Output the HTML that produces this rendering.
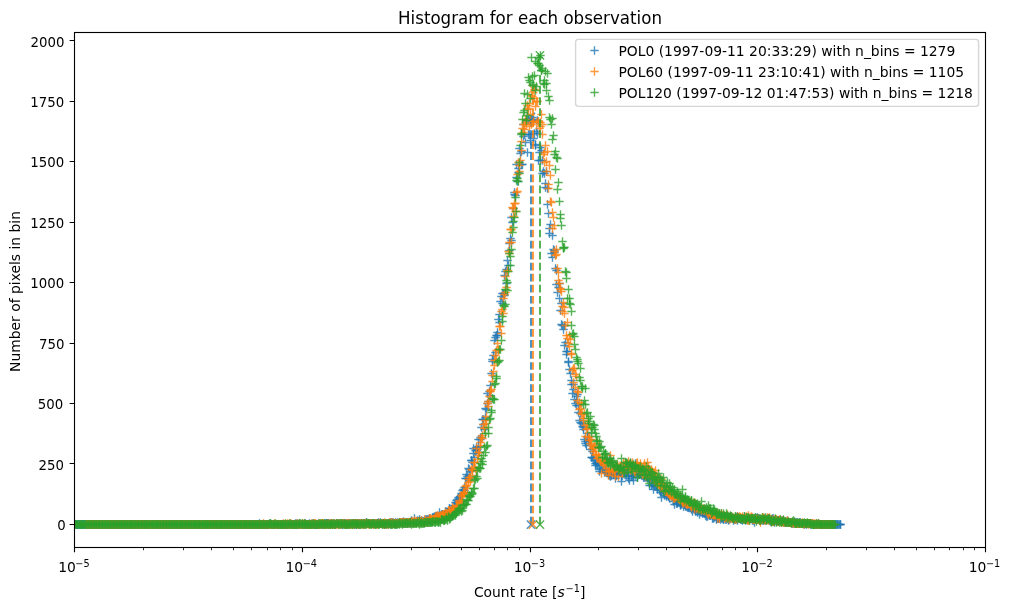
<!DOCTYPE html>
<html lang="en"><head><meta charset="utf-8"><title>Histogram for each observation</title>
<style>html,body{margin:0;padding:0;background:#fff}svg{display:block}</style></head>
<body>
<svg width="1011" height="611" viewBox="0 0 1011 611" font-family="'DejaVu Sans','Liberation Sans',sans-serif" font-size="13.89" fill="#000">
<rect width="1011" height="611" fill="#fff"/>
<clipPath id="c"><rect x="74.5" y="32.5" width="911.0" height="515.0"/></clipPath>
<g clip-path="url(#c)" fill="none">
<g stroke="#1f77b4" stroke-opacity=".8" stroke-width="1.39">
<path d="M64.3 524.5h8.4m-4.2-4.2v8.4"/><path d="M65.3 524.5h8.4m-4.2-4.2v8.4"/><path d="M66.3 524.5h8.4m-4.2-4.2v8.4"/><path d="M67.3 524.5h8.4m-4.2-4.2v8.4"/><path d="M67.3 524.5h8.4m-4.2-4.2v8.4"/><path d="M68.3 524.5h8.4m-4.2-4.2v8.4"/><path d="M69.3 524.5h8.4m-4.2-4.2v8.4"/><path d="M69.3 524.5h8.4m-4.2-4.2v8.4"/><path d="M70.3 524.5h8.4m-4.2-4.2v8.4"/><path d="M71.3 524.5h8.4m-4.2-4.2v8.4"/><path d="M72.3 524.5h8.4m-4.2-4.2v8.4"/><path d="M72.3 524.5h8.4m-4.2-4.2v8.4"/><path d="M73.3 524.5h8.4m-4.2-4.2v8.4"/><path d="M74.3 524.5h8.4m-4.2-4.2v8.4"/><path d="M74.3 524.5h8.4m-4.2-4.2v8.4"/><path d="M75.3 524.5h8.4m-4.2-4.2v8.4"/><path d="M76.3 524.5h8.4m-4.2-4.2v8.4"/><path d="M76.3 524.5h8.4m-4.2-4.2v8.4"/><path d="M77.3 524.5h8.4m-4.2-4.2v8.4"/><path d="M78.3 524.5h8.4m-4.2-4.2v8.4"/><path d="M79.3 524.5h8.4m-4.2-4.2v8.4"/><path d="M79.3 524.5h8.4m-4.2-4.2v8.4"/><path d="M80.3 524.5h8.4m-4.2-4.2v8.4"/><path d="M81.3 524.5h8.4m-4.2-4.2v8.4"/><path d="M81.3 524.5h8.4m-4.2-4.2v8.4"/><path d="M82.3 524.5h8.4m-4.2-4.2v8.4"/><path d="M83.3 524.5h8.4m-4.2-4.2v8.4"/><path d="M83.3 524.5h8.4m-4.2-4.2v8.4"/><path d="M84.3 524.5h8.4m-4.2-4.2v8.4"/><path d="M85.3 524.5h8.4m-4.2-4.2v8.4"/><path d="M86.3 524.5h8.4m-4.2-4.2v8.4"/><path d="M86.3 524.5h8.4m-4.2-4.2v8.4"/><path d="M87.3 524.5h8.4m-4.2-4.2v8.4"/><path d="M88.3 524.5h8.4m-4.2-4.2v8.4"/><path d="M88.3 524.5h8.4m-4.2-4.2v8.4"/><path d="M89.3 524.5h8.4m-4.2-4.2v8.4"/><path d="M90.3 524.5h8.4m-4.2-4.2v8.4"/><path d="M91.3 524.5h8.4m-4.2-4.2v8.4"/><path d="M91.3 524.5h8.4m-4.2-4.2v8.4"/><path d="M92.3 524.5h8.4m-4.2-4.2v8.4"/><path d="M93.3 524.5h8.4m-4.2-4.2v8.4"/><path d="M93.3 524.5h8.4m-4.2-4.2v8.4"/><path d="M94.3 524.5h8.4m-4.2-4.2v8.4"/><path d="M95.3 524.5h8.4m-4.2-4.2v8.4"/><path d="M95.3 524.5h8.4m-4.2-4.2v8.4"/><path d="M96.3 524.5h8.4m-4.2-4.2v8.4"/><path d="M97.3 524.5h8.4m-4.2-4.2v8.4"/><path d="M98.3 524.5h8.4m-4.2-4.2v8.4"/><path d="M98.3 524.5h8.4m-4.2-4.2v8.4"/><path d="M99.3 524.5h8.4m-4.2-4.2v8.4"/><path d="M100.3 524.5h8.4m-4.2-4.2v8.4"/><path d="M100.3 524.5h8.4m-4.2-4.2v8.4"/><path d="M101.3 524.5h8.4m-4.2-4.2v8.4"/><path d="M102.3 524.5h8.4m-4.2-4.2v8.4"/><path d="M102.3 524.5h8.4m-4.2-4.2v8.4"/><path d="M103.3 524.5h8.4m-4.2-4.2v8.4"/><path d="M104.3 524.5h8.4m-4.2-4.2v8.4"/><path d="M105.3 524.5h8.4m-4.2-4.2v8.4"/><path d="M105.3 524.5h8.4m-4.2-4.2v8.4"/><path d="M106.3 524.5h8.4m-4.2-4.2v8.4"/><path d="M107.3 524.5h8.4m-4.2-4.2v8.4"/><path d="M107.3 524.5h8.4m-4.2-4.2v8.4"/><path d="M108.3 524.5h8.4m-4.2-4.2v8.4"/><path d="M109.3 524.5h8.4m-4.2-4.2v8.4"/><path d="M110.3 524.5h8.4m-4.2-4.2v8.4"/><path d="M110.3 524.5h8.4m-4.2-4.2v8.4"/><path d="M111.3 524.5h8.4m-4.2-4.2v8.4"/><path d="M112.3 524.5h8.4m-4.2-4.2v8.4"/><path d="M112.3 524.5h8.4m-4.2-4.2v8.4"/><path d="M113.3 524.5h8.4m-4.2-4.2v8.4"/><path d="M114.3 524.5h8.4m-4.2-4.2v8.4"/><path d="M114.3 524.5h8.4m-4.2-4.2v8.4"/><path d="M115.3 524.5h8.4m-4.2-4.2v8.4"/><path d="M116.3 524.5h8.4m-4.2-4.2v8.4"/><path d="M117.3 524.5h8.4m-4.2-4.2v8.4"/><path d="M117.3 524.5h8.4m-4.2-4.2v8.4"/><path d="M118.3 524.5h8.4m-4.2-4.2v8.4"/><path d="M119.3 524.5h8.4m-4.2-4.2v8.4"/><path d="M119.3 524.5h8.4m-4.2-4.2v8.4"/><path d="M120.3 524.5h8.4m-4.2-4.2v8.4"/><path d="M121.3 524.5h8.4m-4.2-4.2v8.4"/><path d="M122.3 524.5h8.4m-4.2-4.2v8.4"/><path d="M122.3 524.5h8.4m-4.2-4.2v8.4"/><path d="M123.3 524.5h8.4m-4.2-4.2v8.4"/><path d="M124.3 524.5h8.4m-4.2-4.2v8.4"/><path d="M124.3 524.5h8.4m-4.2-4.2v8.4"/><path d="M125.3 524.5h8.4m-4.2-4.2v8.4"/><path d="M126.3 524.5h8.4m-4.2-4.2v8.4"/><path d="M126.3 524.5h8.4m-4.2-4.2v8.4"/><path d="M127.3 524.5h8.4m-4.2-4.2v8.4"/><path d="M128.3 524.5h8.4m-4.2-4.2v8.4"/><path d="M129.3 524.5h8.4m-4.2-4.2v8.4"/><path d="M129.3 524.5h8.4m-4.2-4.2v8.4"/><path d="M130.3 524.5h8.4m-4.2-4.2v8.4"/><path d="M131.3 524.5h8.4m-4.2-4.2v8.4"/><path d="M131.3 524.5h8.4m-4.2-4.2v8.4"/><path d="M132.3 524.5h8.4m-4.2-4.2v8.4"/><path d="M133.3 524.5h8.4m-4.2-4.2v8.4"/><path d="M133.3 524.5h8.4m-4.2-4.2v8.4"/><path d="M134.3 524.5h8.4m-4.2-4.2v8.4"/><path d="M135.3 524.5h8.4m-4.2-4.2v8.4"/><path d="M136.3 524.5h8.4m-4.2-4.2v8.4"/><path d="M136.3 524.5h8.4m-4.2-4.2v8.4"/><path d="M137.3 524.5h8.4m-4.2-4.2v8.4"/><path d="M138.3 524.5h8.4m-4.2-4.2v8.4"/><path d="M138.3 524.5h8.4m-4.2-4.2v8.4"/><path d="M139.3 524.5h8.4m-4.2-4.2v8.4"/><path d="M140.3 524.5h8.4m-4.2-4.2v8.4"/><path d="M141.3 524.5h8.4m-4.2-4.2v8.4"/><path d="M141.3 524.5h8.4m-4.2-4.2v8.4"/><path d="M142.3 524.5h8.4m-4.2-4.2v8.4"/><path d="M143.3 524.5h8.4m-4.2-4.2v8.4"/><path d="M143.3 524.5h8.4m-4.2-4.2v8.4"/><path d="M144.3 524.5h8.4m-4.2-4.2v8.4"/><path d="M145.3 524.5h8.4m-4.2-4.2v8.4"/><path d="M145.3 524.5h8.4m-4.2-4.2v8.4"/><path d="M146.3 524.5h8.4m-4.2-4.2v8.4"/><path d="M147.3 524.5h8.4m-4.2-4.2v8.4"/><path d="M148.3 524.5h8.4m-4.2-4.2v8.4"/><path d="M148.3 524.5h8.4m-4.2-4.2v8.4"/><path d="M149.3 524.5h8.4m-4.2-4.2v8.4"/><path d="M150.3 524.5h8.4m-4.2-4.2v8.4"/><path d="M150.3 524.5h8.4m-4.2-4.2v8.4"/><path d="M151.3 524.5h8.4m-4.2-4.2v8.4"/><path d="M152.3 524.5h8.4m-4.2-4.2v8.4"/><path d="M152.3 524.5h8.4m-4.2-4.2v8.4"/><path d="M153.3 524.5h8.4m-4.2-4.2v8.4"/><path d="M154.3 524.5h8.4m-4.2-4.2v8.4"/><path d="M155.3 524.5h8.4m-4.2-4.2v8.4"/><path d="M155.3 524.5h8.4m-4.2-4.2v8.4"/><path d="M156.3 524.5h8.4m-4.2-4.2v8.4"/><path d="M157.3 524.5h8.4m-4.2-4.2v8.4"/><path d="M157.3 524.5h8.4m-4.2-4.2v8.4"/><path d="M158.3 524.5h8.4m-4.2-4.2v8.4"/><path d="M159.3 524.5h8.4m-4.2-4.2v8.4"/><path d="M160.3 524.5h8.4m-4.2-4.2v8.4"/><path d="M160.3 524.5h8.4m-4.2-4.2v8.4"/><path d="M161.3 524.5h8.4m-4.2-4.2v8.4"/><path d="M162.3 524.5h8.4m-4.2-4.2v8.4"/><path d="M162.3 524.5h8.4m-4.2-4.2v8.4"/><path d="M163.3 524.5h8.4m-4.2-4.2v8.4"/><path d="M164.3 524.5h8.4m-4.2-4.2v8.4"/><path d="M164.3 524.5h8.4m-4.2-4.2v8.4"/><path d="M165.3 524.5h8.4m-4.2-4.2v8.4"/><path d="M166.3 524.5h8.4m-4.2-4.2v8.4"/><path d="M167.3 524.5h8.4m-4.2-4.2v8.4"/><path d="M167.3 524.5h8.4m-4.2-4.2v8.4"/><path d="M168.3 524.5h8.4m-4.2-4.2v8.4"/><path d="M169.3 524.5h8.4m-4.2-4.2v8.4"/><path d="M169.3 524.5h8.4m-4.2-4.2v8.4"/><path d="M170.3 524.5h8.4m-4.2-4.2v8.4"/><path d="M171.3 524.5h8.4m-4.2-4.2v8.4"/><path d="M172.3 524.5h8.4m-4.2-4.2v8.4"/><path d="M172.3 524.5h8.4m-4.2-4.2v8.4"/><path d="M173.3 524.5h8.4m-4.2-4.2v8.4"/><path d="M174.3 524.5h8.4m-4.2-4.2v8.4"/><path d="M174.3 524.5h8.4m-4.2-4.2v8.4"/><path d="M175.3 524.5h8.4m-4.2-4.2v8.4"/><path d="M176.3 524.5h8.4m-4.2-4.2v8.4"/><path d="M176.3 524.5h8.4m-4.2-4.2v8.4"/><path d="M177.3 524.5h8.4m-4.2-4.2v8.4"/><path d="M178.3 524.5h8.4m-4.2-4.2v8.4"/><path d="M179.3 524.5h8.4m-4.2-4.2v8.4"/><path d="M179.3 524.5h8.4m-4.2-4.2v8.4"/><path d="M180.3 524.5h8.4m-4.2-4.2v8.4"/><path d="M181.3 524.5h8.4m-4.2-4.2v8.4"/><path d="M181.3 524.5h8.4m-4.2-4.2v8.4"/><path d="M182.3 524.5h8.4m-4.2-4.2v8.4"/><path d="M183.3 524.5h8.4m-4.2-4.2v8.4"/><path d="M183.3 524.5h8.4m-4.2-4.2v8.4"/><path d="M184.3 524.5h8.4m-4.2-4.2v8.4"/><path d="M185.3 524.5h8.4m-4.2-4.2v8.4"/><path d="M186.3 524.5h8.4m-4.2-4.2v8.4"/><path d="M186.3 524.5h8.4m-4.2-4.2v8.4"/><path d="M187.3 524.5h8.4m-4.2-4.2v8.4"/><path d="M188.3 524.5h8.4m-4.2-4.2v8.4"/><path d="M188.3 524.5h8.4m-4.2-4.2v8.4"/><path d="M189.3 524.5h8.4m-4.2-4.2v8.4"/><path d="M190.3 524.5h8.4m-4.2-4.2v8.4"/><path d="M191.3 524.5h8.4m-4.2-4.2v8.4"/><path d="M191.3 524.5h8.4m-4.2-4.2v8.4"/><path d="M192.3 524.5h8.4m-4.2-4.2v8.4"/><path d="M193.3 524.5h8.4m-4.2-4.2v8.4"/><path d="M193.3 524.5h8.4m-4.2-4.2v8.4"/><path d="M194.3 524.5h8.4m-4.2-4.2v8.4"/><path d="M195.3 524.5h8.4m-4.2-4.2v8.4"/><path d="M195.3 524.5h8.4m-4.2-4.2v8.4"/><path d="M196.3 524.5h8.4m-4.2-4.2v8.4"/><path d="M197.3 524.5h8.4m-4.2-4.2v8.4"/><path d="M198.3 524.5h8.4m-4.2-4.2v8.4"/><path d="M198.3 524.5h8.4m-4.2-4.2v8.4"/><path d="M199.3 524.5h8.4m-4.2-4.2v8.4"/><path d="M200.3 524.5h8.4m-4.2-4.2v8.4"/><path d="M200.3 524.5h8.4m-4.2-4.2v8.4"/><path d="M201.3 524.5h8.4m-4.2-4.2v8.4"/><path d="M202.3 524.5h8.4m-4.2-4.2v8.4"/><path d="M202.3 524.5h8.4m-4.2-4.2v8.4"/><path d="M203.3 524.5h8.4m-4.2-4.2v8.4"/><path d="M204.3 524.5h8.4m-4.2-4.2v8.4"/><path d="M205.3 524.5h8.4m-4.2-4.2v8.4"/><path d="M205.3 524.5h8.4m-4.2-4.2v8.4"/><path d="M206.3 524.5h8.4m-4.2-4.2v8.4"/><path d="M207.3 524.5h8.4m-4.2-4.2v8.4"/><path d="M207.3 524.5h8.4m-4.2-4.2v8.4"/><path d="M208.3 524.5h8.4m-4.2-4.2v8.4"/><path d="M209.3 524.5h8.4m-4.2-4.2v8.4"/><path d="M210.3 524.5h8.4m-4.2-4.2v8.4"/><path d="M210.3 524.5h8.4m-4.2-4.2v8.4"/><path d="M211.3 524.5h8.4m-4.2-4.2v8.4"/><path d="M212.3 524.5h8.4m-4.2-4.2v8.4"/><path d="M212.3 524.5h8.4m-4.2-4.2v8.4"/><path d="M213.3 524.5h8.4m-4.2-4.2v8.4"/><path d="M214.3 524.5h8.4m-4.2-4.2v8.4"/><path d="M214.3 524.5h8.4m-4.2-4.2v8.4"/><path d="M215.3 524.5h8.4m-4.2-4.2v8.4"/><path d="M216.3 524.5h8.4m-4.2-4.2v8.4"/><path d="M217.3 524.5h8.4m-4.2-4.2v8.4"/><path d="M217.3 524.5h8.4m-4.2-4.2v8.4"/><path d="M218.3 524.5h8.4m-4.2-4.2v8.4"/><path d="M219.3 524.5h8.4m-4.2-4.2v8.4"/><path d="M219.3 524.5h8.4m-4.2-4.2v8.4"/><path d="M220.3 524.5h8.4m-4.2-4.2v8.4"/><path d="M221.3 524.5h8.4m-4.2-4.2v8.4"/><path d="M222.3 524.5h8.4m-4.2-4.2v8.4"/><path d="M222.3 524.5h8.4m-4.2-4.2v8.4"/><path d="M223.3 524.5h8.4m-4.2-4.2v8.4"/><path d="M224.3 524.5h8.4m-4.2-4.2v8.4"/><path d="M224.3 524.5h8.4m-4.2-4.2v8.4"/><path d="M225.3 524.5h8.4m-4.2-4.2v8.4"/><path d="M226.3 524.5h8.4m-4.2-4.2v8.4"/><path d="M226.3 524.5h8.4m-4.2-4.2v8.4"/><path d="M227.3 524.5h8.4m-4.2-4.2v8.4"/><path d="M228.3 524.5h8.4m-4.2-4.2v8.4"/><path d="M229.3 524.5h8.4m-4.2-4.2v8.4"/><path d="M229.3 524.5h8.4m-4.2-4.2v8.4"/><path d="M230.3 524.5h8.4m-4.2-4.2v8.4"/><path d="M231.3 524.5h8.4m-4.2-4.2v8.4"/><path d="M231.3 524.5h8.4m-4.2-4.2v8.4"/><path d="M232.3 524.5h8.4m-4.2-4.2v8.4"/><path d="M233.3 524.5h8.4m-4.2-4.2v8.4"/><path d="M233.3 524.5h8.4m-4.2-4.2v8.4"/><path d="M234.3 524.5h8.4m-4.2-4.2v8.4"/><path d="M235.3 524.5h8.4m-4.2-4.2v8.4"/><path d="M236.3 524.5h8.4m-4.2-4.2v8.4"/><path d="M236.3 524.5h8.4m-4.2-4.2v8.4"/><path d="M237.3 524.5h8.4m-4.2-4.2v8.4"/><path d="M238.3 524.5h8.4m-4.2-4.2v8.4"/><path d="M238.3 524.5h8.4m-4.2-4.2v8.4"/><path d="M239.3 524.5h8.4m-4.2-4.2v8.4"/><path d="M240.3 524.5h8.4m-4.2-4.2v8.4"/><path d="M241.3 524.5h8.4m-4.2-4.2v8.4"/><path d="M241.3 524.5h8.4m-4.2-4.2v8.4"/><path d="M242.3 524.5h8.4m-4.2-4.2v8.4"/><path d="M243.3 524.5h8.4m-4.2-4.2v8.4"/><path d="M243.3 524.5h8.4m-4.2-4.2v8.4"/><path d="M244.3 524.5h8.4m-4.2-4.2v8.4"/><path d="M245.3 524.5h8.4m-4.2-4.2v8.4"/><path d="M245.3 524.5h8.4m-4.2-4.2v8.4"/><path d="M246.3 524.5h8.4m-4.2-4.2v8.4"/><path d="M247.3 524.5h8.4m-4.2-4.2v8.4"/><path d="M248.3 524.5h8.4m-4.2-4.2v8.4"/><path d="M248.3 524.5h8.4m-4.2-4.2v8.4"/><path d="M249.3 524.5h8.4m-4.2-4.2v8.4"/><path d="M250.3 524.5h8.4m-4.2-4.2v8.4"/><path d="M250.3 524.5h8.4m-4.2-4.2v8.4"/><path d="M251.3 524.5h8.4m-4.2-4.2v8.4"/><path d="M252.3 524.5h8.4m-4.2-4.2v8.4"/><path d="M252.3 524.5h8.4m-4.2-4.2v8.4"/><path d="M253.3 524.5h8.4m-4.2-4.2v8.4"/><path d="M254.3 524.5h8.4m-4.2-4.2v8.4"/><path d="M255.3 524.5h8.4m-4.2-4.2v8.4"/><path d="M255.3 523.5h8.4m-4.2-4.2v8.4"/><path d="M256.3 524.5h8.4m-4.2-4.2v8.4"/><path d="M257.3 524.5h8.4m-4.2-4.2v8.4"/><path d="M257.3 524.5h8.4m-4.2-4.2v8.4"/><path d="M258.3 524.5h8.4m-4.2-4.2v8.4"/><path d="M259.3 524.5h8.4m-4.2-4.2v8.4"/><path d="M260.3 524.5h8.4m-4.2-4.2v8.4"/><path d="M260.3 524.5h8.4m-4.2-4.2v8.4"/><path d="M261.3 524.5h8.4m-4.2-4.2v8.4"/><path d="M262.3 524.5h8.4m-4.2-4.2v8.4"/><path d="M262.3 524.5h8.4m-4.2-4.2v8.4"/><path d="M263.3 524.5h8.4m-4.2-4.2v8.4"/><path d="M264.3 524.5h8.4m-4.2-4.2v8.4"/><path d="M264.3 524.5h8.4m-4.2-4.2v8.4"/><path d="M265.3 524.5h8.4m-4.2-4.2v8.4"/><path d="M266.3 523.5h8.4m-4.2-4.2v8.4"/><path d="M267.3 524.5h8.4m-4.2-4.2v8.4"/><path d="M267.3 524.5h8.4m-4.2-4.2v8.4"/><path d="M268.3 524.5h8.4m-4.2-4.2v8.4"/><path d="M269.3 524.5h8.4m-4.2-4.2v8.4"/><path d="M269.3 524.5h8.4m-4.2-4.2v8.4"/><path d="M270.3 524.5h8.4m-4.2-4.2v8.4"/><path d="M271.3 524.5h8.4m-4.2-4.2v8.4"/><path d="M272.3 524.5h8.4m-4.2-4.2v8.4"/><path d="M272.3 524.5h8.4m-4.2-4.2v8.4"/><path d="M273.3 524.5h8.4m-4.2-4.2v8.4"/><path d="M274.3 524.5h8.4m-4.2-4.2v8.4"/><path d="M274.3 524.5h8.4m-4.2-4.2v8.4"/><path d="M275.3 524.5h8.4m-4.2-4.2v8.4"/><path d="M276.3 524.5h8.4m-4.2-4.2v8.4"/><path d="M276.3 524.5h8.4m-4.2-4.2v8.4"/><path d="M277.3 524.5h8.4m-4.2-4.2v8.4"/><path d="M278.3 524.5h8.4m-4.2-4.2v8.4"/><path d="M279.3 524.5h8.4m-4.2-4.2v8.4"/><path d="M279.3 524.5h8.4m-4.2-4.2v8.4"/><path d="M280.3 524.5h8.4m-4.2-4.2v8.4"/><path d="M281.3 524.5h8.4m-4.2-4.2v8.4"/><path d="M281.3 524.5h8.4m-4.2-4.2v8.4"/><path d="M282.3 524.5h8.4m-4.2-4.2v8.4"/><path d="M283.3 524.5h8.4m-4.2-4.2v8.4"/><path d="M283.3 524.5h8.4m-4.2-4.2v8.4"/><path d="M284.3 524.5h8.4m-4.2-4.2v8.4"/><path d="M285.3 524.5h8.4m-4.2-4.2v8.4"/><path d="M286.3 523.5h8.4m-4.2-4.2v8.4"/><path d="M286.3 524.5h8.4m-4.2-4.2v8.4"/><path d="M287.3 524.5h8.4m-4.2-4.2v8.4"/><path d="M288.3 524.5h8.4m-4.2-4.2v8.4"/><path d="M288.3 524.5h8.4m-4.2-4.2v8.4"/><path d="M289.3 524.5h8.4m-4.2-4.2v8.4"/><path d="M290.3 524.5h8.4m-4.2-4.2v8.4"/><path d="M291.3 524.5h8.4m-4.2-4.2v8.4"/><path d="M291.3 523.5h8.4m-4.2-4.2v8.4"/><path d="M292.3 524.5h8.4m-4.2-4.2v8.4"/><path d="M293.3 524.5h8.4m-4.2-4.2v8.4"/><path d="M293.3 523.5h8.4m-4.2-4.2v8.4"/><path d="M294.3 524.5h8.4m-4.2-4.2v8.4"/><path d="M295.3 524.5h8.4m-4.2-4.2v8.4"/><path d="M295.3 523.5h8.4m-4.2-4.2v8.4"/><path d="M296.3 524.5h8.4m-4.2-4.2v8.4"/><path d="M297.3 524.5h8.4m-4.2-4.2v8.4"/><path d="M298.3 524.5h8.4m-4.2-4.2v8.4"/><path d="M298.3 524.5h8.4m-4.2-4.2v8.4"/><path d="M299.3 524.5h8.4m-4.2-4.2v8.4"/><path d="M300.3 524.5h8.4m-4.2-4.2v8.4"/><path d="M300.3 524.5h8.4m-4.2-4.2v8.4"/><path d="M301.3 523.5h8.4m-4.2-4.2v8.4"/><path d="M302.3 524.5h8.4m-4.2-4.2v8.4"/><path d="M302.3 524.5h8.4m-4.2-4.2v8.4"/><path d="M303.3 524.5h8.4m-4.2-4.2v8.4"/><path d="M304.3 524.5h8.4m-4.2-4.2v8.4"/><path d="M305.3 523.5h8.4m-4.2-4.2v8.4"/><path d="M305.3 524.5h8.4m-4.2-4.2v8.4"/><path d="M306.3 524.5h8.4m-4.2-4.2v8.4"/><path d="M307.3 524.5h8.4m-4.2-4.2v8.4"/><path d="M307.3 524.5h8.4m-4.2-4.2v8.4"/><path d="M308.3 523.5h8.4m-4.2-4.2v8.4"/><path d="M309.3 524.5h8.4m-4.2-4.2v8.4"/><path d="M310.3 524.5h8.4m-4.2-4.2v8.4"/><path d="M310.3 524.5h8.4m-4.2-4.2v8.4"/><path d="M311.3 524.5h8.4m-4.2-4.2v8.4"/><path d="M312.3 524.5h8.4m-4.2-4.2v8.4"/><path d="M312.3 524.5h8.4m-4.2-4.2v8.4"/><path d="M313.3 524.5h8.4m-4.2-4.2v8.4"/><path d="M314.3 524.5h8.4m-4.2-4.2v8.4"/><path d="M314.3 523.5h8.4m-4.2-4.2v8.4"/><path d="M315.3 524.5h8.4m-4.2-4.2v8.4"/><path d="M316.3 524.5h8.4m-4.2-4.2v8.4"/><path d="M317.3 523.5h8.4m-4.2-4.2v8.4"/><path d="M317.3 524.5h8.4m-4.2-4.2v8.4"/><path d="M318.3 524.5h8.4m-4.2-4.2v8.4"/><path d="M319.3 524.5h8.4m-4.2-4.2v8.4"/><path d="M319.3 524.5h8.4m-4.2-4.2v8.4"/><path d="M320.3 523.5h8.4m-4.2-4.2v8.4"/><path d="M321.3 523.5h8.4m-4.2-4.2v8.4"/><path d="M322.3 523.5h8.4m-4.2-4.2v8.4"/><path d="M322.3 523.5h8.4m-4.2-4.2v8.4"/><path d="M323.3 523.5h8.4m-4.2-4.2v8.4"/><path d="M324.3 523.5h8.4m-4.2-4.2v8.4"/><path d="M324.3 523.5h8.4m-4.2-4.2v8.4"/><path d="M325.3 524.5h8.4m-4.2-4.2v8.4"/><path d="M326.3 524.5h8.4m-4.2-4.2v8.4"/><path d="M326.3 523.5h8.4m-4.2-4.2v8.4"/><path d="M327.3 523.5h8.4m-4.2-4.2v8.4"/><path d="M328.3 524.5h8.4m-4.2-4.2v8.4"/><path d="M329.3 523.5h8.4m-4.2-4.2v8.4"/><path d="M329.3 524.5h8.4m-4.2-4.2v8.4"/><path d="M330.3 523.5h8.4m-4.2-4.2v8.4"/><path d="M331.3 524.5h8.4m-4.2-4.2v8.4"/><path d="M331.3 524.5h8.4m-4.2-4.2v8.4"/><path d="M332.3 523.5h8.4m-4.2-4.2v8.4"/><path d="M333.3 523.5h8.4m-4.2-4.2v8.4"/><path d="M333.3 523.5h8.4m-4.2-4.2v8.4"/><path d="M334.3 524.5h8.4m-4.2-4.2v8.4"/><path d="M335.3 523.5h8.4m-4.2-4.2v8.4"/><path d="M336.3 524.5h8.4m-4.2-4.2v8.4"/><path d="M336.3 523.5h8.4m-4.2-4.2v8.4"/><path d="M337.3 523.5h8.4m-4.2-4.2v8.4"/><path d="M338.3 524.5h8.4m-4.2-4.2v8.4"/><path d="M338.3 524.5h8.4m-4.2-4.2v8.4"/><path d="M339.3 523.5h8.4m-4.2-4.2v8.4"/><path d="M340.3 523.5h8.4m-4.2-4.2v8.4"/><path d="M341.3 524.5h8.4m-4.2-4.2v8.4"/><path d="M341.3 523.5h8.4m-4.2-4.2v8.4"/><path d="M342.3 523.5h8.4m-4.2-4.2v8.4"/><path d="M343.3 524.5h8.4m-4.2-4.2v8.4"/><path d="M343.3 523.5h8.4m-4.2-4.2v8.4"/><path d="M344.3 523.5h8.4m-4.2-4.2v8.4"/><path d="M345.3 523.5h8.4m-4.2-4.2v8.4"/><path d="M345.3 523.5h8.4m-4.2-4.2v8.4"/><path d="M346.3 524.5h8.4m-4.2-4.2v8.4"/><path d="M347.3 523.5h8.4m-4.2-4.2v8.4"/><path d="M348.3 523.5h8.4m-4.2-4.2v8.4"/><path d="M348.3 523.5h8.4m-4.2-4.2v8.4"/><path d="M349.3 523.5h8.4m-4.2-4.2v8.4"/><path d="M350.3 524.5h8.4m-4.2-4.2v8.4"/><path d="M350.3 524.5h8.4m-4.2-4.2v8.4"/><path d="M351.3 523.5h8.4m-4.2-4.2v8.4"/><path d="M352.3 523.5h8.4m-4.2-4.2v8.4"/><path d="M352.3 524.5h8.4m-4.2-4.2v8.4"/><path d="M353.3 523.5h8.4m-4.2-4.2v8.4"/><path d="M354.3 524.5h8.4m-4.2-4.2v8.4"/><path d="M355.3 523.5h8.4m-4.2-4.2v8.4"/><path d="M355.3 523.5h8.4m-4.2-4.2v8.4"/><path d="M356.3 523.5h8.4m-4.2-4.2v8.4"/><path d="M357.3 523.5h8.4m-4.2-4.2v8.4"/><path d="M357.3 523.5h8.4m-4.2-4.2v8.4"/><path d="M358.3 523.5h8.4m-4.2-4.2v8.4"/><path d="M359.3 524.5h8.4m-4.2-4.2v8.4"/><path d="M360.3 523.5h8.4m-4.2-4.2v8.4"/><path d="M360.3 523.5h8.4m-4.2-4.2v8.4"/><path d="M361.3 523.5h8.4m-4.2-4.2v8.4"/><path d="M362.3 522.5h8.4m-4.2-4.2v8.4"/><path d="M362.3 523.5h8.4m-4.2-4.2v8.4"/><path d="M363.3 523.5h8.4m-4.2-4.2v8.4"/><path d="M364.3 523.5h8.4m-4.2-4.2v8.4"/><path d="M364.3 523.5h8.4m-4.2-4.2v8.4"/><path d="M365.3 523.5h8.4m-4.2-4.2v8.4"/><path d="M366.3 523.5h8.4m-4.2-4.2v8.4"/><path d="M367.3 523.5h8.4m-4.2-4.2v8.4"/><path d="M367.3 523.5h8.4m-4.2-4.2v8.4"/><path d="M368.3 523.5h8.4m-4.2-4.2v8.4"/><path d="M369.3 523.5h8.4m-4.2-4.2v8.4"/><path d="M369.3 524.5h8.4m-4.2-4.2v8.4"/><path d="M370.3 523.5h8.4m-4.2-4.2v8.4"/><path d="M371.3 523.5h8.4m-4.2-4.2v8.4"/><path d="M372.3 523.5h8.4m-4.2-4.2v8.4"/><path d="M372.3 523.5h8.4m-4.2-4.2v8.4"/><path d="M373.3 523.5h8.4m-4.2-4.2v8.4"/><path d="M374.3 523.5h8.4m-4.2-4.2v8.4"/><path d="M374.3 522.5h8.4m-4.2-4.2v8.4"/><path d="M375.3 523.5h8.4m-4.2-4.2v8.4"/><path d="M376.3 523.5h8.4m-4.2-4.2v8.4"/><path d="M376.3 522.5h8.4m-4.2-4.2v8.4"/><path d="M377.3 523.5h8.4m-4.2-4.2v8.4"/><path d="M378.3 524.5h8.4m-4.2-4.2v8.4"/><path d="M379.3 523.5h8.4m-4.2-4.2v8.4"/><path d="M379.3 523.5h8.4m-4.2-4.2v8.4"/><path d="M380.3 524.5h8.4m-4.2-4.2v8.4"/><path d="M381.3 524.5h8.4m-4.2-4.2v8.4"/><path d="M381.3 523.5h8.4m-4.2-4.2v8.4"/><path d="M382.3 523.5h8.4m-4.2-4.2v8.4"/><path d="M383.3 523.5h8.4m-4.2-4.2v8.4"/><path d="M383.3 523.5h8.4m-4.2-4.2v8.4"/><path d="M384.3 523.5h8.4m-4.2-4.2v8.4"/><path d="M385.3 523.5h8.4m-4.2-4.2v8.4"/><path d="M386.3 524.5h8.4m-4.2-4.2v8.4"/><path d="M386.3 522.5h8.4m-4.2-4.2v8.4"/><path d="M387.3 522.5h8.4m-4.2-4.2v8.4"/><path d="M388.3 523.5h8.4m-4.2-4.2v8.4"/><path d="M388.3 522.5h8.4m-4.2-4.2v8.4"/><path d="M389.3 523.5h8.4m-4.2-4.2v8.4"/><path d="M390.3 523.5h8.4m-4.2-4.2v8.4"/><path d="M391.3 522.5h8.4m-4.2-4.2v8.4"/><path d="M391.3 524.5h8.4m-4.2-4.2v8.4"/><path d="M392.3 523.5h8.4m-4.2-4.2v8.4"/><path d="M393.3 522.5h8.4m-4.2-4.2v8.4"/><path d="M393.3 523.5h8.4m-4.2-4.2v8.4"/><path d="M394.3 523.5h8.4m-4.2-4.2v8.4"/><path d="M395.3 523.5h8.4m-4.2-4.2v8.4"/><path d="M395.3 522.5h8.4m-4.2-4.2v8.4"/><path d="M396.3 522.5h8.4m-4.2-4.2v8.4"/><path d="M397.3 522.5h8.4m-4.2-4.2v8.4"/><path d="M398.3 523.5h8.4m-4.2-4.2v8.4"/><path d="M398.3 522.5h8.4m-4.2-4.2v8.4"/><path d="M399.3 521.5h8.4m-4.2-4.2v8.4"/><path d="M400.3 522.5h8.4m-4.2-4.2v8.4"/><path d="M400.3 523.5h8.4m-4.2-4.2v8.4"/><path d="M401.3 522.5h8.4m-4.2-4.2v8.4"/><path d="M402.3 522.5h8.4m-4.2-4.2v8.4"/><path d="M402.3 523.5h8.4m-4.2-4.2v8.4"/><path d="M403.3 522.5h8.4m-4.2-4.2v8.4"/><path d="M404.3 522.5h8.4m-4.2-4.2v8.4"/><path d="M405.3 523.5h8.4m-4.2-4.2v8.4"/><path d="M405.3 522.5h8.4m-4.2-4.2v8.4"/><path d="M406.3 522.5h8.4m-4.2-4.2v8.4"/><path d="M407.3 520.5h8.4m-4.2-4.2v8.4"/><path d="M407.3 521.5h8.4m-4.2-4.2v8.4"/><path d="M408.3 522.5h8.4m-4.2-4.2v8.4"/><path d="M409.3 522.5h8.4m-4.2-4.2v8.4"/><path d="M410.3 518.5h8.4m-4.2-4.2v8.4"/><path d="M410.3 522.5h8.4m-4.2-4.2v8.4"/><path d="M411.3 522.5h8.4m-4.2-4.2v8.4"/><path d="M412.3 522.5h8.4m-4.2-4.2v8.4"/><path d="M412.3 522.5h8.4m-4.2-4.2v8.4"/><path d="M413.3 520.5h8.4m-4.2-4.2v8.4"/><path d="M414.3 521.5h8.4m-4.2-4.2v8.4"/><path d="M414.3 521.5h8.4m-4.2-4.2v8.4"/><path d="M415.3 519.5h8.4m-4.2-4.2v8.4"/><path d="M416.3 521.5h8.4m-4.2-4.2v8.4"/><path d="M417.3 520.5h8.4m-4.2-4.2v8.4"/><path d="M417.3 521.5h8.4m-4.2-4.2v8.4"/><path d="M418.3 521.5h8.4m-4.2-4.2v8.4"/><path d="M419.3 521.5h8.4m-4.2-4.2v8.4"/><path d="M419.3 521.5h8.4m-4.2-4.2v8.4"/><path d="M420.3 522.5h8.4m-4.2-4.2v8.4"/><path d="M421.3 519.5h8.4m-4.2-4.2v8.4"/><path d="M422.3 519.5h8.4m-4.2-4.2v8.4"/><path d="M422.3 520.5h8.4m-4.2-4.2v8.4"/><path d="M423.3 519.5h8.4m-4.2-4.2v8.4"/><path d="M424.3 519.5h8.4m-4.2-4.2v8.4"/><path d="M424.3 520.5h8.4m-4.2-4.2v8.4"/><path d="M425.3 518.5h8.4m-4.2-4.2v8.4"/><path d="M426.3 520.5h8.4m-4.2-4.2v8.4"/><path d="M426.3 518.5h8.4m-4.2-4.2v8.4"/><path d="M427.3 521.5h8.4m-4.2-4.2v8.4"/><path d="M428.3 517.5h8.4m-4.2-4.2v8.4"/><path d="M429.3 517.5h8.4m-4.2-4.2v8.4"/><path d="M429.3 517.5h8.4m-4.2-4.2v8.4"/><path d="M430.3 516.5h8.4m-4.2-4.2v8.4"/><path d="M431.3 517.5h8.4m-4.2-4.2v8.4"/><path d="M431.3 517.5h8.4m-4.2-4.2v8.4"/><path d="M432.3 516.5h8.4m-4.2-4.2v8.4"/><path d="M433.3 517.5h8.4m-4.2-4.2v8.4"/><path d="M433.3 518.5h8.4m-4.2-4.2v8.4"/><path d="M434.3 517.5h8.4m-4.2-4.2v8.4"/><path d="M435.3 512.5h8.4m-4.2-4.2v8.4"/><path d="M436.3 516.5h8.4m-4.2-4.2v8.4"/><path d="M436.3 516.5h8.4m-4.2-4.2v8.4"/><path d="M437.3 514.5h8.4m-4.2-4.2v8.4"/><path d="M438.3 514.5h8.4m-4.2-4.2v8.4"/><path d="M438.3 514.5h8.4m-4.2-4.2v8.4"/><path d="M439.3 516.5h8.4m-4.2-4.2v8.4"/><path d="M440.3 514.5h8.4m-4.2-4.2v8.4"/><path d="M441.3 514.5h8.4m-4.2-4.2v8.4"/><path d="M441.3 511.5h8.4m-4.2-4.2v8.4"/><path d="M442.3 514.5h8.4m-4.2-4.2v8.4"/><path d="M443.3 512.5h8.4m-4.2-4.2v8.4"/><path d="M443.3 513.5h8.4m-4.2-4.2v8.4"/><path d="M444.3 512.5h8.4m-4.2-4.2v8.4"/><path d="M445.3 508.5h8.4m-4.2-4.2v8.4"/><path d="M445.3 508.5h8.4m-4.2-4.2v8.4"/><path d="M446.3 511.5h8.4m-4.2-4.2v8.4"/><path d="M447.3 509.5h8.4m-4.2-4.2v8.4"/><path d="M448.3 511.5h8.4m-4.2-4.2v8.4"/><path d="M448.3 510.5h8.4m-4.2-4.2v8.4"/><path d="M449.3 510.5h8.4m-4.2-4.2v8.4"/><path d="M450.3 506.5h8.4m-4.2-4.2v8.4"/><path d="M450.3 505.5h8.4m-4.2-4.2v8.4"/><path d="M451.3 502.5h8.4m-4.2-4.2v8.4"/><path d="M452.3 500.5h8.4m-4.2-4.2v8.4"/><path d="M452.3 503.5h8.4m-4.2-4.2v8.4"/><path d="M453.3 499.5h8.4m-4.2-4.2v8.4"/><path d="M454.3 497.5h8.4m-4.2-4.2v8.4"/><path d="M455.3 501.5h8.4m-4.2-4.2v8.4"/><path d="M455.3 499.5h8.4m-4.2-4.2v8.4"/><path d="M456.3 496.5h8.4m-4.2-4.2v8.4"/><path d="M457.3 495.5h8.4m-4.2-4.2v8.4"/><path d="M457.3 493.5h8.4m-4.2-4.2v8.4"/><path d="M458.3 490.5h8.4m-4.2-4.2v8.4"/><path d="M459.3 489.5h8.4m-4.2-4.2v8.4"/><path d="M460.3 490.5h8.4m-4.2-4.2v8.4"/><path d="M460.3 487.5h8.4m-4.2-4.2v8.4"/><path d="M461.3 478.5h8.4m-4.2-4.2v8.4"/><path d="M462.3 474.5h8.4m-4.2-4.2v8.4"/><path d="M462.3 478.5h8.4m-4.2-4.2v8.4"/><path d="M463.3 476.5h8.4m-4.2-4.2v8.4"/><path d="M464.3 478.5h8.4m-4.2-4.2v8.4"/><path d="M464.3 468.5h8.4m-4.2-4.2v8.4"/><path d="M465.3 469.5h8.4m-4.2-4.2v8.4"/><path d="M466.3 471.5h8.4m-4.2-4.2v8.4"/><path d="M467.3 460.5h8.4m-4.2-4.2v8.4"/><path d="M467.3 460.5h8.4m-4.2-4.2v8.4"/><path d="M468.3 462.5h8.4m-4.2-4.2v8.4"/><path d="M469.3 453.5h8.4m-4.2-4.2v8.4"/><path d="M469.3 448.5h8.4m-4.2-4.2v8.4"/><path d="M470.3 457.5h8.4m-4.2-4.2v8.4"/><path d="M471.3 450.5h8.4m-4.2-4.2v8.4"/><path d="M472.3 450.5h8.4m-4.2-4.2v8.4"/><path d="M472.3 447.5h8.4m-4.2-4.2v8.4"/><path d="M473.3 449.5h8.4m-4.2-4.2v8.4"/><path d="M474.3 446.5h8.4m-4.2-4.2v8.4"/><path d="M474.3 439.5h8.4m-4.2-4.2v8.4"/><path d="M475.3 452.5h8.4m-4.2-4.2v8.4"/><path d="M476.3 437.5h8.4m-4.2-4.2v8.4"/><path d="M476.3 439.5h8.4m-4.2-4.2v8.4"/><path d="M477.3 427.5h8.4m-4.2-4.2v8.4"/><path d="M478.3 419.5h8.4m-4.2-4.2v8.4"/><path d="M479.3 419.5h8.4m-4.2-4.2v8.4"/><path d="M479.3 424.5h8.4m-4.2-4.2v8.4"/><path d="M480.3 429.5h8.4m-4.2-4.2v8.4"/><path d="M481.3 417.5h8.4m-4.2-4.2v8.4"/><path d="M481.3 408.5h8.4m-4.2-4.2v8.4"/><path d="M482.3 409.5h8.4m-4.2-4.2v8.4"/><path d="M483.3 403.5h8.4m-4.2-4.2v8.4"/><path d="M483.3 393.5h8.4m-4.2-4.2v8.4"/><path d="M484.3 401.5h8.4m-4.2-4.2v8.4"/><path d="M485.3 391.5h8.4m-4.2-4.2v8.4"/><path d="M486.3 395.5h8.4m-4.2-4.2v8.4"/><path d="M486.3 385.5h8.4m-4.2-4.2v8.4"/><path d="M487.3 373.5h8.4m-4.2-4.2v8.4"/><path d="M488.3 359.5h8.4m-4.2-4.2v8.4"/><path d="M488.3 361.5h8.4m-4.2-4.2v8.4"/><path d="M489.3 355.5h8.4m-4.2-4.2v8.4"/><path d="M490.3 340.5h8.4m-4.2-4.2v8.4"/><path d="M491.3 337.5h8.4m-4.2-4.2v8.4"/><path d="M491.3 352.5h8.4m-4.2-4.2v8.4"/><path d="M492.3 335.5h8.4m-4.2-4.2v8.4"/><path d="M493.3 335.5h8.4m-4.2-4.2v8.4"/><path d="M493.3 332.5h8.4m-4.2-4.2v8.4"/><path d="M494.3 319.5h8.4m-4.2-4.2v8.4"/><path d="M495.3 314.5h8.4m-4.2-4.2v8.4"/><path d="M495.3 322.5h8.4m-4.2-4.2v8.4"/><path d="M496.3 301.5h8.4m-4.2-4.2v8.4"/><path d="M497.3 296.5h8.4m-4.2-4.2v8.4"/><path d="M498.3 303.5h8.4m-4.2-4.2v8.4"/><path d="M498.3 293.5h8.4m-4.2-4.2v8.4"/><path d="M499.3 293.5h8.4m-4.2-4.2v8.4"/><path d="M500.3 295.5h8.4m-4.2-4.2v8.4"/><path d="M500.3 275.5h8.4m-4.2-4.2v8.4"/><path d="M501.3 271.5h8.4m-4.2-4.2v8.4"/><path d="M502.3 283.5h8.4m-4.2-4.2v8.4"/><path d="M502.3 269.5h8.4m-4.2-4.2v8.4"/><path d="M503.3 260.5h8.4m-4.2-4.2v8.4"/><path d="M504.3 265.5h8.4m-4.2-4.2v8.4"/><path d="M505.3 243.5h8.4m-4.2-4.2v8.4"/><path d="M505.3 250.5h8.4m-4.2-4.2v8.4"/><path d="M506.3 238.5h8.4m-4.2-4.2v8.4"/><path d="M507.3 217.5h8.4m-4.2-4.2v8.4"/><path d="M507.3 240.5h8.4m-4.2-4.2v8.4"/><path d="M508.3 222.5h8.4m-4.2-4.2v8.4"/><path d="M509.3 208.5h8.4m-4.2-4.2v8.4"/><path d="M510.3 194.5h8.4m-4.2-4.2v8.4"/><path d="M510.3 192.5h8.4m-4.2-4.2v8.4"/><path d="M511.3 195.5h8.4m-4.2-4.2v8.4"/><path d="M512.3 177.5h8.4m-4.2-4.2v8.4"/><path d="M512.3 164.5h8.4m-4.2-4.2v8.4"/><path d="M513.3 181.5h8.4m-4.2-4.2v8.4"/><path d="M514.3 172.5h8.4m-4.2-4.2v8.4"/><path d="M514.3 168.5h8.4m-4.2-4.2v8.4"/><path d="M515.3 148.5h8.4m-4.2-4.2v8.4"/><path d="M516.3 153.5h8.4m-4.2-4.2v8.4"/><path d="M517.3 164.5h8.4m-4.2-4.2v8.4"/><path d="M517.3 151.5h8.4m-4.2-4.2v8.4"/><path d="M518.3 164.5h8.4m-4.2-4.2v8.4"/><path d="M519.3 136.5h8.4m-4.2-4.2v8.4"/><path d="M519.3 124.5h8.4m-4.2-4.2v8.4"/><path d="M520.3 134.5h8.4m-4.2-4.2v8.4"/><path d="M521.3 142.5h8.4m-4.2-4.2v8.4"/><path d="M522.3 119.5h8.4m-4.2-4.2v8.4"/><path d="M522.3 120.5h8.4m-4.2-4.2v8.4"/><path d="M523.3 152.5h8.4m-4.2-4.2v8.4"/><path d="M524.3 119.5h8.4m-4.2-4.2v8.4"/><path d="M524.3 134.5h8.4m-4.2-4.2v8.4"/><path d="M525.3 134.5h8.4m-4.2-4.2v8.4"/><path d="M526.3 140.5h8.4m-4.2-4.2v8.4"/><path d="M526.3 119.5h8.4m-4.2-4.2v8.4"/><path d="M527.3 122.5h8.4m-4.2-4.2v8.4"/><path d="M528.3 117.5h8.4m-4.2-4.2v8.4"/><path d="M529.3 138.5h8.4m-4.2-4.2v8.4"/><path d="M529.3 119.5h8.4m-4.2-4.2v8.4"/><path d="M530.3 133.5h8.4m-4.2-4.2v8.4"/><path d="M531.3 144.5h8.4m-4.2-4.2v8.4"/><path d="M531.3 145.5h8.4m-4.2-4.2v8.4"/><path d="M532.3 131.5h8.4m-4.2-4.2v8.4"/><path d="M533.3 120.5h8.4m-4.2-4.2v8.4"/><path d="M533.3 133.5h8.4m-4.2-4.2v8.4"/><path d="M534.3 160.5h8.4m-4.2-4.2v8.4"/><path d="M535.3 152.5h8.4m-4.2-4.2v8.4"/><path d="M536.3 147.5h8.4m-4.2-4.2v8.4"/><path d="M536.3 160.5h8.4m-4.2-4.2v8.4"/><path d="M537.3 150.5h8.4m-4.2-4.2v8.4"/><path d="M538.3 160.5h8.4m-4.2-4.2v8.4"/><path d="M538.3 173.5h8.4m-4.2-4.2v8.4"/><path d="M539.3 171.5h8.4m-4.2-4.2v8.4"/><path d="M540.3 173.5h8.4m-4.2-4.2v8.4"/><path d="M541.3 187.5h8.4m-4.2-4.2v8.4"/><path d="M541.3 183.5h8.4m-4.2-4.2v8.4"/><path d="M542.3 171.5h8.4m-4.2-4.2v8.4"/><path d="M543.3 188.5h8.4m-4.2-4.2v8.4"/><path d="M543.3 204.5h8.4m-4.2-4.2v8.4"/><path d="M544.3 213.5h8.4m-4.2-4.2v8.4"/><path d="M545.3 233.5h8.4m-4.2-4.2v8.4"/><path d="M545.3 228.5h8.4m-4.2-4.2v8.4"/><path d="M546.3 224.5h8.4m-4.2-4.2v8.4"/><path d="M547.3 253.5h8.4m-4.2-4.2v8.4"/><path d="M548.3 235.5h8.4m-4.2-4.2v8.4"/><path d="M548.3 257.5h8.4m-4.2-4.2v8.4"/><path d="M549.3 249.5h8.4m-4.2-4.2v8.4"/><path d="M550.3 252.5h8.4m-4.2-4.2v8.4"/><path d="M550.3 250.5h8.4m-4.2-4.2v8.4"/><path d="M551.3 268.5h8.4m-4.2-4.2v8.4"/><path d="M552.3 270.5h8.4m-4.2-4.2v8.4"/><path d="M552.3 284.5h8.4m-4.2-4.2v8.4"/><path d="M553.3 292.5h8.4m-4.2-4.2v8.4"/><path d="M554.3 287.5h8.4m-4.2-4.2v8.4"/><path d="M555.3 283.5h8.4m-4.2-4.2v8.4"/><path d="M555.3 298.5h8.4m-4.2-4.2v8.4"/><path d="M556.3 310.5h8.4m-4.2-4.2v8.4"/><path d="M557.3 303.5h8.4m-4.2-4.2v8.4"/><path d="M557.3 324.5h8.4m-4.2-4.2v8.4"/><path d="M558.3 325.5h8.4m-4.2-4.2v8.4"/><path d="M559.3 329.5h8.4m-4.2-4.2v8.4"/><path d="M560.3 325.5h8.4m-4.2-4.2v8.4"/><path d="M560.3 345.5h8.4m-4.2-4.2v8.4"/><path d="M561.3 342.5h8.4m-4.2-4.2v8.4"/><path d="M562.3 351.5h8.4m-4.2-4.2v8.4"/><path d="M562.3 354.5h8.4m-4.2-4.2v8.4"/><path d="M563.3 351.5h8.4m-4.2-4.2v8.4"/><path d="M564.3 362.5h8.4m-4.2-4.2v8.4"/><path d="M564.3 361.5h8.4m-4.2-4.2v8.4"/><path d="M565.3 369.5h8.4m-4.2-4.2v8.4"/><path d="M566.3 373.5h8.4m-4.2-4.2v8.4"/><path d="M567.3 380.5h8.4m-4.2-4.2v8.4"/><path d="M567.3 384.5h8.4m-4.2-4.2v8.4"/><path d="M568.3 393.5h8.4m-4.2-4.2v8.4"/><path d="M569.3 384.5h8.4m-4.2-4.2v8.4"/><path d="M569.3 389.5h8.4m-4.2-4.2v8.4"/><path d="M570.3 399.5h8.4m-4.2-4.2v8.4"/><path d="M571.3 403.5h8.4m-4.2-4.2v8.4"/><path d="M572.3 396.5h8.4m-4.2-4.2v8.4"/><path d="M572.3 405.5h8.4m-4.2-4.2v8.4"/><path d="M573.3 394.5h8.4m-4.2-4.2v8.4"/><path d="M574.3 412.5h8.4m-4.2-4.2v8.4"/><path d="M574.3 405.5h8.4m-4.2-4.2v8.4"/><path d="M575.3 420.5h8.4m-4.2-4.2v8.4"/><path d="M576.3 413.5h8.4m-4.2-4.2v8.4"/><path d="M576.3 422.5h8.4m-4.2-4.2v8.4"/><path d="M577.3 423.5h8.4m-4.2-4.2v8.4"/><path d="M578.3 426.5h8.4m-4.2-4.2v8.4"/><path d="M579.3 429.5h8.4m-4.2-4.2v8.4"/><path d="M579.3 427.5h8.4m-4.2-4.2v8.4"/><path d="M580.3 439.5h8.4m-4.2-4.2v8.4"/><path d="M581.3 443.5h8.4m-4.2-4.2v8.4"/><path d="M581.3 441.5h8.4m-4.2-4.2v8.4"/><path d="M582.3 445.5h8.4m-4.2-4.2v8.4"/><path d="M583.3 437.5h8.4m-4.2-4.2v8.4"/><path d="M583.3 433.5h8.4m-4.2-4.2v8.4"/><path d="M584.3 440.5h8.4m-4.2-4.2v8.4"/><path d="M585.3 439.5h8.4m-4.2-4.2v8.4"/><path d="M586.3 449.5h8.4m-4.2-4.2v8.4"/><path d="M586.3 445.5h8.4m-4.2-4.2v8.4"/><path d="M587.3 457.5h8.4m-4.2-4.2v8.4"/><path d="M588.3 451.5h8.4m-4.2-4.2v8.4"/><path d="M588.3 457.5h8.4m-4.2-4.2v8.4"/><path d="M589.3 458.5h8.4m-4.2-4.2v8.4"/><path d="M590.3 460.5h8.4m-4.2-4.2v8.4"/><path d="M591.3 463.5h8.4m-4.2-4.2v8.4"/><path d="M591.3 465.5h8.4m-4.2-4.2v8.4"/><path d="M592.3 463.5h8.4m-4.2-4.2v8.4"/><path d="M593.3 462.5h8.4m-4.2-4.2v8.4"/><path d="M593.3 464.5h8.4m-4.2-4.2v8.4"/><path d="M594.3 462.5h8.4m-4.2-4.2v8.4"/><path d="M595.3 471.5h8.4m-4.2-4.2v8.4"/><path d="M595.3 469.5h8.4m-4.2-4.2v8.4"/><path d="M596.3 468.5h8.4m-4.2-4.2v8.4"/><path d="M597.3 465.5h8.4m-4.2-4.2v8.4"/><path d="M598.3 460.5h8.4m-4.2-4.2v8.4"/><path d="M598.3 468.5h8.4m-4.2-4.2v8.4"/><path d="M599.3 465.5h8.4m-4.2-4.2v8.4"/><path d="M600.3 472.5h8.4m-4.2-4.2v8.4"/><path d="M600.3 470.5h8.4m-4.2-4.2v8.4"/><path d="M601.3 469.5h8.4m-4.2-4.2v8.4"/><path d="M602.3 472.5h8.4m-4.2-4.2v8.4"/><path d="M602.3 472.5h8.4m-4.2-4.2v8.4"/><path d="M603.3 471.5h8.4m-4.2-4.2v8.4"/><path d="M604.3 474.5h8.4m-4.2-4.2v8.4"/><path d="M605.3 475.5h8.4m-4.2-4.2v8.4"/><path d="M605.3 458.5h8.4m-4.2-4.2v8.4"/><path d="M606.3 476.5h8.4m-4.2-4.2v8.4"/><path d="M607.3 475.5h8.4m-4.2-4.2v8.4"/><path d="M607.3 473.5h8.4m-4.2-4.2v8.4"/><path d="M608.3 470.5h8.4m-4.2-4.2v8.4"/><path d="M609.3 474.5h8.4m-4.2-4.2v8.4"/><path d="M610.3 472.5h8.4m-4.2-4.2v8.4"/><path d="M610.3 474.5h8.4m-4.2-4.2v8.4"/><path d="M611.3 478.5h8.4m-4.2-4.2v8.4"/><path d="M612.3 475.5h8.4m-4.2-4.2v8.4"/><path d="M612.3 473.5h8.4m-4.2-4.2v8.4"/><path d="M613.3 471.5h8.4m-4.2-4.2v8.4"/><path d="M614.3 474.5h8.4m-4.2-4.2v8.4"/><path d="M614.3 472.5h8.4m-4.2-4.2v8.4"/><path d="M615.3 471.5h8.4m-4.2-4.2v8.4"/><path d="M616.3 472.5h8.4m-4.2-4.2v8.4"/><path d="M617.3 476.5h8.4m-4.2-4.2v8.4"/><path d="M617.3 481.5h8.4m-4.2-4.2v8.4"/><path d="M618.3 475.5h8.4m-4.2-4.2v8.4"/><path d="M619.3 467.5h8.4m-4.2-4.2v8.4"/><path d="M619.3 473.5h8.4m-4.2-4.2v8.4"/><path d="M620.3 470.5h8.4m-4.2-4.2v8.4"/><path d="M621.3 473.5h8.4m-4.2-4.2v8.4"/><path d="M622.3 475.5h8.4m-4.2-4.2v8.4"/><path d="M622.3 472.5h8.4m-4.2-4.2v8.4"/><path d="M623.3 470.5h8.4m-4.2-4.2v8.4"/><path d="M624.3 476.5h8.4m-4.2-4.2v8.4"/><path d="M624.3 478.5h8.4m-4.2-4.2v8.4"/><path d="M625.3 480.5h8.4m-4.2-4.2v8.4"/><path d="M626.3 469.5h8.4m-4.2-4.2v8.4"/><path d="M626.3 470.5h8.4m-4.2-4.2v8.4"/><path d="M627.3 476.5h8.4m-4.2-4.2v8.4"/><path d="M628.3 475.5h8.4m-4.2-4.2v8.4"/><path d="M629.3 480.5h8.4m-4.2-4.2v8.4"/><path d="M629.3 475.5h8.4m-4.2-4.2v8.4"/><path d="M630.3 468.5h8.4m-4.2-4.2v8.4"/><path d="M631.3 475.5h8.4m-4.2-4.2v8.4"/><path d="M631.3 463.5h8.4m-4.2-4.2v8.4"/><path d="M632.3 469.5h8.4m-4.2-4.2v8.4"/><path d="M633.3 475.5h8.4m-4.2-4.2v8.4"/><path d="M633.3 477.5h8.4m-4.2-4.2v8.4"/><path d="M634.3 474.5h8.4m-4.2-4.2v8.4"/><path d="M635.3 474.5h8.4m-4.2-4.2v8.4"/><path d="M636.3 473.5h8.4m-4.2-4.2v8.4"/><path d="M636.3 470.5h8.4m-4.2-4.2v8.4"/><path d="M637.3 475.5h8.4m-4.2-4.2v8.4"/><path d="M638.3 473.5h8.4m-4.2-4.2v8.4"/><path d="M638.3 475.5h8.4m-4.2-4.2v8.4"/><path d="M639.3 477.5h8.4m-4.2-4.2v8.4"/><path d="M640.3 477.5h8.4m-4.2-4.2v8.4"/><path d="M641.3 475.5h8.4m-4.2-4.2v8.4"/><path d="M641.3 477.5h8.4m-4.2-4.2v8.4"/><path d="M642.3 476.5h8.4m-4.2-4.2v8.4"/><path d="M643.3 474.5h8.4m-4.2-4.2v8.4"/><path d="M643.3 477.5h8.4m-4.2-4.2v8.4"/><path d="M644.3 478.5h8.4m-4.2-4.2v8.4"/><path d="M645.3 485.5h8.4m-4.2-4.2v8.4"/><path d="M645.3 480.5h8.4m-4.2-4.2v8.4"/><path d="M646.3 480.5h8.4m-4.2-4.2v8.4"/><path d="M647.3 485.5h8.4m-4.2-4.2v8.4"/><path d="M648.3 479.5h8.4m-4.2-4.2v8.4"/><path d="M648.3 484.5h8.4m-4.2-4.2v8.4"/><path d="M649.3 489.5h8.4m-4.2-4.2v8.4"/><path d="M650.3 483.5h8.4m-4.2-4.2v8.4"/><path d="M650.3 486.5h8.4m-4.2-4.2v8.4"/><path d="M651.3 485.5h8.4m-4.2-4.2v8.4"/><path d="M652.3 486.5h8.4m-4.2-4.2v8.4"/><path d="M652.3 485.5h8.4m-4.2-4.2v8.4"/><path d="M653.3 489.5h8.4m-4.2-4.2v8.4"/><path d="M654.3 480.5h8.4m-4.2-4.2v8.4"/><path d="M655.3 490.5h8.4m-4.2-4.2v8.4"/><path d="M655.3 484.5h8.4m-4.2-4.2v8.4"/><path d="M656.3 492.5h8.4m-4.2-4.2v8.4"/><path d="M657.3 490.5h8.4m-4.2-4.2v8.4"/><path d="M657.3 497.5h8.4m-4.2-4.2v8.4"/><path d="M658.3 484.5h8.4m-4.2-4.2v8.4"/><path d="M659.3 492.5h8.4m-4.2-4.2v8.4"/><path d="M660.3 493.5h8.4m-4.2-4.2v8.4"/><path d="M660.3 495.5h8.4m-4.2-4.2v8.4"/><path d="M661.3 490.5h8.4m-4.2-4.2v8.4"/><path d="M662.3 496.5h8.4m-4.2-4.2v8.4"/><path d="M662.3 487.5h8.4m-4.2-4.2v8.4"/><path d="M663.3 494.5h8.4m-4.2-4.2v8.4"/><path d="M664.3 496.5h8.4m-4.2-4.2v8.4"/><path d="M664.3 496.5h8.4m-4.2-4.2v8.4"/><path d="M665.3 498.5h8.4m-4.2-4.2v8.4"/><path d="M666.3 489.5h8.4m-4.2-4.2v8.4"/><path d="M667.3 496.5h8.4m-4.2-4.2v8.4"/><path d="M667.3 494.5h8.4m-4.2-4.2v8.4"/><path d="M668.3 495.5h8.4m-4.2-4.2v8.4"/><path d="M669.3 501.5h8.4m-4.2-4.2v8.4"/><path d="M669.3 495.5h8.4m-4.2-4.2v8.4"/><path d="M670.3 504.5h8.4m-4.2-4.2v8.4"/><path d="M671.3 497.5h8.4m-4.2-4.2v8.4"/><path d="M672.3 500.5h8.4m-4.2-4.2v8.4"/><path d="M672.3 503.5h8.4m-4.2-4.2v8.4"/><path d="M673.3 503.5h8.4m-4.2-4.2v8.4"/><path d="M674.3 501.5h8.4m-4.2-4.2v8.4"/><path d="M674.3 502.5h8.4m-4.2-4.2v8.4"/><path d="M675.3 501.5h8.4m-4.2-4.2v8.4"/><path d="M676.3 505.5h8.4m-4.2-4.2v8.4"/><path d="M676.3 504.5h8.4m-4.2-4.2v8.4"/><path d="M677.3 504.5h8.4m-4.2-4.2v8.4"/><path d="M678.3 501.5h8.4m-4.2-4.2v8.4"/><path d="M679.3 504.5h8.4m-4.2-4.2v8.4"/><path d="M679.3 506.5h8.4m-4.2-4.2v8.4"/><path d="M680.3 504.5h8.4m-4.2-4.2v8.4"/><path d="M681.3 505.5h8.4m-4.2-4.2v8.4"/><path d="M681.3 506.5h8.4m-4.2-4.2v8.4"/><path d="M682.3 506.5h8.4m-4.2-4.2v8.4"/><path d="M683.3 507.5h8.4m-4.2-4.2v8.4"/><path d="M683.3 504.5h8.4m-4.2-4.2v8.4"/><path d="M684.3 507.5h8.4m-4.2-4.2v8.4"/><path d="M685.3 506.5h8.4m-4.2-4.2v8.4"/><path d="M686.3 505.5h8.4m-4.2-4.2v8.4"/><path d="M686.3 507.5h8.4m-4.2-4.2v8.4"/><path d="M687.3 509.5h8.4m-4.2-4.2v8.4"/><path d="M688.3 506.5h8.4m-4.2-4.2v8.4"/><path d="M688.3 511.5h8.4m-4.2-4.2v8.4"/><path d="M689.3 506.5h8.4m-4.2-4.2v8.4"/><path d="M690.3 509.5h8.4m-4.2-4.2v8.4"/><path d="M691.3 510.5h8.4m-4.2-4.2v8.4"/><path d="M691.3 511.5h8.4m-4.2-4.2v8.4"/><path d="M692.3 508.5h8.4m-4.2-4.2v8.4"/><path d="M693.3 511.5h8.4m-4.2-4.2v8.4"/><path d="M693.3 512.5h8.4m-4.2-4.2v8.4"/><path d="M694.3 510.5h8.4m-4.2-4.2v8.4"/><path d="M695.3 514.5h8.4m-4.2-4.2v8.4"/><path d="M695.3 510.5h8.4m-4.2-4.2v8.4"/><path d="M696.3 512.5h8.4m-4.2-4.2v8.4"/><path d="M697.3 511.5h8.4m-4.2-4.2v8.4"/><path d="M698.3 512.5h8.4m-4.2-4.2v8.4"/><path d="M698.3 513.5h8.4m-4.2-4.2v8.4"/><path d="M699.3 512.5h8.4m-4.2-4.2v8.4"/><path d="M700.3 513.5h8.4m-4.2-4.2v8.4"/><path d="M700.3 512.5h8.4m-4.2-4.2v8.4"/><path d="M701.3 515.5h8.4m-4.2-4.2v8.4"/><path d="M702.3 512.5h8.4m-4.2-4.2v8.4"/><path d="M702.3 516.5h8.4m-4.2-4.2v8.4"/><path d="M703.3 516.5h8.4m-4.2-4.2v8.4"/><path d="M704.3 514.5h8.4m-4.2-4.2v8.4"/><path d="M705.3 514.5h8.4m-4.2-4.2v8.4"/><path d="M705.3 515.5h8.4m-4.2-4.2v8.4"/><path d="M706.3 515.5h8.4m-4.2-4.2v8.4"/><path d="M707.3 514.5h8.4m-4.2-4.2v8.4"/><path d="M707.3 514.5h8.4m-4.2-4.2v8.4"/><path d="M708.3 518.5h8.4m-4.2-4.2v8.4"/><path d="M709.3 518.5h8.4m-4.2-4.2v8.4"/><path d="M710.3 517.5h8.4m-4.2-4.2v8.4"/><path d="M710.3 515.5h8.4m-4.2-4.2v8.4"/><path d="M711.3 516.5h8.4m-4.2-4.2v8.4"/><path d="M712.3 519.5h8.4m-4.2-4.2v8.4"/><path d="M712.3 518.5h8.4m-4.2-4.2v8.4"/><path d="M713.3 518.5h8.4m-4.2-4.2v8.4"/><path d="M714.3 518.5h8.4m-4.2-4.2v8.4"/><path d="M714.3 518.5h8.4m-4.2-4.2v8.4"/><path d="M715.3 516.5h8.4m-4.2-4.2v8.4"/><path d="M716.3 519.5h8.4m-4.2-4.2v8.4"/><path d="M717.3 517.5h8.4m-4.2-4.2v8.4"/><path d="M717.3 518.5h8.4m-4.2-4.2v8.4"/><path d="M718.3 518.5h8.4m-4.2-4.2v8.4"/><path d="M719.3 519.5h8.4m-4.2-4.2v8.4"/><path d="M719.3 519.5h8.4m-4.2-4.2v8.4"/><path d="M720.3 517.5h8.4m-4.2-4.2v8.4"/><path d="M721.3 519.5h8.4m-4.2-4.2v8.4"/><path d="M722.3 519.5h8.4m-4.2-4.2v8.4"/><path d="M722.3 516.5h8.4m-4.2-4.2v8.4"/><path d="M723.3 517.5h8.4m-4.2-4.2v8.4"/><path d="M724.3 520.5h8.4m-4.2-4.2v8.4"/><path d="M724.3 517.5h8.4m-4.2-4.2v8.4"/><path d="M725.3 519.5h8.4m-4.2-4.2v8.4"/><path d="M726.3 518.5h8.4m-4.2-4.2v8.4"/><path d="M726.3 517.5h8.4m-4.2-4.2v8.4"/><path d="M727.3 516.5h8.4m-4.2-4.2v8.4"/><path d="M728.3 518.5h8.4m-4.2-4.2v8.4"/><path d="M729.3 520.5h8.4m-4.2-4.2v8.4"/><path d="M729.3 518.5h8.4m-4.2-4.2v8.4"/><path d="M730.3 519.5h8.4m-4.2-4.2v8.4"/><path d="M731.3 518.5h8.4m-4.2-4.2v8.4"/><path d="M731.3 519.5h8.4m-4.2-4.2v8.4"/><path d="M732.3 517.5h8.4m-4.2-4.2v8.4"/><path d="M733.3 516.5h8.4m-4.2-4.2v8.4"/><path d="M733.3 520.5h8.4m-4.2-4.2v8.4"/><path d="M734.3 518.5h8.4m-4.2-4.2v8.4"/><path d="M735.3 518.5h8.4m-4.2-4.2v8.4"/><path d="M736.3 518.5h8.4m-4.2-4.2v8.4"/><path d="M736.3 519.5h8.4m-4.2-4.2v8.4"/><path d="M737.3 519.5h8.4m-4.2-4.2v8.4"/><path d="M738.3 518.5h8.4m-4.2-4.2v8.4"/><path d="M738.3 520.5h8.4m-4.2-4.2v8.4"/><path d="M739.3 518.5h8.4m-4.2-4.2v8.4"/><path d="M740.3 516.5h8.4m-4.2-4.2v8.4"/><path d="M741.3 519.5h8.4m-4.2-4.2v8.4"/><path d="M741.3 520.5h8.4m-4.2-4.2v8.4"/><path d="M742.3 518.5h8.4m-4.2-4.2v8.4"/><path d="M743.3 518.5h8.4m-4.2-4.2v8.4"/><path d="M743.3 519.5h8.4m-4.2-4.2v8.4"/><path d="M744.3 518.5h8.4m-4.2-4.2v8.4"/><path d="M745.3 519.5h8.4m-4.2-4.2v8.4"/><path d="M745.3 518.5h8.4m-4.2-4.2v8.4"/><path d="M746.3 518.5h8.4m-4.2-4.2v8.4"/><path d="M747.3 518.5h8.4m-4.2-4.2v8.4"/><path d="M748.3 518.5h8.4m-4.2-4.2v8.4"/><path d="M748.3 520.5h8.4m-4.2-4.2v8.4"/><path d="M749.3 520.5h8.4m-4.2-4.2v8.4"/><path d="M750.3 522.5h8.4m-4.2-4.2v8.4"/><path d="M750.3 518.5h8.4m-4.2-4.2v8.4"/><path d="M751.3 517.5h8.4m-4.2-4.2v8.4"/><path d="M752.3 519.5h8.4m-4.2-4.2v8.4"/><path d="M752.3 518.5h8.4m-4.2-4.2v8.4"/><path d="M753.3 517.5h8.4m-4.2-4.2v8.4"/><path d="M754.3 519.5h8.4m-4.2-4.2v8.4"/><path d="M755.3 518.5h8.4m-4.2-4.2v8.4"/><path d="M755.3 519.5h8.4m-4.2-4.2v8.4"/><path d="M756.3 520.5h8.4m-4.2-4.2v8.4"/><path d="M757.3 519.5h8.4m-4.2-4.2v8.4"/><path d="M757.3 519.5h8.4m-4.2-4.2v8.4"/><path d="M758.3 520.5h8.4m-4.2-4.2v8.4"/><path d="M759.3 520.5h8.4m-4.2-4.2v8.4"/><path d="M760.3 519.5h8.4m-4.2-4.2v8.4"/><path d="M760.3 519.5h8.4m-4.2-4.2v8.4"/><path d="M761.3 520.5h8.4m-4.2-4.2v8.4"/><path d="M762.3 519.5h8.4m-4.2-4.2v8.4"/><path d="M762.3 519.5h8.4m-4.2-4.2v8.4"/><path d="M763.3 518.5h8.4m-4.2-4.2v8.4"/><path d="M764.3 519.5h8.4m-4.2-4.2v8.4"/><path d="M764.3 518.5h8.4m-4.2-4.2v8.4"/><path d="M765.3 520.5h8.4m-4.2-4.2v8.4"/><path d="M766.3 521.5h8.4m-4.2-4.2v8.4"/><path d="M767.3 521.5h8.4m-4.2-4.2v8.4"/><path d="M767.3 519.5h8.4m-4.2-4.2v8.4"/><path d="M768.3 518.5h8.4m-4.2-4.2v8.4"/><path d="M769.3 521.5h8.4m-4.2-4.2v8.4"/><path d="M769.3 518.5h8.4m-4.2-4.2v8.4"/><path d="M770.3 522.5h8.4m-4.2-4.2v8.4"/><path d="M771.3 520.5h8.4m-4.2-4.2v8.4"/><path d="M772.3 520.5h8.4m-4.2-4.2v8.4"/><path d="M772.3 521.5h8.4m-4.2-4.2v8.4"/><path d="M773.3 521.5h8.4m-4.2-4.2v8.4"/><path d="M774.3 520.5h8.4m-4.2-4.2v8.4"/><path d="M774.3 520.5h8.4m-4.2-4.2v8.4"/><path d="M775.3 520.5h8.4m-4.2-4.2v8.4"/><path d="M776.3 520.5h8.4m-4.2-4.2v8.4"/><path d="M776.3 520.5h8.4m-4.2-4.2v8.4"/><path d="M777.3 521.5h8.4m-4.2-4.2v8.4"/><path d="M778.3 520.5h8.4m-4.2-4.2v8.4"/><path d="M779.3 520.5h8.4m-4.2-4.2v8.4"/><path d="M779.3 522.5h8.4m-4.2-4.2v8.4"/><path d="M780.3 522.5h8.4m-4.2-4.2v8.4"/><path d="M781.3 521.5h8.4m-4.2-4.2v8.4"/><path d="M781.3 522.5h8.4m-4.2-4.2v8.4"/><path d="M782.3 522.5h8.4m-4.2-4.2v8.4"/><path d="M783.3 522.5h8.4m-4.2-4.2v8.4"/><path d="M783.3 520.5h8.4m-4.2-4.2v8.4"/><path d="M784.3 522.5h8.4m-4.2-4.2v8.4"/><path d="M785.3 522.5h8.4m-4.2-4.2v8.4"/><path d="M786.3 522.5h8.4m-4.2-4.2v8.4"/><path d="M786.3 522.5h8.4m-4.2-4.2v8.4"/><path d="M787.3 522.5h8.4m-4.2-4.2v8.4"/><path d="M788.3 522.5h8.4m-4.2-4.2v8.4"/><path d="M788.3 523.5h8.4m-4.2-4.2v8.4"/><path d="M789.3 523.5h8.4m-4.2-4.2v8.4"/><path d="M790.3 522.5h8.4m-4.2-4.2v8.4"/><path d="M791.3 522.5h8.4m-4.2-4.2v8.4"/><path d="M791.3 523.5h8.4m-4.2-4.2v8.4"/><path d="M792.3 522.5h8.4m-4.2-4.2v8.4"/><path d="M793.3 522.5h8.4m-4.2-4.2v8.4"/><path d="M793.3 523.5h8.4m-4.2-4.2v8.4"/><path d="M794.3 523.5h8.4m-4.2-4.2v8.4"/><path d="M795.3 522.5h8.4m-4.2-4.2v8.4"/><path d="M795.3 523.5h8.4m-4.2-4.2v8.4"/><path d="M796.3 522.5h8.4m-4.2-4.2v8.4"/><path d="M797.3 523.5h8.4m-4.2-4.2v8.4"/><path d="M798.3 523.5h8.4m-4.2-4.2v8.4"/><path d="M798.3 523.5h8.4m-4.2-4.2v8.4"/><path d="M799.3 523.5h8.4m-4.2-4.2v8.4"/><path d="M800.3 523.5h8.4m-4.2-4.2v8.4"/><path d="M800.3 524.5h8.4m-4.2-4.2v8.4"/><path d="M801.3 523.5h8.4m-4.2-4.2v8.4"/><path d="M802.3 524.5h8.4m-4.2-4.2v8.4"/><path d="M802.3 523.5h8.4m-4.2-4.2v8.4"/><path d="M803.3 523.5h8.4m-4.2-4.2v8.4"/><path d="M804.3 523.5h8.4m-4.2-4.2v8.4"/><path d="M805.3 523.5h8.4m-4.2-4.2v8.4"/><path d="M805.3 523.5h8.4m-4.2-4.2v8.4"/><path d="M806.3 524.5h8.4m-4.2-4.2v8.4"/><path d="M807.3 523.5h8.4m-4.2-4.2v8.4"/><path d="M807.3 524.5h8.4m-4.2-4.2v8.4"/><path d="M808.3 523.5h8.4m-4.2-4.2v8.4"/><path d="M809.3 524.5h8.4m-4.2-4.2v8.4"/><path d="M810.3 524.5h8.4m-4.2-4.2v8.4"/><path d="M810.3 524.5h8.4m-4.2-4.2v8.4"/><path d="M811.3 524.5h8.4m-4.2-4.2v8.4"/><path d="M812.3 524.5h8.4m-4.2-4.2v8.4"/><path d="M812.3 524.5h8.4m-4.2-4.2v8.4"/><path d="M813.3 524.5h8.4m-4.2-4.2v8.4"/><path d="M814.3 524.5h8.4m-4.2-4.2v8.4"/><path d="M814.3 523.5h8.4m-4.2-4.2v8.4"/><path d="M815.3 524.5h8.4m-4.2-4.2v8.4"/><path d="M816.3 524.5h8.4m-4.2-4.2v8.4"/><path d="M817.3 524.5h8.4m-4.2-4.2v8.4"/><path d="M817.3 524.5h8.4m-4.2-4.2v8.4"/><path d="M818.3 524.5h8.4m-4.2-4.2v8.4"/><path d="M819.3 524.5h8.4m-4.2-4.2v8.4"/><path d="M819.3 524.5h8.4m-4.2-4.2v8.4"/><path d="M820.3 524.5h8.4m-4.2-4.2v8.4"/><path d="M821.3 524.5h8.4m-4.2-4.2v8.4"/><path d="M822.3 524.5h8.4m-4.2-4.2v8.4"/><path d="M822.3 524.5h8.4m-4.2-4.2v8.4"/><path d="M823.3 524.5h8.4m-4.2-4.2v8.4"/><path d="M824.3 524.5h8.4m-4.2-4.2v8.4"/><path d="M824.3 524.5h8.4m-4.2-4.2v8.4"/><path d="M825.3 524.5h8.4m-4.2-4.2v8.4"/><path d="M826.3 524.5h8.4m-4.2-4.2v8.4"/><path d="M826.3 524.5h8.4m-4.2-4.2v8.4"/><path d="M827.3 524.5h8.4m-4.2-4.2v8.4"/><path d="M828.3 524.5h8.4m-4.2-4.2v8.4"/><path d="M829.3 524.5h8.4m-4.2-4.2v8.4"/><path d="M829.3 524.5h8.4m-4.2-4.2v8.4"/><path d="M830.3 524.5h8.4m-4.2-4.2v8.4"/><path d="M831.3 524.5h8.4m-4.2-4.2v8.4"/><path d="M831.3 524.5h8.4m-4.2-4.2v8.4"/><path d="M832.3 524.5h8.4m-4.2-4.2v8.4"/><path d="M833.3 524.5h8.4m-4.2-4.2v8.4"/><path d="M833.3 524.5h8.4m-4.2-4.2v8.4"/><path d="M834.3 524.5h8.4m-4.2-4.2v8.4"/><path d="M835.3 524.5h8.4m-4.2-4.2v8.4"/><path d="M836.3 524.5h8.4m-4.2-4.2v8.4"/><path d="M836.3 524.5h8.4m-4.2-4.2v8.4"/>
<path d="M531 524.4V117" stroke-width="2.08" stroke-dasharray="7.71 3.33"/>
<path d="M526.8 520.5l8.34 8.34m0-8.34l-8.34 8.34"/>
<path d="M526.8 112.8l8.34 8.34m0-8.34l-8.34 8.34"/>
</g>
<g stroke="#ff7f0e" stroke-opacity=".8" stroke-width="1.39">
<path d="M81.3 524.5h8.4m-4.2-4.2v8.4"/><path d="M82.3 524.5h8.4m-4.2-4.2v8.4"/><path d="M82.3 524.5h8.4m-4.2-4.2v8.4"/><path d="M83.3 524.5h8.4m-4.2-4.2v8.4"/><path d="M84.3 524.5h8.4m-4.2-4.2v8.4"/><path d="M84.3 524.5h8.4m-4.2-4.2v8.4"/><path d="M85.3 524.5h8.4m-4.2-4.2v8.4"/><path d="M86.3 524.5h8.4m-4.2-4.2v8.4"/><path d="M86.3 524.5h8.4m-4.2-4.2v8.4"/><path d="M87.3 524.5h8.4m-4.2-4.2v8.4"/><path d="M88.3 524.5h8.4m-4.2-4.2v8.4"/><path d="M88.3 524.5h8.4m-4.2-4.2v8.4"/><path d="M89.3 524.5h8.4m-4.2-4.2v8.4"/><path d="M90.3 524.5h8.4m-4.2-4.2v8.4"/><path d="M90.3 524.5h8.4m-4.2-4.2v8.4"/><path d="M91.3 524.5h8.4m-4.2-4.2v8.4"/><path d="M92.3 524.5h8.4m-4.2-4.2v8.4"/><path d="M92.3 524.5h8.4m-4.2-4.2v8.4"/><path d="M93.3 524.5h8.4m-4.2-4.2v8.4"/><path d="M94.3 524.5h8.4m-4.2-4.2v8.4"/><path d="M94.3 524.5h8.4m-4.2-4.2v8.4"/><path d="M95.3 524.5h8.4m-4.2-4.2v8.4"/><path d="M96.3 524.5h8.4m-4.2-4.2v8.4"/><path d="M97.3 524.5h8.4m-4.2-4.2v8.4"/><path d="M97.3 524.5h8.4m-4.2-4.2v8.4"/><path d="M98.3 524.5h8.4m-4.2-4.2v8.4"/><path d="M99.3 524.5h8.4m-4.2-4.2v8.4"/><path d="M99.3 524.5h8.4m-4.2-4.2v8.4"/><path d="M100.3 524.5h8.4m-4.2-4.2v8.4"/><path d="M101.3 524.5h8.4m-4.2-4.2v8.4"/><path d="M101.3 524.5h8.4m-4.2-4.2v8.4"/><path d="M102.3 524.5h8.4m-4.2-4.2v8.4"/><path d="M103.3 524.5h8.4m-4.2-4.2v8.4"/><path d="M103.3 524.5h8.4m-4.2-4.2v8.4"/><path d="M104.3 524.5h8.4m-4.2-4.2v8.4"/><path d="M105.3 524.5h8.4m-4.2-4.2v8.4"/><path d="M105.3 524.5h8.4m-4.2-4.2v8.4"/><path d="M106.3 524.5h8.4m-4.2-4.2v8.4"/><path d="M107.3 524.5h8.4m-4.2-4.2v8.4"/><path d="M107.3 524.5h8.4m-4.2-4.2v8.4"/><path d="M108.3 524.5h8.4m-4.2-4.2v8.4"/><path d="M109.3 524.5h8.4m-4.2-4.2v8.4"/><path d="M109.3 524.5h8.4m-4.2-4.2v8.4"/><path d="M110.3 524.5h8.4m-4.2-4.2v8.4"/><path d="M111.3 524.5h8.4m-4.2-4.2v8.4"/><path d="M111.3 524.5h8.4m-4.2-4.2v8.4"/><path d="M112.3 524.5h8.4m-4.2-4.2v8.4"/><path d="M113.3 524.5h8.4m-4.2-4.2v8.4"/><path d="M113.3 524.5h8.4m-4.2-4.2v8.4"/><path d="M114.3 524.5h8.4m-4.2-4.2v8.4"/><path d="M115.3 524.5h8.4m-4.2-4.2v8.4"/><path d="M115.3 524.5h8.4m-4.2-4.2v8.4"/><path d="M116.3 524.5h8.4m-4.2-4.2v8.4"/><path d="M117.3 524.5h8.4m-4.2-4.2v8.4"/><path d="M117.3 524.5h8.4m-4.2-4.2v8.4"/><path d="M118.3 524.5h8.4m-4.2-4.2v8.4"/><path d="M119.3 524.5h8.4m-4.2-4.2v8.4"/><path d="M119.3 524.5h8.4m-4.2-4.2v8.4"/><path d="M120.3 524.5h8.4m-4.2-4.2v8.4"/><path d="M121.3 524.5h8.4m-4.2-4.2v8.4"/><path d="M121.3 524.5h8.4m-4.2-4.2v8.4"/><path d="M122.3 524.5h8.4m-4.2-4.2v8.4"/><path d="M123.3 524.5h8.4m-4.2-4.2v8.4"/><path d="M123.3 524.5h8.4m-4.2-4.2v8.4"/><path d="M124.3 524.5h8.4m-4.2-4.2v8.4"/><path d="M125.3 524.5h8.4m-4.2-4.2v8.4"/><path d="M125.3 524.5h8.4m-4.2-4.2v8.4"/><path d="M126.3 524.5h8.4m-4.2-4.2v8.4"/><path d="M127.3 524.5h8.4m-4.2-4.2v8.4"/><path d="M127.3 524.5h8.4m-4.2-4.2v8.4"/><path d="M128.3 524.5h8.4m-4.2-4.2v8.4"/><path d="M129.3 524.5h8.4m-4.2-4.2v8.4"/><path d="M130.3 524.5h8.4m-4.2-4.2v8.4"/><path d="M130.3 524.5h8.4m-4.2-4.2v8.4"/><path d="M131.3 524.5h8.4m-4.2-4.2v8.4"/><path d="M132.3 524.5h8.4m-4.2-4.2v8.4"/><path d="M132.3 524.5h8.4m-4.2-4.2v8.4"/><path d="M133.3 524.5h8.4m-4.2-4.2v8.4"/><path d="M134.3 524.5h8.4m-4.2-4.2v8.4"/><path d="M134.3 524.5h8.4m-4.2-4.2v8.4"/><path d="M135.3 524.5h8.4m-4.2-4.2v8.4"/><path d="M136.3 524.5h8.4m-4.2-4.2v8.4"/><path d="M136.3 524.5h8.4m-4.2-4.2v8.4"/><path d="M137.3 524.5h8.4m-4.2-4.2v8.4"/><path d="M138.3 524.5h8.4m-4.2-4.2v8.4"/><path d="M138.3 524.5h8.4m-4.2-4.2v8.4"/><path d="M139.3 524.5h8.4m-4.2-4.2v8.4"/><path d="M140.3 524.5h8.4m-4.2-4.2v8.4"/><path d="M140.3 524.5h8.4m-4.2-4.2v8.4"/><path d="M141.3 524.5h8.4m-4.2-4.2v8.4"/><path d="M142.3 524.5h8.4m-4.2-4.2v8.4"/><path d="M142.3 524.5h8.4m-4.2-4.2v8.4"/><path d="M143.3 524.5h8.4m-4.2-4.2v8.4"/><path d="M144.3 524.5h8.4m-4.2-4.2v8.4"/><path d="M144.3 524.5h8.4m-4.2-4.2v8.4"/><path d="M145.3 524.5h8.4m-4.2-4.2v8.4"/><path d="M146.3 524.5h8.4m-4.2-4.2v8.4"/><path d="M146.3 524.5h8.4m-4.2-4.2v8.4"/><path d="M147.3 524.5h8.4m-4.2-4.2v8.4"/><path d="M148.3 524.5h8.4m-4.2-4.2v8.4"/><path d="M148.3 524.5h8.4m-4.2-4.2v8.4"/><path d="M149.3 524.5h8.4m-4.2-4.2v8.4"/><path d="M150.3 524.5h8.4m-4.2-4.2v8.4"/><path d="M150.3 524.5h8.4m-4.2-4.2v8.4"/><path d="M151.3 524.5h8.4m-4.2-4.2v8.4"/><path d="M152.3 524.5h8.4m-4.2-4.2v8.4"/><path d="M152.3 524.5h8.4m-4.2-4.2v8.4"/><path d="M153.3 524.5h8.4m-4.2-4.2v8.4"/><path d="M154.3 524.5h8.4m-4.2-4.2v8.4"/><path d="M154.3 524.5h8.4m-4.2-4.2v8.4"/><path d="M155.3 524.5h8.4m-4.2-4.2v8.4"/><path d="M156.3 524.5h8.4m-4.2-4.2v8.4"/><path d="M156.3 524.5h8.4m-4.2-4.2v8.4"/><path d="M157.3 524.5h8.4m-4.2-4.2v8.4"/><path d="M158.3 524.5h8.4m-4.2-4.2v8.4"/><path d="M158.3 524.5h8.4m-4.2-4.2v8.4"/><path d="M159.3 524.5h8.4m-4.2-4.2v8.4"/><path d="M160.3 524.5h8.4m-4.2-4.2v8.4"/><path d="M160.3 524.5h8.4m-4.2-4.2v8.4"/><path d="M161.3 524.5h8.4m-4.2-4.2v8.4"/><path d="M162.3 524.5h8.4m-4.2-4.2v8.4"/><path d="M163.3 524.5h8.4m-4.2-4.2v8.4"/><path d="M163.3 524.5h8.4m-4.2-4.2v8.4"/><path d="M164.3 524.5h8.4m-4.2-4.2v8.4"/><path d="M165.3 524.5h8.4m-4.2-4.2v8.4"/><path d="M165.3 524.5h8.4m-4.2-4.2v8.4"/><path d="M166.3 524.5h8.4m-4.2-4.2v8.4"/><path d="M167.3 524.5h8.4m-4.2-4.2v8.4"/><path d="M167.3 524.5h8.4m-4.2-4.2v8.4"/><path d="M168.3 524.5h8.4m-4.2-4.2v8.4"/><path d="M169.3 524.5h8.4m-4.2-4.2v8.4"/><path d="M169.3 524.5h8.4m-4.2-4.2v8.4"/><path d="M170.3 524.5h8.4m-4.2-4.2v8.4"/><path d="M171.3 524.5h8.4m-4.2-4.2v8.4"/><path d="M171.3 524.5h8.4m-4.2-4.2v8.4"/><path d="M172.3 524.5h8.4m-4.2-4.2v8.4"/><path d="M173.3 524.5h8.4m-4.2-4.2v8.4"/><path d="M173.3 524.5h8.4m-4.2-4.2v8.4"/><path d="M174.3 524.5h8.4m-4.2-4.2v8.4"/><path d="M175.3 524.5h8.4m-4.2-4.2v8.4"/><path d="M175.3 524.5h8.4m-4.2-4.2v8.4"/><path d="M176.3 524.5h8.4m-4.2-4.2v8.4"/><path d="M177.3 524.5h8.4m-4.2-4.2v8.4"/><path d="M177.3 524.5h8.4m-4.2-4.2v8.4"/><path d="M178.3 524.5h8.4m-4.2-4.2v8.4"/><path d="M179.3 524.5h8.4m-4.2-4.2v8.4"/><path d="M179.3 524.5h8.4m-4.2-4.2v8.4"/><path d="M180.3 524.5h8.4m-4.2-4.2v8.4"/><path d="M181.3 524.5h8.4m-4.2-4.2v8.4"/><path d="M181.3 524.5h8.4m-4.2-4.2v8.4"/><path d="M182.3 524.5h8.4m-4.2-4.2v8.4"/><path d="M183.3 524.5h8.4m-4.2-4.2v8.4"/><path d="M183.3 524.5h8.4m-4.2-4.2v8.4"/><path d="M184.3 524.5h8.4m-4.2-4.2v8.4"/><path d="M185.3 524.5h8.4m-4.2-4.2v8.4"/><path d="M185.3 524.5h8.4m-4.2-4.2v8.4"/><path d="M186.3 524.5h8.4m-4.2-4.2v8.4"/><path d="M187.3 524.5h8.4m-4.2-4.2v8.4"/><path d="M187.3 524.5h8.4m-4.2-4.2v8.4"/><path d="M188.3 524.5h8.4m-4.2-4.2v8.4"/><path d="M189.3 524.5h8.4m-4.2-4.2v8.4"/><path d="M189.3 524.5h8.4m-4.2-4.2v8.4"/><path d="M190.3 524.5h8.4m-4.2-4.2v8.4"/><path d="M191.3 524.5h8.4m-4.2-4.2v8.4"/><path d="M191.3 524.5h8.4m-4.2-4.2v8.4"/><path d="M192.3 524.5h8.4m-4.2-4.2v8.4"/><path d="M193.3 524.5h8.4m-4.2-4.2v8.4"/><path d="M193.3 524.5h8.4m-4.2-4.2v8.4"/><path d="M194.3 524.5h8.4m-4.2-4.2v8.4"/><path d="M195.3 524.5h8.4m-4.2-4.2v8.4"/><path d="M196.3 524.5h8.4m-4.2-4.2v8.4"/><path d="M196.3 524.5h8.4m-4.2-4.2v8.4"/><path d="M197.3 524.5h8.4m-4.2-4.2v8.4"/><path d="M198.3 524.5h8.4m-4.2-4.2v8.4"/><path d="M198.3 524.5h8.4m-4.2-4.2v8.4"/><path d="M199.3 524.5h8.4m-4.2-4.2v8.4"/><path d="M200.3 524.5h8.4m-4.2-4.2v8.4"/><path d="M200.3 524.5h8.4m-4.2-4.2v8.4"/><path d="M201.3 524.5h8.4m-4.2-4.2v8.4"/><path d="M202.3 524.5h8.4m-4.2-4.2v8.4"/><path d="M202.3 524.5h8.4m-4.2-4.2v8.4"/><path d="M203.3 524.5h8.4m-4.2-4.2v8.4"/><path d="M204.3 524.5h8.4m-4.2-4.2v8.4"/><path d="M204.3 524.5h8.4m-4.2-4.2v8.4"/><path d="M205.3 524.5h8.4m-4.2-4.2v8.4"/><path d="M206.3 524.5h8.4m-4.2-4.2v8.4"/><path d="M206.3 524.5h8.4m-4.2-4.2v8.4"/><path d="M207.3 524.5h8.4m-4.2-4.2v8.4"/><path d="M208.3 524.5h8.4m-4.2-4.2v8.4"/><path d="M208.3 524.5h8.4m-4.2-4.2v8.4"/><path d="M209.3 524.5h8.4m-4.2-4.2v8.4"/><path d="M210.3 524.5h8.4m-4.2-4.2v8.4"/><path d="M210.3 524.5h8.4m-4.2-4.2v8.4"/><path d="M211.3 524.5h8.4m-4.2-4.2v8.4"/><path d="M212.3 524.5h8.4m-4.2-4.2v8.4"/><path d="M212.3 524.5h8.4m-4.2-4.2v8.4"/><path d="M213.3 524.5h8.4m-4.2-4.2v8.4"/><path d="M214.3 524.5h8.4m-4.2-4.2v8.4"/><path d="M214.3 524.5h8.4m-4.2-4.2v8.4"/><path d="M215.3 524.5h8.4m-4.2-4.2v8.4"/><path d="M216.3 524.5h8.4m-4.2-4.2v8.4"/><path d="M216.3 524.5h8.4m-4.2-4.2v8.4"/><path d="M217.3 524.5h8.4m-4.2-4.2v8.4"/><path d="M218.3 524.5h8.4m-4.2-4.2v8.4"/><path d="M218.3 524.5h8.4m-4.2-4.2v8.4"/><path d="M219.3 524.5h8.4m-4.2-4.2v8.4"/><path d="M220.3 524.5h8.4m-4.2-4.2v8.4"/><path d="M220.3 524.5h8.4m-4.2-4.2v8.4"/><path d="M221.3 524.5h8.4m-4.2-4.2v8.4"/><path d="M222.3 524.5h8.4m-4.2-4.2v8.4"/><path d="M222.3 524.5h8.4m-4.2-4.2v8.4"/><path d="M223.3 524.5h8.4m-4.2-4.2v8.4"/><path d="M224.3 524.5h8.4m-4.2-4.2v8.4"/><path d="M224.3 524.5h8.4m-4.2-4.2v8.4"/><path d="M225.3 524.5h8.4m-4.2-4.2v8.4"/><path d="M226.3 524.5h8.4m-4.2-4.2v8.4"/><path d="M226.3 524.5h8.4m-4.2-4.2v8.4"/><path d="M227.3 524.5h8.4m-4.2-4.2v8.4"/><path d="M228.3 524.5h8.4m-4.2-4.2v8.4"/><path d="M228.3 524.5h8.4m-4.2-4.2v8.4"/><path d="M229.3 524.5h8.4m-4.2-4.2v8.4"/><path d="M230.3 524.5h8.4m-4.2-4.2v8.4"/><path d="M231.3 524.5h8.4m-4.2-4.2v8.4"/><path d="M231.3 524.5h8.4m-4.2-4.2v8.4"/><path d="M232.3 524.5h8.4m-4.2-4.2v8.4"/><path d="M233.3 524.5h8.4m-4.2-4.2v8.4"/><path d="M233.3 524.5h8.4m-4.2-4.2v8.4"/><path d="M234.3 524.5h8.4m-4.2-4.2v8.4"/><path d="M235.3 524.5h8.4m-4.2-4.2v8.4"/><path d="M235.3 524.5h8.4m-4.2-4.2v8.4"/><path d="M236.3 524.5h8.4m-4.2-4.2v8.4"/><path d="M237.3 524.5h8.4m-4.2-4.2v8.4"/><path d="M237.3 524.5h8.4m-4.2-4.2v8.4"/><path d="M238.3 524.5h8.4m-4.2-4.2v8.4"/><path d="M239.3 524.5h8.4m-4.2-4.2v8.4"/><path d="M239.3 524.5h8.4m-4.2-4.2v8.4"/><path d="M240.3 524.5h8.4m-4.2-4.2v8.4"/><path d="M241.3 524.5h8.4m-4.2-4.2v8.4"/><path d="M241.3 524.5h8.4m-4.2-4.2v8.4"/><path d="M242.3 524.5h8.4m-4.2-4.2v8.4"/><path d="M243.3 524.5h8.4m-4.2-4.2v8.4"/><path d="M243.3 524.5h8.4m-4.2-4.2v8.4"/><path d="M244.3 524.5h8.4m-4.2-4.2v8.4"/><path d="M245.3 524.5h8.4m-4.2-4.2v8.4"/><path d="M245.3 524.5h8.4m-4.2-4.2v8.4"/><path d="M246.3 524.5h8.4m-4.2-4.2v8.4"/><path d="M247.3 524.5h8.4m-4.2-4.2v8.4"/><path d="M247.3 524.5h8.4m-4.2-4.2v8.4"/><path d="M248.3 524.5h8.4m-4.2-4.2v8.4"/><path d="M249.3 524.5h8.4m-4.2-4.2v8.4"/><path d="M249.3 524.5h8.4m-4.2-4.2v8.4"/><path d="M250.3 524.5h8.4m-4.2-4.2v8.4"/><path d="M251.3 524.5h8.4m-4.2-4.2v8.4"/><path d="M251.3 524.5h8.4m-4.2-4.2v8.4"/><path d="M252.3 524.5h8.4m-4.2-4.2v8.4"/><path d="M253.3 524.5h8.4m-4.2-4.2v8.4"/><path d="M253.3 524.5h8.4m-4.2-4.2v8.4"/><path d="M254.3 524.5h8.4m-4.2-4.2v8.4"/><path d="M255.3 524.5h8.4m-4.2-4.2v8.4"/><path d="M255.3 524.5h8.4m-4.2-4.2v8.4"/><path d="M256.3 524.5h8.4m-4.2-4.2v8.4"/><path d="M257.3 524.5h8.4m-4.2-4.2v8.4"/><path d="M257.3 524.5h8.4m-4.2-4.2v8.4"/><path d="M258.3 524.5h8.4m-4.2-4.2v8.4"/><path d="M259.3 523.5h8.4m-4.2-4.2v8.4"/><path d="M259.3 524.5h8.4m-4.2-4.2v8.4"/><path d="M260.3 524.5h8.4m-4.2-4.2v8.4"/><path d="M261.3 524.5h8.4m-4.2-4.2v8.4"/><path d="M261.3 524.5h8.4m-4.2-4.2v8.4"/><path d="M262.3 524.5h8.4m-4.2-4.2v8.4"/><path d="M263.3 524.5h8.4m-4.2-4.2v8.4"/><path d="M264.3 524.5h8.4m-4.2-4.2v8.4"/><path d="M264.3 524.5h8.4m-4.2-4.2v8.4"/><path d="M265.3 524.5h8.4m-4.2-4.2v8.4"/><path d="M266.3 524.5h8.4m-4.2-4.2v8.4"/><path d="M266.3 524.5h8.4m-4.2-4.2v8.4"/><path d="M267.3 524.5h8.4m-4.2-4.2v8.4"/><path d="M268.3 524.5h8.4m-4.2-4.2v8.4"/><path d="M268.3 524.5h8.4m-4.2-4.2v8.4"/><path d="M269.3 524.5h8.4m-4.2-4.2v8.4"/><path d="M270.3 523.5h8.4m-4.2-4.2v8.4"/><path d="M270.3 524.5h8.4m-4.2-4.2v8.4"/><path d="M271.3 524.5h8.4m-4.2-4.2v8.4"/><path d="M272.3 524.5h8.4m-4.2-4.2v8.4"/><path d="M272.3 524.5h8.4m-4.2-4.2v8.4"/><path d="M273.3 524.5h8.4m-4.2-4.2v8.4"/><path d="M274.3 524.5h8.4m-4.2-4.2v8.4"/><path d="M274.3 524.5h8.4m-4.2-4.2v8.4"/><path d="M275.3 524.5h8.4m-4.2-4.2v8.4"/><path d="M276.3 524.5h8.4m-4.2-4.2v8.4"/><path d="M276.3 524.5h8.4m-4.2-4.2v8.4"/><path d="M277.3 524.5h8.4m-4.2-4.2v8.4"/><path d="M278.3 524.5h8.4m-4.2-4.2v8.4"/><path d="M278.3 524.5h8.4m-4.2-4.2v8.4"/><path d="M279.3 523.5h8.4m-4.2-4.2v8.4"/><path d="M280.3 524.5h8.4m-4.2-4.2v8.4"/><path d="M280.3 524.5h8.4m-4.2-4.2v8.4"/><path d="M281.3 524.5h8.4m-4.2-4.2v8.4"/><path d="M282.3 524.5h8.4m-4.2-4.2v8.4"/><path d="M282.3 524.5h8.4m-4.2-4.2v8.4"/><path d="M283.3 523.5h8.4m-4.2-4.2v8.4"/><path d="M284.3 524.5h8.4m-4.2-4.2v8.4"/><path d="M284.3 524.5h8.4m-4.2-4.2v8.4"/><path d="M285.3 524.5h8.4m-4.2-4.2v8.4"/><path d="M286.3 523.5h8.4m-4.2-4.2v8.4"/><path d="M286.3 523.5h8.4m-4.2-4.2v8.4"/><path d="M287.3 524.5h8.4m-4.2-4.2v8.4"/><path d="M288.3 524.5h8.4m-4.2-4.2v8.4"/><path d="M288.3 524.5h8.4m-4.2-4.2v8.4"/><path d="M289.3 524.5h8.4m-4.2-4.2v8.4"/><path d="M290.3 524.5h8.4m-4.2-4.2v8.4"/><path d="M290.3 524.5h8.4m-4.2-4.2v8.4"/><path d="M291.3 524.5h8.4m-4.2-4.2v8.4"/><path d="M292.3 524.5h8.4m-4.2-4.2v8.4"/><path d="M292.3 523.5h8.4m-4.2-4.2v8.4"/><path d="M293.3 524.5h8.4m-4.2-4.2v8.4"/><path d="M294.3 524.5h8.4m-4.2-4.2v8.4"/><path d="M294.3 524.5h8.4m-4.2-4.2v8.4"/><path d="M295.3 523.5h8.4m-4.2-4.2v8.4"/><path d="M296.3 524.5h8.4m-4.2-4.2v8.4"/><path d="M297.3 524.5h8.4m-4.2-4.2v8.4"/><path d="M297.3 524.5h8.4m-4.2-4.2v8.4"/><path d="M298.3 523.5h8.4m-4.2-4.2v8.4"/><path d="M299.3 524.5h8.4m-4.2-4.2v8.4"/><path d="M299.3 524.5h8.4m-4.2-4.2v8.4"/><path d="M300.3 523.5h8.4m-4.2-4.2v8.4"/><path d="M301.3 524.5h8.4m-4.2-4.2v8.4"/><path d="M301.3 524.5h8.4m-4.2-4.2v8.4"/><path d="M302.3 524.5h8.4m-4.2-4.2v8.4"/><path d="M303.3 524.5h8.4m-4.2-4.2v8.4"/><path d="M303.3 524.5h8.4m-4.2-4.2v8.4"/><path d="M304.3 524.5h8.4m-4.2-4.2v8.4"/><path d="M305.3 524.5h8.4m-4.2-4.2v8.4"/><path d="M305.3 524.5h8.4m-4.2-4.2v8.4"/><path d="M306.3 524.5h8.4m-4.2-4.2v8.4"/><path d="M307.3 523.5h8.4m-4.2-4.2v8.4"/><path d="M307.3 524.5h8.4m-4.2-4.2v8.4"/><path d="M308.3 524.5h8.4m-4.2-4.2v8.4"/><path d="M309.3 524.5h8.4m-4.2-4.2v8.4"/><path d="M309.3 523.5h8.4m-4.2-4.2v8.4"/><path d="M310.3 523.5h8.4m-4.2-4.2v8.4"/><path d="M311.3 523.5h8.4m-4.2-4.2v8.4"/><path d="M311.3 523.5h8.4m-4.2-4.2v8.4"/><path d="M312.3 524.5h8.4m-4.2-4.2v8.4"/><path d="M313.3 524.5h8.4m-4.2-4.2v8.4"/><path d="M313.3 524.5h8.4m-4.2-4.2v8.4"/><path d="M314.3 524.5h8.4m-4.2-4.2v8.4"/><path d="M315.3 523.5h8.4m-4.2-4.2v8.4"/><path d="M315.3 524.5h8.4m-4.2-4.2v8.4"/><path d="M316.3 524.5h8.4m-4.2-4.2v8.4"/><path d="M317.3 523.5h8.4m-4.2-4.2v8.4"/><path d="M317.3 523.5h8.4m-4.2-4.2v8.4"/><path d="M318.3 523.5h8.4m-4.2-4.2v8.4"/><path d="M319.3 524.5h8.4m-4.2-4.2v8.4"/><path d="M319.3 523.5h8.4m-4.2-4.2v8.4"/><path d="M320.3 524.5h8.4m-4.2-4.2v8.4"/><path d="M321.3 524.5h8.4m-4.2-4.2v8.4"/><path d="M321.3 524.5h8.4m-4.2-4.2v8.4"/><path d="M322.3 524.5h8.4m-4.2-4.2v8.4"/><path d="M323.3 523.5h8.4m-4.2-4.2v8.4"/><path d="M323.3 524.5h8.4m-4.2-4.2v8.4"/><path d="M324.3 524.5h8.4m-4.2-4.2v8.4"/><path d="M325.3 523.5h8.4m-4.2-4.2v8.4"/><path d="M325.3 524.5h8.4m-4.2-4.2v8.4"/><path d="M326.3 523.5h8.4m-4.2-4.2v8.4"/><path d="M327.3 524.5h8.4m-4.2-4.2v8.4"/><path d="M327.3 523.5h8.4m-4.2-4.2v8.4"/><path d="M328.3 523.5h8.4m-4.2-4.2v8.4"/><path d="M329.3 524.5h8.4m-4.2-4.2v8.4"/><path d="M330.3 524.5h8.4m-4.2-4.2v8.4"/><path d="M330.3 523.5h8.4m-4.2-4.2v8.4"/><path d="M331.3 524.5h8.4m-4.2-4.2v8.4"/><path d="M332.3 523.5h8.4m-4.2-4.2v8.4"/><path d="M332.3 524.5h8.4m-4.2-4.2v8.4"/><path d="M333.3 523.5h8.4m-4.2-4.2v8.4"/><path d="M334.3 524.5h8.4m-4.2-4.2v8.4"/><path d="M334.3 524.5h8.4m-4.2-4.2v8.4"/><path d="M335.3 523.5h8.4m-4.2-4.2v8.4"/><path d="M336.3 524.5h8.4m-4.2-4.2v8.4"/><path d="M336.3 524.5h8.4m-4.2-4.2v8.4"/><path d="M337.3 523.5h8.4m-4.2-4.2v8.4"/><path d="M338.3 523.5h8.4m-4.2-4.2v8.4"/><path d="M338.3 523.5h8.4m-4.2-4.2v8.4"/><path d="M339.3 523.5h8.4m-4.2-4.2v8.4"/><path d="M340.3 524.5h8.4m-4.2-4.2v8.4"/><path d="M340.3 523.5h8.4m-4.2-4.2v8.4"/><path d="M341.3 524.5h8.4m-4.2-4.2v8.4"/><path d="M342.3 524.5h8.4m-4.2-4.2v8.4"/><path d="M342.3 523.5h8.4m-4.2-4.2v8.4"/><path d="M343.3 523.5h8.4m-4.2-4.2v8.4"/><path d="M344.3 524.5h8.4m-4.2-4.2v8.4"/><path d="M344.3 523.5h8.4m-4.2-4.2v8.4"/><path d="M345.3 523.5h8.4m-4.2-4.2v8.4"/><path d="M346.3 523.5h8.4m-4.2-4.2v8.4"/><path d="M346.3 524.5h8.4m-4.2-4.2v8.4"/><path d="M347.3 524.5h8.4m-4.2-4.2v8.4"/><path d="M348.3 524.5h8.4m-4.2-4.2v8.4"/><path d="M348.3 523.5h8.4m-4.2-4.2v8.4"/><path d="M349.3 524.5h8.4m-4.2-4.2v8.4"/><path d="M350.3 523.5h8.4m-4.2-4.2v8.4"/><path d="M350.3 523.5h8.4m-4.2-4.2v8.4"/><path d="M351.3 523.5h8.4m-4.2-4.2v8.4"/><path d="M352.3 523.5h8.4m-4.2-4.2v8.4"/><path d="M352.3 523.5h8.4m-4.2-4.2v8.4"/><path d="M353.3 524.5h8.4m-4.2-4.2v8.4"/><path d="M354.3 523.5h8.4m-4.2-4.2v8.4"/><path d="M354.3 523.5h8.4m-4.2-4.2v8.4"/><path d="M355.3 524.5h8.4m-4.2-4.2v8.4"/><path d="M356.3 523.5h8.4m-4.2-4.2v8.4"/><path d="M356.3 523.5h8.4m-4.2-4.2v8.4"/><path d="M357.3 524.5h8.4m-4.2-4.2v8.4"/><path d="M358.3 523.5h8.4m-4.2-4.2v8.4"/><path d="M358.3 523.5h8.4m-4.2-4.2v8.4"/><path d="M359.3 524.5h8.4m-4.2-4.2v8.4"/><path d="M360.3 524.5h8.4m-4.2-4.2v8.4"/><path d="M360.3 523.5h8.4m-4.2-4.2v8.4"/><path d="M361.3 523.5h8.4m-4.2-4.2v8.4"/><path d="M362.3 523.5h8.4m-4.2-4.2v8.4"/><path d="M363.3 523.5h8.4m-4.2-4.2v8.4"/><path d="M363.3 523.5h8.4m-4.2-4.2v8.4"/><path d="M364.3 524.5h8.4m-4.2-4.2v8.4"/><path d="M365.3 523.5h8.4m-4.2-4.2v8.4"/><path d="M365.3 523.5h8.4m-4.2-4.2v8.4"/><path d="M366.3 523.5h8.4m-4.2-4.2v8.4"/><path d="M367.3 523.5h8.4m-4.2-4.2v8.4"/><path d="M367.3 524.5h8.4m-4.2-4.2v8.4"/><path d="M368.3 523.5h8.4m-4.2-4.2v8.4"/><path d="M369.3 524.5h8.4m-4.2-4.2v8.4"/><path d="M369.3 523.5h8.4m-4.2-4.2v8.4"/><path d="M370.3 523.5h8.4m-4.2-4.2v8.4"/><path d="M371.3 523.5h8.4m-4.2-4.2v8.4"/><path d="M371.3 524.5h8.4m-4.2-4.2v8.4"/><path d="M372.3 523.5h8.4m-4.2-4.2v8.4"/><path d="M373.3 524.5h8.4m-4.2-4.2v8.4"/><path d="M373.3 523.5h8.4m-4.2-4.2v8.4"/><path d="M374.3 524.5h8.4m-4.2-4.2v8.4"/><path d="M375.3 523.5h8.4m-4.2-4.2v8.4"/><path d="M375.3 523.5h8.4m-4.2-4.2v8.4"/><path d="M376.3 523.5h8.4m-4.2-4.2v8.4"/><path d="M377.3 523.5h8.4m-4.2-4.2v8.4"/><path d="M377.3 523.5h8.4m-4.2-4.2v8.4"/><path d="M378.3 523.5h8.4m-4.2-4.2v8.4"/><path d="M379.3 524.5h8.4m-4.2-4.2v8.4"/><path d="M379.3 523.5h8.4m-4.2-4.2v8.4"/><path d="M380.3 522.5h8.4m-4.2-4.2v8.4"/><path d="M381.3 524.5h8.4m-4.2-4.2v8.4"/><path d="M381.3 523.5h8.4m-4.2-4.2v8.4"/><path d="M382.3 523.5h8.4m-4.2-4.2v8.4"/><path d="M383.3 523.5h8.4m-4.2-4.2v8.4"/><path d="M383.3 524.5h8.4m-4.2-4.2v8.4"/><path d="M384.3 524.5h8.4m-4.2-4.2v8.4"/><path d="M385.3 523.5h8.4m-4.2-4.2v8.4"/><path d="M385.3 522.5h8.4m-4.2-4.2v8.4"/><path d="M386.3 523.5h8.4m-4.2-4.2v8.4"/><path d="M387.3 523.5h8.4m-4.2-4.2v8.4"/><path d="M387.3 522.5h8.4m-4.2-4.2v8.4"/><path d="M388.3 524.5h8.4m-4.2-4.2v8.4"/><path d="M389.3 522.5h8.4m-4.2-4.2v8.4"/><path d="M389.3 523.5h8.4m-4.2-4.2v8.4"/><path d="M390.3 523.5h8.4m-4.2-4.2v8.4"/><path d="M391.3 523.5h8.4m-4.2-4.2v8.4"/><path d="M391.3 523.5h8.4m-4.2-4.2v8.4"/><path d="M392.3 523.5h8.4m-4.2-4.2v8.4"/><path d="M393.3 523.5h8.4m-4.2-4.2v8.4"/><path d="M393.3 523.5h8.4m-4.2-4.2v8.4"/><path d="M394.3 523.5h8.4m-4.2-4.2v8.4"/><path d="M395.3 522.5h8.4m-4.2-4.2v8.4"/><path d="M396.3 522.5h8.4m-4.2-4.2v8.4"/><path d="M396.3 522.5h8.4m-4.2-4.2v8.4"/><path d="M397.3 522.5h8.4m-4.2-4.2v8.4"/><path d="M398.3 522.5h8.4m-4.2-4.2v8.4"/><path d="M398.3 523.5h8.4m-4.2-4.2v8.4"/><path d="M399.3 522.5h8.4m-4.2-4.2v8.4"/><path d="M400.3 523.5h8.4m-4.2-4.2v8.4"/><path d="M400.3 522.5h8.4m-4.2-4.2v8.4"/><path d="M401.3 522.5h8.4m-4.2-4.2v8.4"/><path d="M402.3 522.5h8.4m-4.2-4.2v8.4"/><path d="M402.3 522.5h8.4m-4.2-4.2v8.4"/><path d="M403.3 523.5h8.4m-4.2-4.2v8.4"/><path d="M404.3 522.5h8.4m-4.2-4.2v8.4"/><path d="M404.3 522.5h8.4m-4.2-4.2v8.4"/><path d="M405.3 522.5h8.4m-4.2-4.2v8.4"/><path d="M406.3 523.5h8.4m-4.2-4.2v8.4"/><path d="M406.3 522.5h8.4m-4.2-4.2v8.4"/><path d="M407.3 521.5h8.4m-4.2-4.2v8.4"/><path d="M408.3 522.5h8.4m-4.2-4.2v8.4"/><path d="M408.3 521.5h8.4m-4.2-4.2v8.4"/><path d="M409.3 522.5h8.4m-4.2-4.2v8.4"/><path d="M410.3 520.5h8.4m-4.2-4.2v8.4"/><path d="M410.3 522.5h8.4m-4.2-4.2v8.4"/><path d="M411.3 522.5h8.4m-4.2-4.2v8.4"/><path d="M412.3 521.5h8.4m-4.2-4.2v8.4"/><path d="M412.3 521.5h8.4m-4.2-4.2v8.4"/><path d="M413.3 522.5h8.4m-4.2-4.2v8.4"/><path d="M414.3 521.5h8.4m-4.2-4.2v8.4"/><path d="M414.3 521.5h8.4m-4.2-4.2v8.4"/><path d="M415.3 522.5h8.4m-4.2-4.2v8.4"/><path d="M416.3 521.5h8.4m-4.2-4.2v8.4"/><path d="M416.3 522.5h8.4m-4.2-4.2v8.4"/><path d="M417.3 520.5h8.4m-4.2-4.2v8.4"/><path d="M418.3 522.5h8.4m-4.2-4.2v8.4"/><path d="M418.3 522.5h8.4m-4.2-4.2v8.4"/><path d="M419.3 522.5h8.4m-4.2-4.2v8.4"/><path d="M420.3 521.5h8.4m-4.2-4.2v8.4"/><path d="M420.3 519.5h8.4m-4.2-4.2v8.4"/><path d="M421.3 522.5h8.4m-4.2-4.2v8.4"/><path d="M422.3 520.5h8.4m-4.2-4.2v8.4"/><path d="M422.3 521.5h8.4m-4.2-4.2v8.4"/><path d="M423.3 521.5h8.4m-4.2-4.2v8.4"/><path d="M424.3 520.5h8.4m-4.2-4.2v8.4"/><path d="M424.3 522.5h8.4m-4.2-4.2v8.4"/><path d="M425.3 518.5h8.4m-4.2-4.2v8.4"/><path d="M426.3 519.5h8.4m-4.2-4.2v8.4"/><path d="M426.3 518.5h8.4m-4.2-4.2v8.4"/><path d="M427.3 519.5h8.4m-4.2-4.2v8.4"/><path d="M428.3 519.5h8.4m-4.2-4.2v8.4"/><path d="M428.3 520.5h8.4m-4.2-4.2v8.4"/><path d="M429.3 519.5h8.4m-4.2-4.2v8.4"/><path d="M430.3 518.5h8.4m-4.2-4.2v8.4"/><path d="M431.3 519.5h8.4m-4.2-4.2v8.4"/><path d="M431.3 516.5h8.4m-4.2-4.2v8.4"/><path d="M432.3 516.5h8.4m-4.2-4.2v8.4"/><path d="M433.3 515.5h8.4m-4.2-4.2v8.4"/><path d="M433.3 518.5h8.4m-4.2-4.2v8.4"/><path d="M434.3 516.5h8.4m-4.2-4.2v8.4"/><path d="M435.3 516.5h8.4m-4.2-4.2v8.4"/><path d="M435.3 516.5h8.4m-4.2-4.2v8.4"/><path d="M436.3 515.5h8.4m-4.2-4.2v8.4"/><path d="M437.3 516.5h8.4m-4.2-4.2v8.4"/><path d="M437.3 515.5h8.4m-4.2-4.2v8.4"/><path d="M438.3 514.5h8.4m-4.2-4.2v8.4"/><path d="M439.3 515.5h8.4m-4.2-4.2v8.4"/><path d="M439.3 514.5h8.4m-4.2-4.2v8.4"/><path d="M440.3 516.5h8.4m-4.2-4.2v8.4"/><path d="M441.3 512.5h8.4m-4.2-4.2v8.4"/><path d="M441.3 514.5h8.4m-4.2-4.2v8.4"/><path d="M442.3 514.5h8.4m-4.2-4.2v8.4"/><path d="M443.3 516.5h8.4m-4.2-4.2v8.4"/><path d="M443.3 513.5h8.4m-4.2-4.2v8.4"/><path d="M444.3 510.5h8.4m-4.2-4.2v8.4"/><path d="M445.3 513.5h8.4m-4.2-4.2v8.4"/><path d="M445.3 510.5h8.4m-4.2-4.2v8.4"/><path d="M446.3 513.5h8.4m-4.2-4.2v8.4"/><path d="M447.3 510.5h8.4m-4.2-4.2v8.4"/><path d="M447.3 510.5h8.4m-4.2-4.2v8.4"/><path d="M448.3 507.5h8.4m-4.2-4.2v8.4"/><path d="M449.3 509.5h8.4m-4.2-4.2v8.4"/><path d="M449.3 512.5h8.4m-4.2-4.2v8.4"/><path d="M450.3 509.5h8.4m-4.2-4.2v8.4"/><path d="M451.3 509.5h8.4m-4.2-4.2v8.4"/><path d="M451.3 509.5h8.4m-4.2-4.2v8.4"/><path d="M452.3 505.5h8.4m-4.2-4.2v8.4"/><path d="M453.3 505.5h8.4m-4.2-4.2v8.4"/><path d="M453.3 506.5h8.4m-4.2-4.2v8.4"/><path d="M454.3 507.5h8.4m-4.2-4.2v8.4"/><path d="M455.3 502.5h8.4m-4.2-4.2v8.4"/><path d="M455.3 500.5h8.4m-4.2-4.2v8.4"/><path d="M456.3 503.5h8.4m-4.2-4.2v8.4"/><path d="M457.3 501.5h8.4m-4.2-4.2v8.4"/><path d="M457.3 495.5h8.4m-4.2-4.2v8.4"/><path d="M458.3 496.5h8.4m-4.2-4.2v8.4"/><path d="M459.3 494.5h8.4m-4.2-4.2v8.4"/><path d="M459.3 492.5h8.4m-4.2-4.2v8.4"/><path d="M460.3 493.5h8.4m-4.2-4.2v8.4"/><path d="M461.3 492.5h8.4m-4.2-4.2v8.4"/><path d="M461.3 486.5h8.4m-4.2-4.2v8.4"/><path d="M462.3 485.5h8.4m-4.2-4.2v8.4"/><path d="M463.3 488.5h8.4m-4.2-4.2v8.4"/><path d="M464.3 482.5h8.4m-4.2-4.2v8.4"/><path d="M464.3 479.5h8.4m-4.2-4.2v8.4"/><path d="M465.3 477.5h8.4m-4.2-4.2v8.4"/><path d="M466.3 481.5h8.4m-4.2-4.2v8.4"/><path d="M466.3 477.5h8.4m-4.2-4.2v8.4"/><path d="M467.3 469.5h8.4m-4.2-4.2v8.4"/><path d="M468.3 475.5h8.4m-4.2-4.2v8.4"/><path d="M468.3 470.5h8.4m-4.2-4.2v8.4"/><path d="M469.3 467.5h8.4m-4.2-4.2v8.4"/><path d="M470.3 462.5h8.4m-4.2-4.2v8.4"/><path d="M470.3 462.5h8.4m-4.2-4.2v8.4"/><path d="M471.3 468.5h8.4m-4.2-4.2v8.4"/><path d="M472.3 470.5h8.4m-4.2-4.2v8.4"/><path d="M472.3 448.5h8.4m-4.2-4.2v8.4"/><path d="M473.3 459.5h8.4m-4.2-4.2v8.4"/><path d="M474.3 455.5h8.4m-4.2-4.2v8.4"/><path d="M474.3 452.5h8.4m-4.2-4.2v8.4"/><path d="M475.3 452.5h8.4m-4.2-4.2v8.4"/><path d="M476.3 445.5h8.4m-4.2-4.2v8.4"/><path d="M476.3 442.5h8.4m-4.2-4.2v8.4"/><path d="M477.3 437.5h8.4m-4.2-4.2v8.4"/><path d="M478.3 438.5h8.4m-4.2-4.2v8.4"/><path d="M478.3 435.5h8.4m-4.2-4.2v8.4"/><path d="M479.3 424.5h8.4m-4.2-4.2v8.4"/><path d="M480.3 428.5h8.4m-4.2-4.2v8.4"/><path d="M480.3 427.5h8.4m-4.2-4.2v8.4"/><path d="M481.3 420.5h8.4m-4.2-4.2v8.4"/><path d="M482.3 423.5h8.4m-4.2-4.2v8.4"/><path d="M482.3 416.5h8.4m-4.2-4.2v8.4"/><path d="M483.3 403.5h8.4m-4.2-4.2v8.4"/><path d="M484.3 406.5h8.4m-4.2-4.2v8.4"/><path d="M484.3 401.5h8.4m-4.2-4.2v8.4"/><path d="M485.3 396.5h8.4m-4.2-4.2v8.4"/><path d="M486.3 390.5h8.4m-4.2-4.2v8.4"/><path d="M486.3 391.5h8.4m-4.2-4.2v8.4"/><path d="M487.3 389.5h8.4m-4.2-4.2v8.4"/><path d="M488.3 381.5h8.4m-4.2-4.2v8.4"/><path d="M488.3 375.5h8.4m-4.2-4.2v8.4"/><path d="M489.3 371.5h8.4m-4.2-4.2v8.4"/><path d="M490.3 360.5h8.4m-4.2-4.2v8.4"/><path d="M490.3 365.5h8.4m-4.2-4.2v8.4"/><path d="M491.3 355.5h8.4m-4.2-4.2v8.4"/><path d="M492.3 350.5h8.4m-4.2-4.2v8.4"/><path d="M492.3 360.5h8.4m-4.2-4.2v8.4"/><path d="M493.3 343.5h8.4m-4.2-4.2v8.4"/><path d="M494.3 349.5h8.4m-4.2-4.2v8.4"/><path d="M494.3 350.5h8.4m-4.2-4.2v8.4"/><path d="M495.3 326.5h8.4m-4.2-4.2v8.4"/><path d="M496.3 326.5h8.4m-4.2-4.2v8.4"/><path d="M497.3 333.5h8.4m-4.2-4.2v8.4"/><path d="M497.3 311.5h8.4m-4.2-4.2v8.4"/><path d="M498.3 309.5h8.4m-4.2-4.2v8.4"/><path d="M499.3 313.5h8.4m-4.2-4.2v8.4"/><path d="M499.3 298.5h8.4m-4.2-4.2v8.4"/><path d="M500.3 294.5h8.4m-4.2-4.2v8.4"/><path d="M501.3 292.5h8.4m-4.2-4.2v8.4"/><path d="M501.3 276.5h8.4m-4.2-4.2v8.4"/><path d="M502.3 287.5h8.4m-4.2-4.2v8.4"/><path d="M503.3 270.5h8.4m-4.2-4.2v8.4"/><path d="M503.3 271.5h8.4m-4.2-4.2v8.4"/><path d="M504.3 251.5h8.4m-4.2-4.2v8.4"/><path d="M505.3 253.5h8.4m-4.2-4.2v8.4"/><path d="M505.3 242.5h8.4m-4.2-4.2v8.4"/><path d="M506.3 229.5h8.4m-4.2-4.2v8.4"/><path d="M507.3 242.5h8.4m-4.2-4.2v8.4"/><path d="M507.3 229.5h8.4m-4.2-4.2v8.4"/><path d="M508.3 207.5h8.4m-4.2-4.2v8.4"/><path d="M509.3 216.5h8.4m-4.2-4.2v8.4"/><path d="M509.3 208.5h8.4m-4.2-4.2v8.4"/><path d="M510.3 203.5h8.4m-4.2-4.2v8.4"/><path d="M511.3 211.5h8.4m-4.2-4.2v8.4"/><path d="M511.3 203.5h8.4m-4.2-4.2v8.4"/><path d="M512.3 192.5h8.4m-4.2-4.2v8.4"/><path d="M513.3 191.5h8.4m-4.2-4.2v8.4"/><path d="M513.3 174.5h8.4m-4.2-4.2v8.4"/><path d="M514.3 162.5h8.4m-4.2-4.2v8.4"/><path d="M515.3 165.5h8.4m-4.2-4.2v8.4"/><path d="M515.3 171.5h8.4m-4.2-4.2v8.4"/><path d="M516.3 160.5h8.4m-4.2-4.2v8.4"/><path d="M517.3 150.5h8.4m-4.2-4.2v8.4"/><path d="M517.3 141.5h8.4m-4.2-4.2v8.4"/><path d="M518.3 128.5h8.4m-4.2-4.2v8.4"/><path d="M519.3 124.5h8.4m-4.2-4.2v8.4"/><path d="M519.3 132.5h8.4m-4.2-4.2v8.4"/><path d="M520.3 129.5h8.4m-4.2-4.2v8.4"/><path d="M521.3 122.5h8.4m-4.2-4.2v8.4"/><path d="M521.3 119.5h8.4m-4.2-4.2v8.4"/><path d="M522.3 124.5h8.4m-4.2-4.2v8.4"/><path d="M523.3 105.5h8.4m-4.2-4.2v8.4"/><path d="M523.3 108.5h8.4m-4.2-4.2v8.4"/><path d="M524.3 109.5h8.4m-4.2-4.2v8.4"/><path d="M525.3 103.5h8.4m-4.2-4.2v8.4"/><path d="M525.3 126.5h8.4m-4.2-4.2v8.4"/><path d="M526.3 114.5h8.4m-4.2-4.2v8.4"/><path d="M527.3 124.5h8.4m-4.2-4.2v8.4"/><path d="M527.3 95.5h8.4m-4.2-4.2v8.4"/><path d="M528.3 96.5h8.4m-4.2-4.2v8.4"/><path d="M529.3 121.5h8.4m-4.2-4.2v8.4"/><path d="M530.3 89.5h8.4m-4.2-4.2v8.4"/><path d="M530.3 98.5h8.4m-4.2-4.2v8.4"/><path d="M531.3 106.5h8.4m-4.2-4.2v8.4"/><path d="M532.3 122.5h8.4m-4.2-4.2v8.4"/><path d="M532.3 101.5h8.4m-4.2-4.2v8.4"/><path d="M533.3 101.5h8.4m-4.2-4.2v8.4"/><path d="M534.3 121.5h8.4m-4.2-4.2v8.4"/><path d="M534.3 121.5h8.4m-4.2-4.2v8.4"/><path d="M535.3 128.5h8.4m-4.2-4.2v8.4"/><path d="M536.3 126.5h8.4m-4.2-4.2v8.4"/><path d="M536.3 122.5h8.4m-4.2-4.2v8.4"/><path d="M537.3 114.5h8.4m-4.2-4.2v8.4"/><path d="M538.3 134.5h8.4m-4.2-4.2v8.4"/><path d="M538.3 124.5h8.4m-4.2-4.2v8.4"/><path d="M539.3 154.5h8.4m-4.2-4.2v8.4"/><path d="M540.3 162.5h8.4m-4.2-4.2v8.4"/><path d="M540.3 152.5h8.4m-4.2-4.2v8.4"/><path d="M541.3 145.5h8.4m-4.2-4.2v8.4"/><path d="M542.3 171.5h8.4m-4.2-4.2v8.4"/><path d="M542.3 161.5h8.4m-4.2-4.2v8.4"/><path d="M543.3 151.5h8.4m-4.2-4.2v8.4"/><path d="M544.3 184.5h8.4m-4.2-4.2v8.4"/><path d="M544.3 188.5h8.4m-4.2-4.2v8.4"/><path d="M545.3 165.5h8.4m-4.2-4.2v8.4"/><path d="M546.3 175.5h8.4m-4.2-4.2v8.4"/><path d="M546.3 201.5h8.4m-4.2-4.2v8.4"/><path d="M547.3 202.5h8.4m-4.2-4.2v8.4"/><path d="M548.3 212.5h8.4m-4.2-4.2v8.4"/><path d="M548.3 228.5h8.4m-4.2-4.2v8.4"/><path d="M549.3 217.5h8.4m-4.2-4.2v8.4"/><path d="M550.3 225.5h8.4m-4.2-4.2v8.4"/><path d="M550.3 251.5h8.4m-4.2-4.2v8.4"/><path d="M551.3 255.5h8.4m-4.2-4.2v8.4"/><path d="M552.3 249.5h8.4m-4.2-4.2v8.4"/><path d="M552.3 254.5h8.4m-4.2-4.2v8.4"/><path d="M553.3 268.5h8.4m-4.2-4.2v8.4"/><path d="M554.3 272.5h8.4m-4.2-4.2v8.4"/><path d="M554.3 280.5h8.4m-4.2-4.2v8.4"/><path d="M555.3 283.5h8.4m-4.2-4.2v8.4"/><path d="M556.3 288.5h8.4m-4.2-4.2v8.4"/><path d="M556.3 289.5h8.4m-4.2-4.2v8.4"/><path d="M557.3 291.5h8.4m-4.2-4.2v8.4"/><path d="M558.3 306.5h8.4m-4.2-4.2v8.4"/><path d="M558.3 311.5h8.4m-4.2-4.2v8.4"/><path d="M559.3 302.5h8.4m-4.2-4.2v8.4"/><path d="M560.3 307.5h8.4m-4.2-4.2v8.4"/><path d="M560.3 313.5h8.4m-4.2-4.2v8.4"/><path d="M561.3 325.5h8.4m-4.2-4.2v8.4"/><path d="M562.3 335.5h8.4m-4.2-4.2v8.4"/><path d="M563.3 322.5h8.4m-4.2-4.2v8.4"/><path d="M563.3 338.5h8.4m-4.2-4.2v8.4"/><path d="M564.3 343.5h8.4m-4.2-4.2v8.4"/><path d="M565.3 346.5h8.4m-4.2-4.2v8.4"/><path d="M565.3 335.5h8.4m-4.2-4.2v8.4"/><path d="M566.3 339.5h8.4m-4.2-4.2v8.4"/><path d="M567.3 353.5h8.4m-4.2-4.2v8.4"/><path d="M567.3 354.5h8.4m-4.2-4.2v8.4"/><path d="M568.3 370.5h8.4m-4.2-4.2v8.4"/><path d="M569.3 368.5h8.4m-4.2-4.2v8.4"/><path d="M569.3 382.5h8.4m-4.2-4.2v8.4"/><path d="M570.3 368.5h8.4m-4.2-4.2v8.4"/><path d="M571.3 387.5h8.4m-4.2-4.2v8.4"/><path d="M571.3 374.5h8.4m-4.2-4.2v8.4"/><path d="M572.3 376.5h8.4m-4.2-4.2v8.4"/><path d="M573.3 391.5h8.4m-4.2-4.2v8.4"/><path d="M573.3 400.5h8.4m-4.2-4.2v8.4"/><path d="M574.3 392.5h8.4m-4.2-4.2v8.4"/><path d="M575.3 409.5h8.4m-4.2-4.2v8.4"/><path d="M575.3 402.5h8.4m-4.2-4.2v8.4"/><path d="M576.3 408.5h8.4m-4.2-4.2v8.4"/><path d="M577.3 413.5h8.4m-4.2-4.2v8.4"/><path d="M577.3 403.5h8.4m-4.2-4.2v8.4"/><path d="M578.3 414.5h8.4m-4.2-4.2v8.4"/><path d="M579.3 420.5h8.4m-4.2-4.2v8.4"/><path d="M579.3 418.5h8.4m-4.2-4.2v8.4"/><path d="M580.3 413.5h8.4m-4.2-4.2v8.4"/><path d="M581.3 436.5h8.4m-4.2-4.2v8.4"/><path d="M581.3 425.5h8.4m-4.2-4.2v8.4"/><path d="M582.3 429.5h8.4m-4.2-4.2v8.4"/><path d="M583.3 428.5h8.4m-4.2-4.2v8.4"/><path d="M583.3 424.5h8.4m-4.2-4.2v8.4"/><path d="M584.3 437.5h8.4m-4.2-4.2v8.4"/><path d="M585.3 440.5h8.4m-4.2-4.2v8.4"/><path d="M585.3 436.5h8.4m-4.2-4.2v8.4"/><path d="M586.3 443.5h8.4m-4.2-4.2v8.4"/><path d="M587.3 439.5h8.4m-4.2-4.2v8.4"/><path d="M587.3 445.5h8.4m-4.2-4.2v8.4"/><path d="M588.3 448.5h8.4m-4.2-4.2v8.4"/><path d="M589.3 448.5h8.4m-4.2-4.2v8.4"/><path d="M589.3 451.5h8.4m-4.2-4.2v8.4"/><path d="M590.3 446.5h8.4m-4.2-4.2v8.4"/><path d="M591.3 448.5h8.4m-4.2-4.2v8.4"/><path d="M591.3 454.5h8.4m-4.2-4.2v8.4"/><path d="M592.3 455.5h8.4m-4.2-4.2v8.4"/><path d="M593.3 443.5h8.4m-4.2-4.2v8.4"/><path d="M593.3 458.5h8.4m-4.2-4.2v8.4"/><path d="M594.3 454.5h8.4m-4.2-4.2v8.4"/><path d="M595.3 457.5h8.4m-4.2-4.2v8.4"/><path d="M596.3 460.5h8.4m-4.2-4.2v8.4"/><path d="M596.3 461.5h8.4m-4.2-4.2v8.4"/><path d="M597.3 473.5h8.4m-4.2-4.2v8.4"/><path d="M598.3 460.5h8.4m-4.2-4.2v8.4"/><path d="M598.3 462.5h8.4m-4.2-4.2v8.4"/><path d="M599.3 463.5h8.4m-4.2-4.2v8.4"/><path d="M600.3 465.5h8.4m-4.2-4.2v8.4"/><path d="M600.3 462.5h8.4m-4.2-4.2v8.4"/><path d="M601.3 461.5h8.4m-4.2-4.2v8.4"/><path d="M602.3 468.5h8.4m-4.2-4.2v8.4"/><path d="M602.3 471.5h8.4m-4.2-4.2v8.4"/><path d="M603.3 461.5h8.4m-4.2-4.2v8.4"/><path d="M604.3 475.5h8.4m-4.2-4.2v8.4"/><path d="M604.3 465.5h8.4m-4.2-4.2v8.4"/><path d="M605.3 471.5h8.4m-4.2-4.2v8.4"/><path d="M606.3 470.5h8.4m-4.2-4.2v8.4"/><path d="M606.3 455.5h8.4m-4.2-4.2v8.4"/><path d="M607.3 461.5h8.4m-4.2-4.2v8.4"/><path d="M608.3 471.5h8.4m-4.2-4.2v8.4"/><path d="M608.3 469.5h8.4m-4.2-4.2v8.4"/><path d="M609.3 469.5h8.4m-4.2-4.2v8.4"/><path d="M610.3 471.5h8.4m-4.2-4.2v8.4"/><path d="M610.3 471.5h8.4m-4.2-4.2v8.4"/><path d="M611.3 476.5h8.4m-4.2-4.2v8.4"/><path d="M612.3 467.5h8.4m-4.2-4.2v8.4"/><path d="M612.3 466.5h8.4m-4.2-4.2v8.4"/><path d="M613.3 464.5h8.4m-4.2-4.2v8.4"/><path d="M614.3 476.5h8.4m-4.2-4.2v8.4"/><path d="M614.3 467.5h8.4m-4.2-4.2v8.4"/><path d="M615.3 468.5h8.4m-4.2-4.2v8.4"/><path d="M616.3 466.5h8.4m-4.2-4.2v8.4"/><path d="M616.3 466.5h8.4m-4.2-4.2v8.4"/><path d="M617.3 469.5h8.4m-4.2-4.2v8.4"/><path d="M618.3 472.5h8.4m-4.2-4.2v8.4"/><path d="M618.3 473.5h8.4m-4.2-4.2v8.4"/><path d="M619.3 462.5h8.4m-4.2-4.2v8.4"/><path d="M620.3 466.5h8.4m-4.2-4.2v8.4"/><path d="M620.3 468.5h8.4m-4.2-4.2v8.4"/><path d="M621.3 463.5h8.4m-4.2-4.2v8.4"/><path d="M622.3 463.5h8.4m-4.2-4.2v8.4"/><path d="M622.3 464.5h8.4m-4.2-4.2v8.4"/><path d="M623.3 466.5h8.4m-4.2-4.2v8.4"/><path d="M624.3 465.5h8.4m-4.2-4.2v8.4"/><path d="M624.3 461.5h8.4m-4.2-4.2v8.4"/><path d="M625.3 468.5h8.4m-4.2-4.2v8.4"/><path d="M626.3 463.5h8.4m-4.2-4.2v8.4"/><path d="M626.3 470.5h8.4m-4.2-4.2v8.4"/><path d="M627.3 468.5h8.4m-4.2-4.2v8.4"/><path d="M628.3 468.5h8.4m-4.2-4.2v8.4"/><path d="M628.3 462.5h8.4m-4.2-4.2v8.4"/><path d="M629.3 467.5h8.4m-4.2-4.2v8.4"/><path d="M630.3 471.5h8.4m-4.2-4.2v8.4"/><path d="M631.3 472.5h8.4m-4.2-4.2v8.4"/><path d="M631.3 470.5h8.4m-4.2-4.2v8.4"/><path d="M632.3 463.5h8.4m-4.2-4.2v8.4"/><path d="M633.3 467.5h8.4m-4.2-4.2v8.4"/><path d="M633.3 462.5h8.4m-4.2-4.2v8.4"/><path d="M634.3 466.5h8.4m-4.2-4.2v8.4"/><path d="M635.3 467.5h8.4m-4.2-4.2v8.4"/><path d="M635.3 466.5h8.4m-4.2-4.2v8.4"/><path d="M636.3 463.5h8.4m-4.2-4.2v8.4"/><path d="M637.3 469.5h8.4m-4.2-4.2v8.4"/><path d="M637.3 467.5h8.4m-4.2-4.2v8.4"/><path d="M638.3 474.5h8.4m-4.2-4.2v8.4"/><path d="M639.3 473.5h8.4m-4.2-4.2v8.4"/><path d="M639.3 468.5h8.4m-4.2-4.2v8.4"/><path d="M640.3 463.5h8.4m-4.2-4.2v8.4"/><path d="M641.3 466.5h8.4m-4.2-4.2v8.4"/><path d="M641.3 476.5h8.4m-4.2-4.2v8.4"/><path d="M642.3 471.5h8.4m-4.2-4.2v8.4"/><path d="M643.3 462.5h8.4m-4.2-4.2v8.4"/><path d="M643.3 469.5h8.4m-4.2-4.2v8.4"/><path d="M644.3 467.5h8.4m-4.2-4.2v8.4"/><path d="M645.3 470.5h8.4m-4.2-4.2v8.4"/><path d="M645.3 469.5h8.4m-4.2-4.2v8.4"/><path d="M646.3 477.5h8.4m-4.2-4.2v8.4"/><path d="M647.3 472.5h8.4m-4.2-4.2v8.4"/><path d="M647.3 469.5h8.4m-4.2-4.2v8.4"/><path d="M648.3 472.5h8.4m-4.2-4.2v8.4"/><path d="M649.3 477.5h8.4m-4.2-4.2v8.4"/><path d="M649.3 472.5h8.4m-4.2-4.2v8.4"/><path d="M650.3 474.5h8.4m-4.2-4.2v8.4"/><path d="M651.3 476.5h8.4m-4.2-4.2v8.4"/><path d="M651.3 470.5h8.4m-4.2-4.2v8.4"/><path d="M652.3 477.5h8.4m-4.2-4.2v8.4"/><path d="M653.3 481.5h8.4m-4.2-4.2v8.4"/><path d="M653.3 483.5h8.4m-4.2-4.2v8.4"/><path d="M654.3 483.5h8.4m-4.2-4.2v8.4"/><path d="M655.3 484.5h8.4m-4.2-4.2v8.4"/><path d="M655.3 485.5h8.4m-4.2-4.2v8.4"/><path d="M656.3 486.5h8.4m-4.2-4.2v8.4"/><path d="M657.3 487.5h8.4m-4.2-4.2v8.4"/><path d="M657.3 479.5h8.4m-4.2-4.2v8.4"/><path d="M658.3 487.5h8.4m-4.2-4.2v8.4"/><path d="M659.3 485.5h8.4m-4.2-4.2v8.4"/><path d="M659.3 484.5h8.4m-4.2-4.2v8.4"/><path d="M660.3 486.5h8.4m-4.2-4.2v8.4"/><path d="M661.3 491.5h8.4m-4.2-4.2v8.4"/><path d="M661.3 487.5h8.4m-4.2-4.2v8.4"/><path d="M662.3 491.5h8.4m-4.2-4.2v8.4"/><path d="M663.3 487.5h8.4m-4.2-4.2v8.4"/><path d="M664.3 493.5h8.4m-4.2-4.2v8.4"/><path d="M664.3 493.5h8.4m-4.2-4.2v8.4"/><path d="M665.3 495.5h8.4m-4.2-4.2v8.4"/><path d="M666.3 494.5h8.4m-4.2-4.2v8.4"/><path d="M666.3 493.5h8.4m-4.2-4.2v8.4"/><path d="M667.3 496.5h8.4m-4.2-4.2v8.4"/><path d="M668.3 492.5h8.4m-4.2-4.2v8.4"/><path d="M668.3 495.5h8.4m-4.2-4.2v8.4"/><path d="M669.3 498.5h8.4m-4.2-4.2v8.4"/><path d="M670.3 498.5h8.4m-4.2-4.2v8.4"/><path d="M670.3 495.5h8.4m-4.2-4.2v8.4"/><path d="M671.3 497.5h8.4m-4.2-4.2v8.4"/><path d="M672.3 495.5h8.4m-4.2-4.2v8.4"/><path d="M672.3 496.5h8.4m-4.2-4.2v8.4"/><path d="M673.3 495.5h8.4m-4.2-4.2v8.4"/><path d="M674.3 498.5h8.4m-4.2-4.2v8.4"/><path d="M674.3 498.5h8.4m-4.2-4.2v8.4"/><path d="M675.3 499.5h8.4m-4.2-4.2v8.4"/><path d="M676.3 496.5h8.4m-4.2-4.2v8.4"/><path d="M676.3 497.5h8.4m-4.2-4.2v8.4"/><path d="M677.3 498.5h8.4m-4.2-4.2v8.4"/><path d="M678.3 501.5h8.4m-4.2-4.2v8.4"/><path d="M678.3 502.5h8.4m-4.2-4.2v8.4"/><path d="M679.3 503.5h8.4m-4.2-4.2v8.4"/><path d="M680.3 501.5h8.4m-4.2-4.2v8.4"/><path d="M680.3 501.5h8.4m-4.2-4.2v8.4"/><path d="M681.3 503.5h8.4m-4.2-4.2v8.4"/><path d="M682.3 504.5h8.4m-4.2-4.2v8.4"/><path d="M682.3 502.5h8.4m-4.2-4.2v8.4"/><path d="M683.3 504.5h8.4m-4.2-4.2v8.4"/><path d="M684.3 502.5h8.4m-4.2-4.2v8.4"/><path d="M684.3 503.5h8.4m-4.2-4.2v8.4"/><path d="M685.3 503.5h8.4m-4.2-4.2v8.4"/><path d="M686.3 505.5h8.4m-4.2-4.2v8.4"/><path d="M686.3 501.5h8.4m-4.2-4.2v8.4"/><path d="M687.3 507.5h8.4m-4.2-4.2v8.4"/><path d="M688.3 505.5h8.4m-4.2-4.2v8.4"/><path d="M688.3 504.5h8.4m-4.2-4.2v8.4"/><path d="M689.3 502.5h8.4m-4.2-4.2v8.4"/><path d="M690.3 507.5h8.4m-4.2-4.2v8.4"/><path d="M690.3 509.5h8.4m-4.2-4.2v8.4"/><path d="M691.3 503.5h8.4m-4.2-4.2v8.4"/><path d="M692.3 505.5h8.4m-4.2-4.2v8.4"/><path d="M692.3 508.5h8.4m-4.2-4.2v8.4"/><path d="M693.3 507.5h8.4m-4.2-4.2v8.4"/><path d="M694.3 509.5h8.4m-4.2-4.2v8.4"/><path d="M694.3 508.5h8.4m-4.2-4.2v8.4"/><path d="M695.3 508.5h8.4m-4.2-4.2v8.4"/><path d="M696.3 509.5h8.4m-4.2-4.2v8.4"/><path d="M697.3 510.5h8.4m-4.2-4.2v8.4"/><path d="M697.3 508.5h8.4m-4.2-4.2v8.4"/><path d="M698.3 509.5h8.4m-4.2-4.2v8.4"/><path d="M699.3 508.5h8.4m-4.2-4.2v8.4"/><path d="M699.3 510.5h8.4m-4.2-4.2v8.4"/><path d="M700.3 509.5h8.4m-4.2-4.2v8.4"/><path d="M701.3 510.5h8.4m-4.2-4.2v8.4"/><path d="M701.3 510.5h8.4m-4.2-4.2v8.4"/><path d="M702.3 511.5h8.4m-4.2-4.2v8.4"/><path d="M703.3 513.5h8.4m-4.2-4.2v8.4"/><path d="M703.3 509.5h8.4m-4.2-4.2v8.4"/><path d="M704.3 514.5h8.4m-4.2-4.2v8.4"/><path d="M705.3 512.5h8.4m-4.2-4.2v8.4"/><path d="M705.3 512.5h8.4m-4.2-4.2v8.4"/><path d="M706.3 514.5h8.4m-4.2-4.2v8.4"/><path d="M707.3 514.5h8.4m-4.2-4.2v8.4"/><path d="M707.3 512.5h8.4m-4.2-4.2v8.4"/><path d="M708.3 514.5h8.4m-4.2-4.2v8.4"/><path d="M709.3 514.5h8.4m-4.2-4.2v8.4"/><path d="M709.3 515.5h8.4m-4.2-4.2v8.4"/><path d="M710.3 514.5h8.4m-4.2-4.2v8.4"/><path d="M711.3 513.5h8.4m-4.2-4.2v8.4"/><path d="M711.3 514.5h8.4m-4.2-4.2v8.4"/><path d="M712.3 513.5h8.4m-4.2-4.2v8.4"/><path d="M713.3 518.5h8.4m-4.2-4.2v8.4"/><path d="M713.3 513.5h8.4m-4.2-4.2v8.4"/><path d="M714.3 515.5h8.4m-4.2-4.2v8.4"/><path d="M715.3 518.5h8.4m-4.2-4.2v8.4"/><path d="M715.3 518.5h8.4m-4.2-4.2v8.4"/><path d="M716.3 515.5h8.4m-4.2-4.2v8.4"/><path d="M717.3 513.5h8.4m-4.2-4.2v8.4"/><path d="M717.3 515.5h8.4m-4.2-4.2v8.4"/><path d="M718.3 515.5h8.4m-4.2-4.2v8.4"/><path d="M719.3 515.5h8.4m-4.2-4.2v8.4"/><path d="M719.3 515.5h8.4m-4.2-4.2v8.4"/><path d="M720.3 518.5h8.4m-4.2-4.2v8.4"/><path d="M721.3 517.5h8.4m-4.2-4.2v8.4"/><path d="M721.3 516.5h8.4m-4.2-4.2v8.4"/><path d="M722.3 517.5h8.4m-4.2-4.2v8.4"/><path d="M723.3 518.5h8.4m-4.2-4.2v8.4"/><path d="M723.3 514.5h8.4m-4.2-4.2v8.4"/><path d="M724.3 517.5h8.4m-4.2-4.2v8.4"/><path d="M725.3 517.5h8.4m-4.2-4.2v8.4"/><path d="M725.3 519.5h8.4m-4.2-4.2v8.4"/><path d="M726.3 517.5h8.4m-4.2-4.2v8.4"/><path d="M727.3 518.5h8.4m-4.2-4.2v8.4"/><path d="M727.3 516.5h8.4m-4.2-4.2v8.4"/><path d="M728.3 518.5h8.4m-4.2-4.2v8.4"/><path d="M729.3 517.5h8.4m-4.2-4.2v8.4"/><path d="M730.3 519.5h8.4m-4.2-4.2v8.4"/><path d="M730.3 518.5h8.4m-4.2-4.2v8.4"/><path d="M731.3 518.5h8.4m-4.2-4.2v8.4"/><path d="M732.3 519.5h8.4m-4.2-4.2v8.4"/><path d="M732.3 518.5h8.4m-4.2-4.2v8.4"/><path d="M733.3 516.5h8.4m-4.2-4.2v8.4"/><path d="M734.3 517.5h8.4m-4.2-4.2v8.4"/><path d="M734.3 518.5h8.4m-4.2-4.2v8.4"/><path d="M735.3 516.5h8.4m-4.2-4.2v8.4"/><path d="M736.3 517.5h8.4m-4.2-4.2v8.4"/><path d="M736.3 517.5h8.4m-4.2-4.2v8.4"/><path d="M737.3 518.5h8.4m-4.2-4.2v8.4"/><path d="M738.3 516.5h8.4m-4.2-4.2v8.4"/><path d="M738.3 518.5h8.4m-4.2-4.2v8.4"/><path d="M739.3 518.5h8.4m-4.2-4.2v8.4"/><path d="M740.3 518.5h8.4m-4.2-4.2v8.4"/><path d="M740.3 519.5h8.4m-4.2-4.2v8.4"/><path d="M741.3 517.5h8.4m-4.2-4.2v8.4"/><path d="M742.3 519.5h8.4m-4.2-4.2v8.4"/><path d="M742.3 516.5h8.4m-4.2-4.2v8.4"/><path d="M743.3 520.5h8.4m-4.2-4.2v8.4"/><path d="M744.3 520.5h8.4m-4.2-4.2v8.4"/><path d="M744.3 515.5h8.4m-4.2-4.2v8.4"/><path d="M745.3 520.5h8.4m-4.2-4.2v8.4"/><path d="M746.3 518.5h8.4m-4.2-4.2v8.4"/><path d="M746.3 517.5h8.4m-4.2-4.2v8.4"/><path d="M747.3 516.5h8.4m-4.2-4.2v8.4"/><path d="M748.3 519.5h8.4m-4.2-4.2v8.4"/><path d="M748.3 517.5h8.4m-4.2-4.2v8.4"/><path d="M749.3 519.5h8.4m-4.2-4.2v8.4"/><path d="M750.3 519.5h8.4m-4.2-4.2v8.4"/><path d="M750.3 519.5h8.4m-4.2-4.2v8.4"/><path d="M751.3 518.5h8.4m-4.2-4.2v8.4"/><path d="M752.3 519.5h8.4m-4.2-4.2v8.4"/><path d="M752.3 519.5h8.4m-4.2-4.2v8.4"/><path d="M753.3 518.5h8.4m-4.2-4.2v8.4"/><path d="M754.3 518.5h8.4m-4.2-4.2v8.4"/><path d="M754.3 519.5h8.4m-4.2-4.2v8.4"/><path d="M755.3 520.5h8.4m-4.2-4.2v8.4"/><path d="M756.3 522.5h8.4m-4.2-4.2v8.4"/><path d="M756.3 520.5h8.4m-4.2-4.2v8.4"/><path d="M757.3 519.5h8.4m-4.2-4.2v8.4"/><path d="M758.3 518.5h8.4m-4.2-4.2v8.4"/><path d="M758.3 517.5h8.4m-4.2-4.2v8.4"/><path d="M759.3 517.5h8.4m-4.2-4.2v8.4"/><path d="M760.3 518.5h8.4m-4.2-4.2v8.4"/><path d="M760.3 520.5h8.4m-4.2-4.2v8.4"/><path d="M761.3 519.5h8.4m-4.2-4.2v8.4"/><path d="M762.3 520.5h8.4m-4.2-4.2v8.4"/><path d="M763.3 519.5h8.4m-4.2-4.2v8.4"/><path d="M763.3 517.5h8.4m-4.2-4.2v8.4"/><path d="M764.3 520.5h8.4m-4.2-4.2v8.4"/><path d="M765.3 518.5h8.4m-4.2-4.2v8.4"/><path d="M765.3 517.5h8.4m-4.2-4.2v8.4"/><path d="M766.3 519.5h8.4m-4.2-4.2v8.4"/><path d="M767.3 519.5h8.4m-4.2-4.2v8.4"/><path d="M767.3 521.5h8.4m-4.2-4.2v8.4"/><path d="M768.3 521.5h8.4m-4.2-4.2v8.4"/><path d="M769.3 521.5h8.4m-4.2-4.2v8.4"/><path d="M769.3 519.5h8.4m-4.2-4.2v8.4"/><path d="M770.3 521.5h8.4m-4.2-4.2v8.4"/><path d="M771.3 519.5h8.4m-4.2-4.2v8.4"/><path d="M771.3 519.5h8.4m-4.2-4.2v8.4"/><path d="M772.3 519.5h8.4m-4.2-4.2v8.4"/><path d="M773.3 521.5h8.4m-4.2-4.2v8.4"/><path d="M773.3 520.5h8.4m-4.2-4.2v8.4"/><path d="M774.3 521.5h8.4m-4.2-4.2v8.4"/><path d="M775.3 520.5h8.4m-4.2-4.2v8.4"/><path d="M775.3 519.5h8.4m-4.2-4.2v8.4"/><path d="M776.3 520.5h8.4m-4.2-4.2v8.4"/><path d="M777.3 522.5h8.4m-4.2-4.2v8.4"/><path d="M777.3 522.5h8.4m-4.2-4.2v8.4"/><path d="M778.3 520.5h8.4m-4.2-4.2v8.4"/><path d="M779.3 521.5h8.4m-4.2-4.2v8.4"/><path d="M779.3 522.5h8.4m-4.2-4.2v8.4"/><path d="M780.3 522.5h8.4m-4.2-4.2v8.4"/><path d="M781.3 521.5h8.4m-4.2-4.2v8.4"/><path d="M781.3 521.5h8.4m-4.2-4.2v8.4"/><path d="M782.3 522.5h8.4m-4.2-4.2v8.4"/><path d="M783.3 521.5h8.4m-4.2-4.2v8.4"/><path d="M783.3 520.5h8.4m-4.2-4.2v8.4"/><path d="M784.3 522.5h8.4m-4.2-4.2v8.4"/><path d="M785.3 522.5h8.4m-4.2-4.2v8.4"/><path d="M785.3 522.5h8.4m-4.2-4.2v8.4"/><path d="M786.3 522.5h8.4m-4.2-4.2v8.4"/><path d="M787.3 523.5h8.4m-4.2-4.2v8.4"/><path d="M787.3 522.5h8.4m-4.2-4.2v8.4"/><path d="M788.3 522.5h8.4m-4.2-4.2v8.4"/><path d="M789.3 523.5h8.4m-4.2-4.2v8.4"/><path d="M789.3 522.5h8.4m-4.2-4.2v8.4"/><path d="M790.3 522.5h8.4m-4.2-4.2v8.4"/><path d="M791.3 523.5h8.4m-4.2-4.2v8.4"/><path d="M791.3 523.5h8.4m-4.2-4.2v8.4"/><path d="M792.3 523.5h8.4m-4.2-4.2v8.4"/><path d="M793.3 523.5h8.4m-4.2-4.2v8.4"/><path d="M793.3 523.5h8.4m-4.2-4.2v8.4"/><path d="M794.3 523.5h8.4m-4.2-4.2v8.4"/><path d="M795.3 523.5h8.4m-4.2-4.2v8.4"/><path d="M796.3 523.5h8.4m-4.2-4.2v8.4"/><path d="M796.3 523.5h8.4m-4.2-4.2v8.4"/><path d="M797.3 523.5h8.4m-4.2-4.2v8.4"/><path d="M798.3 523.5h8.4m-4.2-4.2v8.4"/><path d="M798.3 522.5h8.4m-4.2-4.2v8.4"/><path d="M799.3 524.5h8.4m-4.2-4.2v8.4"/><path d="M800.3 523.5h8.4m-4.2-4.2v8.4"/><path d="M800.3 523.5h8.4m-4.2-4.2v8.4"/><path d="M801.3 523.5h8.4m-4.2-4.2v8.4"/><path d="M802.3 523.5h8.4m-4.2-4.2v8.4"/><path d="M802.3 523.5h8.4m-4.2-4.2v8.4"/><path d="M803.3 523.5h8.4m-4.2-4.2v8.4"/><path d="M804.3 523.5h8.4m-4.2-4.2v8.4"/><path d="M804.3 524.5h8.4m-4.2-4.2v8.4"/><path d="M805.3 523.5h8.4m-4.2-4.2v8.4"/><path d="M806.3 523.5h8.4m-4.2-4.2v8.4"/><path d="M806.3 523.5h8.4m-4.2-4.2v8.4"/><path d="M807.3 523.5h8.4m-4.2-4.2v8.4"/><path d="M808.3 523.5h8.4m-4.2-4.2v8.4"/><path d="M808.3 523.5h8.4m-4.2-4.2v8.4"/><path d="M809.3 524.5h8.4m-4.2-4.2v8.4"/><path d="M810.3 524.5h8.4m-4.2-4.2v8.4"/><path d="M810.3 523.5h8.4m-4.2-4.2v8.4"/><path d="M811.3 524.5h8.4m-4.2-4.2v8.4"/><path d="M812.3 523.5h8.4m-4.2-4.2v8.4"/><path d="M812.3 524.5h8.4m-4.2-4.2v8.4"/><path d="M813.3 524.5h8.4m-4.2-4.2v8.4"/><path d="M814.3 523.5h8.4m-4.2-4.2v8.4"/><path d="M814.3 524.5h8.4m-4.2-4.2v8.4"/><path d="M815.3 524.5h8.4m-4.2-4.2v8.4"/><path d="M816.3 524.5h8.4m-4.2-4.2v8.4"/><path d="M816.3 524.5h8.4m-4.2-4.2v8.4"/><path d="M817.3 524.5h8.4m-4.2-4.2v8.4"/><path d="M818.3 524.5h8.4m-4.2-4.2v8.4"/><path d="M818.3 524.5h8.4m-4.2-4.2v8.4"/><path d="M819.3 524.5h8.4m-4.2-4.2v8.4"/><path d="M820.3 524.5h8.4m-4.2-4.2v8.4"/><path d="M820.3 524.5h8.4m-4.2-4.2v8.4"/><path d="M821.3 524.5h8.4m-4.2-4.2v8.4"/><path d="M822.3 524.5h8.4m-4.2-4.2v8.4"/><path d="M822.3 524.5h8.4m-4.2-4.2v8.4"/><path d="M823.3 524.5h8.4m-4.2-4.2v8.4"/><path d="M824.3 524.5h8.4m-4.2-4.2v8.4"/><path d="M824.3 524.5h8.4m-4.2-4.2v8.4"/><path d="M825.3 524.5h8.4m-4.2-4.2v8.4"/><path d="M826.3 524.5h8.4m-4.2-4.2v8.4"/><path d="M826.3 524.5h8.4m-4.2-4.2v8.4"/><path d="M827.3 524.5h8.4m-4.2-4.2v8.4"/><path d="M828.3 524.5h8.4m-4.2-4.2v8.4"/><path d="M829.3 524.5h8.4m-4.2-4.2v8.4"/>
<path d="M533 524.4V89" stroke-width="2.08" stroke-dasharray="7.71 3.33"/>
<path d="M528.8 520.5l8.34 8.34m0-8.34l-8.34 8.34"/>
<path d="M528.8 84.8l8.34 8.34m0-8.34l-8.34 8.34"/>
</g>
<g stroke="#2ca02c" stroke-opacity=".8" stroke-width="1.39">
<path d="M65.3 524.5h8.4m-4.2-4.2v8.4"/><path d="M65.3 524.5h8.4m-4.2-4.2v8.4"/><path d="M66.3 524.5h8.4m-4.2-4.2v8.4"/><path d="M67.3 524.5h8.4m-4.2-4.2v8.4"/><path d="M67.3 524.5h8.4m-4.2-4.2v8.4"/><path d="M68.3 524.5h8.4m-4.2-4.2v8.4"/><path d="M69.3 524.5h8.4m-4.2-4.2v8.4"/><path d="M70.3 524.5h8.4m-4.2-4.2v8.4"/><path d="M70.3 524.5h8.4m-4.2-4.2v8.4"/><path d="M71.3 524.5h8.4m-4.2-4.2v8.4"/><path d="M72.3 524.5h8.4m-4.2-4.2v8.4"/><path d="M73.3 524.5h8.4m-4.2-4.2v8.4"/><path d="M73.3 524.5h8.4m-4.2-4.2v8.4"/><path d="M74.3 524.5h8.4m-4.2-4.2v8.4"/><path d="M75.3 524.5h8.4m-4.2-4.2v8.4"/><path d="M76.3 524.5h8.4m-4.2-4.2v8.4"/><path d="M76.3 524.5h8.4m-4.2-4.2v8.4"/><path d="M77.3 524.5h8.4m-4.2-4.2v8.4"/><path d="M78.3 524.5h8.4m-4.2-4.2v8.4"/><path d="M78.3 524.5h8.4m-4.2-4.2v8.4"/><path d="M79.3 524.5h8.4m-4.2-4.2v8.4"/><path d="M80.3 524.5h8.4m-4.2-4.2v8.4"/><path d="M81.3 524.5h8.4m-4.2-4.2v8.4"/><path d="M81.3 524.5h8.4m-4.2-4.2v8.4"/><path d="M82.3 524.5h8.4m-4.2-4.2v8.4"/><path d="M83.3 524.5h8.4m-4.2-4.2v8.4"/><path d="M84.3 524.5h8.4m-4.2-4.2v8.4"/><path d="M84.3 524.5h8.4m-4.2-4.2v8.4"/><path d="M85.3 524.5h8.4m-4.2-4.2v8.4"/><path d="M86.3 524.5h8.4m-4.2-4.2v8.4"/><path d="M87.3 524.5h8.4m-4.2-4.2v8.4"/><path d="M87.3 524.5h8.4m-4.2-4.2v8.4"/><path d="M88.3 524.5h8.4m-4.2-4.2v8.4"/><path d="M89.3 524.5h8.4m-4.2-4.2v8.4"/><path d="M90.3 524.5h8.4m-4.2-4.2v8.4"/><path d="M90.3 524.5h8.4m-4.2-4.2v8.4"/><path d="M91.3 524.5h8.4m-4.2-4.2v8.4"/><path d="M92.3 524.5h8.4m-4.2-4.2v8.4"/><path d="M92.3 524.5h8.4m-4.2-4.2v8.4"/><path d="M93.3 524.5h8.4m-4.2-4.2v8.4"/><path d="M94.3 524.5h8.4m-4.2-4.2v8.4"/><path d="M95.3 524.5h8.4m-4.2-4.2v8.4"/><path d="M95.3 524.5h8.4m-4.2-4.2v8.4"/><path d="M96.3 524.5h8.4m-4.2-4.2v8.4"/><path d="M97.3 524.5h8.4m-4.2-4.2v8.4"/><path d="M98.3 524.5h8.4m-4.2-4.2v8.4"/><path d="M98.3 524.5h8.4m-4.2-4.2v8.4"/><path d="M99.3 524.5h8.4m-4.2-4.2v8.4"/><path d="M100.3 524.5h8.4m-4.2-4.2v8.4"/><path d="M101.3 524.5h8.4m-4.2-4.2v8.4"/><path d="M101.3 524.5h8.4m-4.2-4.2v8.4"/><path d="M102.3 524.5h8.4m-4.2-4.2v8.4"/><path d="M103.3 524.5h8.4m-4.2-4.2v8.4"/><path d="M103.3 524.5h8.4m-4.2-4.2v8.4"/><path d="M104.3 524.5h8.4m-4.2-4.2v8.4"/><path d="M105.3 524.5h8.4m-4.2-4.2v8.4"/><path d="M106.3 524.5h8.4m-4.2-4.2v8.4"/><path d="M106.3 524.5h8.4m-4.2-4.2v8.4"/><path d="M107.3 524.5h8.4m-4.2-4.2v8.4"/><path d="M108.3 524.5h8.4m-4.2-4.2v8.4"/><path d="M109.3 524.5h8.4m-4.2-4.2v8.4"/><path d="M109.3 524.5h8.4m-4.2-4.2v8.4"/><path d="M110.3 524.5h8.4m-4.2-4.2v8.4"/><path d="M111.3 524.5h8.4m-4.2-4.2v8.4"/><path d="M112.3 524.5h8.4m-4.2-4.2v8.4"/><path d="M112.3 524.5h8.4m-4.2-4.2v8.4"/><path d="M113.3 524.5h8.4m-4.2-4.2v8.4"/><path d="M114.3 524.5h8.4m-4.2-4.2v8.4"/><path d="M115.3 524.5h8.4m-4.2-4.2v8.4"/><path d="M115.3 524.5h8.4m-4.2-4.2v8.4"/><path d="M116.3 524.5h8.4m-4.2-4.2v8.4"/><path d="M117.3 524.5h8.4m-4.2-4.2v8.4"/><path d="M117.3 524.5h8.4m-4.2-4.2v8.4"/><path d="M118.3 524.5h8.4m-4.2-4.2v8.4"/><path d="M119.3 524.5h8.4m-4.2-4.2v8.4"/><path d="M120.3 524.5h8.4m-4.2-4.2v8.4"/><path d="M120.3 524.5h8.4m-4.2-4.2v8.4"/><path d="M121.3 524.5h8.4m-4.2-4.2v8.4"/><path d="M122.3 524.5h8.4m-4.2-4.2v8.4"/><path d="M123.3 524.5h8.4m-4.2-4.2v8.4"/><path d="M123.3 524.5h8.4m-4.2-4.2v8.4"/><path d="M124.3 524.5h8.4m-4.2-4.2v8.4"/><path d="M125.3 524.5h8.4m-4.2-4.2v8.4"/><path d="M126.3 524.5h8.4m-4.2-4.2v8.4"/><path d="M126.3 524.5h8.4m-4.2-4.2v8.4"/><path d="M127.3 524.5h8.4m-4.2-4.2v8.4"/><path d="M128.3 524.5h8.4m-4.2-4.2v8.4"/><path d="M128.3 524.5h8.4m-4.2-4.2v8.4"/><path d="M129.3 524.5h8.4m-4.2-4.2v8.4"/><path d="M130.3 524.5h8.4m-4.2-4.2v8.4"/><path d="M131.3 524.5h8.4m-4.2-4.2v8.4"/><path d="M131.3 524.5h8.4m-4.2-4.2v8.4"/><path d="M132.3 524.5h8.4m-4.2-4.2v8.4"/><path d="M133.3 524.5h8.4m-4.2-4.2v8.4"/><path d="M134.3 524.5h8.4m-4.2-4.2v8.4"/><path d="M134.3 524.5h8.4m-4.2-4.2v8.4"/><path d="M135.3 524.5h8.4m-4.2-4.2v8.4"/><path d="M136.3 524.5h8.4m-4.2-4.2v8.4"/><path d="M137.3 524.5h8.4m-4.2-4.2v8.4"/><path d="M137.3 524.5h8.4m-4.2-4.2v8.4"/><path d="M138.3 524.5h8.4m-4.2-4.2v8.4"/><path d="M139.3 524.5h8.4m-4.2-4.2v8.4"/><path d="M140.3 524.5h8.4m-4.2-4.2v8.4"/><path d="M140.3 524.5h8.4m-4.2-4.2v8.4"/><path d="M141.3 524.5h8.4m-4.2-4.2v8.4"/><path d="M142.3 524.5h8.4m-4.2-4.2v8.4"/><path d="M142.3 524.5h8.4m-4.2-4.2v8.4"/><path d="M143.3 524.5h8.4m-4.2-4.2v8.4"/><path d="M144.3 524.5h8.4m-4.2-4.2v8.4"/><path d="M145.3 524.5h8.4m-4.2-4.2v8.4"/><path d="M145.3 524.5h8.4m-4.2-4.2v8.4"/><path d="M146.3 524.5h8.4m-4.2-4.2v8.4"/><path d="M147.3 524.5h8.4m-4.2-4.2v8.4"/><path d="M148.3 524.5h8.4m-4.2-4.2v8.4"/><path d="M148.3 524.5h8.4m-4.2-4.2v8.4"/><path d="M149.3 524.5h8.4m-4.2-4.2v8.4"/><path d="M150.3 524.5h8.4m-4.2-4.2v8.4"/><path d="M151.3 524.5h8.4m-4.2-4.2v8.4"/><path d="M151.3 524.5h8.4m-4.2-4.2v8.4"/><path d="M152.3 524.5h8.4m-4.2-4.2v8.4"/><path d="M153.3 524.5h8.4m-4.2-4.2v8.4"/><path d="M153.3 524.5h8.4m-4.2-4.2v8.4"/><path d="M154.3 524.5h8.4m-4.2-4.2v8.4"/><path d="M155.3 524.5h8.4m-4.2-4.2v8.4"/><path d="M156.3 524.5h8.4m-4.2-4.2v8.4"/><path d="M156.3 524.5h8.4m-4.2-4.2v8.4"/><path d="M157.3 524.5h8.4m-4.2-4.2v8.4"/><path d="M158.3 524.5h8.4m-4.2-4.2v8.4"/><path d="M159.3 524.5h8.4m-4.2-4.2v8.4"/><path d="M159.3 524.5h8.4m-4.2-4.2v8.4"/><path d="M160.3 524.5h8.4m-4.2-4.2v8.4"/><path d="M161.3 524.5h8.4m-4.2-4.2v8.4"/><path d="M162.3 524.5h8.4m-4.2-4.2v8.4"/><path d="M162.3 524.5h8.4m-4.2-4.2v8.4"/><path d="M163.3 524.5h8.4m-4.2-4.2v8.4"/><path d="M164.3 524.5h8.4m-4.2-4.2v8.4"/><path d="M165.3 524.5h8.4m-4.2-4.2v8.4"/><path d="M165.3 524.5h8.4m-4.2-4.2v8.4"/><path d="M166.3 524.5h8.4m-4.2-4.2v8.4"/><path d="M167.3 524.5h8.4m-4.2-4.2v8.4"/><path d="M167.3 524.5h8.4m-4.2-4.2v8.4"/><path d="M168.3 524.5h8.4m-4.2-4.2v8.4"/><path d="M169.3 524.5h8.4m-4.2-4.2v8.4"/><path d="M170.3 524.5h8.4m-4.2-4.2v8.4"/><path d="M170.3 524.5h8.4m-4.2-4.2v8.4"/><path d="M171.3 524.5h8.4m-4.2-4.2v8.4"/><path d="M172.3 524.5h8.4m-4.2-4.2v8.4"/><path d="M173.3 524.5h8.4m-4.2-4.2v8.4"/><path d="M173.3 524.5h8.4m-4.2-4.2v8.4"/><path d="M174.3 524.5h8.4m-4.2-4.2v8.4"/><path d="M175.3 524.5h8.4m-4.2-4.2v8.4"/><path d="M176.3 524.5h8.4m-4.2-4.2v8.4"/><path d="M176.3 524.5h8.4m-4.2-4.2v8.4"/><path d="M177.3 524.5h8.4m-4.2-4.2v8.4"/><path d="M178.3 524.5h8.4m-4.2-4.2v8.4"/><path d="M178.3 524.5h8.4m-4.2-4.2v8.4"/><path d="M179.3 524.5h8.4m-4.2-4.2v8.4"/><path d="M180.3 524.5h8.4m-4.2-4.2v8.4"/><path d="M181.3 524.5h8.4m-4.2-4.2v8.4"/><path d="M181.3 524.5h8.4m-4.2-4.2v8.4"/><path d="M182.3 524.5h8.4m-4.2-4.2v8.4"/><path d="M183.3 524.5h8.4m-4.2-4.2v8.4"/><path d="M184.3 524.5h8.4m-4.2-4.2v8.4"/><path d="M184.3 524.5h8.4m-4.2-4.2v8.4"/><path d="M185.3 524.5h8.4m-4.2-4.2v8.4"/><path d="M186.3 524.5h8.4m-4.2-4.2v8.4"/><path d="M187.3 524.5h8.4m-4.2-4.2v8.4"/><path d="M187.3 524.5h8.4m-4.2-4.2v8.4"/><path d="M188.3 524.5h8.4m-4.2-4.2v8.4"/><path d="M189.3 524.5h8.4m-4.2-4.2v8.4"/><path d="M190.3 524.5h8.4m-4.2-4.2v8.4"/><path d="M190.3 524.5h8.4m-4.2-4.2v8.4"/><path d="M191.3 524.5h8.4m-4.2-4.2v8.4"/><path d="M192.3 524.5h8.4m-4.2-4.2v8.4"/><path d="M192.3 524.5h8.4m-4.2-4.2v8.4"/><path d="M193.3 524.5h8.4m-4.2-4.2v8.4"/><path d="M194.3 524.5h8.4m-4.2-4.2v8.4"/><path d="M195.3 524.5h8.4m-4.2-4.2v8.4"/><path d="M195.3 524.5h8.4m-4.2-4.2v8.4"/><path d="M196.3 524.5h8.4m-4.2-4.2v8.4"/><path d="M197.3 524.5h8.4m-4.2-4.2v8.4"/><path d="M198.3 524.5h8.4m-4.2-4.2v8.4"/><path d="M198.3 524.5h8.4m-4.2-4.2v8.4"/><path d="M199.3 524.5h8.4m-4.2-4.2v8.4"/><path d="M200.3 524.5h8.4m-4.2-4.2v8.4"/><path d="M201.3 524.5h8.4m-4.2-4.2v8.4"/><path d="M201.3 524.5h8.4m-4.2-4.2v8.4"/><path d="M202.3 524.5h8.4m-4.2-4.2v8.4"/><path d="M203.3 524.5h8.4m-4.2-4.2v8.4"/><path d="M203.3 524.5h8.4m-4.2-4.2v8.4"/><path d="M204.3 524.5h8.4m-4.2-4.2v8.4"/><path d="M205.3 524.5h8.4m-4.2-4.2v8.4"/><path d="M206.3 524.5h8.4m-4.2-4.2v8.4"/><path d="M206.3 524.5h8.4m-4.2-4.2v8.4"/><path d="M207.3 524.5h8.4m-4.2-4.2v8.4"/><path d="M208.3 524.5h8.4m-4.2-4.2v8.4"/><path d="M209.3 524.5h8.4m-4.2-4.2v8.4"/><path d="M209.3 524.5h8.4m-4.2-4.2v8.4"/><path d="M210.3 524.5h8.4m-4.2-4.2v8.4"/><path d="M211.3 524.5h8.4m-4.2-4.2v8.4"/><path d="M212.3 524.5h8.4m-4.2-4.2v8.4"/><path d="M212.3 524.5h8.4m-4.2-4.2v8.4"/><path d="M213.3 524.5h8.4m-4.2-4.2v8.4"/><path d="M214.3 524.5h8.4m-4.2-4.2v8.4"/><path d="M215.3 524.5h8.4m-4.2-4.2v8.4"/><path d="M215.3 524.5h8.4m-4.2-4.2v8.4"/><path d="M216.3 524.5h8.4m-4.2-4.2v8.4"/><path d="M217.3 524.5h8.4m-4.2-4.2v8.4"/><path d="M217.3 524.5h8.4m-4.2-4.2v8.4"/><path d="M218.3 524.5h8.4m-4.2-4.2v8.4"/><path d="M219.3 524.5h8.4m-4.2-4.2v8.4"/><path d="M220.3 524.5h8.4m-4.2-4.2v8.4"/><path d="M220.3 524.5h8.4m-4.2-4.2v8.4"/><path d="M221.3 524.5h8.4m-4.2-4.2v8.4"/><path d="M222.3 524.5h8.4m-4.2-4.2v8.4"/><path d="M223.3 524.5h8.4m-4.2-4.2v8.4"/><path d="M223.3 524.5h8.4m-4.2-4.2v8.4"/><path d="M224.3 524.5h8.4m-4.2-4.2v8.4"/><path d="M225.3 524.5h8.4m-4.2-4.2v8.4"/><path d="M226.3 524.5h8.4m-4.2-4.2v8.4"/><path d="M226.3 524.5h8.4m-4.2-4.2v8.4"/><path d="M227.3 524.5h8.4m-4.2-4.2v8.4"/><path d="M228.3 524.5h8.4m-4.2-4.2v8.4"/><path d="M228.3 524.5h8.4m-4.2-4.2v8.4"/><path d="M229.3 524.5h8.4m-4.2-4.2v8.4"/><path d="M230.3 524.5h8.4m-4.2-4.2v8.4"/><path d="M231.3 524.5h8.4m-4.2-4.2v8.4"/><path d="M231.3 524.5h8.4m-4.2-4.2v8.4"/><path d="M232.3 524.5h8.4m-4.2-4.2v8.4"/><path d="M233.3 524.5h8.4m-4.2-4.2v8.4"/><path d="M234.3 524.5h8.4m-4.2-4.2v8.4"/><path d="M234.3 524.5h8.4m-4.2-4.2v8.4"/><path d="M235.3 524.5h8.4m-4.2-4.2v8.4"/><path d="M236.3 524.5h8.4m-4.2-4.2v8.4"/><path d="M237.3 524.5h8.4m-4.2-4.2v8.4"/><path d="M237.3 524.5h8.4m-4.2-4.2v8.4"/><path d="M238.3 524.5h8.4m-4.2-4.2v8.4"/><path d="M239.3 524.5h8.4m-4.2-4.2v8.4"/><path d="M240.3 524.5h8.4m-4.2-4.2v8.4"/><path d="M240.3 524.5h8.4m-4.2-4.2v8.4"/><path d="M241.3 524.5h8.4m-4.2-4.2v8.4"/><path d="M242.3 524.5h8.4m-4.2-4.2v8.4"/><path d="M242.3 524.5h8.4m-4.2-4.2v8.4"/><path d="M243.3 524.5h8.4m-4.2-4.2v8.4"/><path d="M244.3 524.5h8.4m-4.2-4.2v8.4"/><path d="M245.3 524.5h8.4m-4.2-4.2v8.4"/><path d="M245.3 524.5h8.4m-4.2-4.2v8.4"/><path d="M246.3 524.5h8.4m-4.2-4.2v8.4"/><path d="M247.3 524.5h8.4m-4.2-4.2v8.4"/><path d="M248.3 524.5h8.4m-4.2-4.2v8.4"/><path d="M248.3 524.5h8.4m-4.2-4.2v8.4"/><path d="M249.3 524.5h8.4m-4.2-4.2v8.4"/><path d="M250.3 524.5h8.4m-4.2-4.2v8.4"/><path d="M251.3 524.5h8.4m-4.2-4.2v8.4"/><path d="M251.3 524.5h8.4m-4.2-4.2v8.4"/><path d="M252.3 524.5h8.4m-4.2-4.2v8.4"/><path d="M253.3 524.5h8.4m-4.2-4.2v8.4"/><path d="M253.3 524.5h8.4m-4.2-4.2v8.4"/><path d="M254.3 524.5h8.4m-4.2-4.2v8.4"/><path d="M255.3 524.5h8.4m-4.2-4.2v8.4"/><path d="M256.3 524.5h8.4m-4.2-4.2v8.4"/><path d="M256.3 524.5h8.4m-4.2-4.2v8.4"/><path d="M257.3 524.5h8.4m-4.2-4.2v8.4"/><path d="M258.3 524.5h8.4m-4.2-4.2v8.4"/><path d="M259.3 524.5h8.4m-4.2-4.2v8.4"/><path d="M259.3 524.5h8.4m-4.2-4.2v8.4"/><path d="M260.3 524.5h8.4m-4.2-4.2v8.4"/><path d="M261.3 524.5h8.4m-4.2-4.2v8.4"/><path d="M262.3 524.5h8.4m-4.2-4.2v8.4"/><path d="M262.3 524.5h8.4m-4.2-4.2v8.4"/><path d="M263.3 524.5h8.4m-4.2-4.2v8.4"/><path d="M264.3 524.5h8.4m-4.2-4.2v8.4"/><path d="M265.3 523.5h8.4m-4.2-4.2v8.4"/><path d="M265.3 524.5h8.4m-4.2-4.2v8.4"/><path d="M266.3 523.5h8.4m-4.2-4.2v8.4"/><path d="M267.3 524.5h8.4m-4.2-4.2v8.4"/><path d="M267.3 524.5h8.4m-4.2-4.2v8.4"/><path d="M268.3 524.5h8.4m-4.2-4.2v8.4"/><path d="M269.3 524.5h8.4m-4.2-4.2v8.4"/><path d="M270.3 524.5h8.4m-4.2-4.2v8.4"/><path d="M270.3 524.5h8.4m-4.2-4.2v8.4"/><path d="M271.3 523.5h8.4m-4.2-4.2v8.4"/><path d="M272.3 524.5h8.4m-4.2-4.2v8.4"/><path d="M273.3 524.5h8.4m-4.2-4.2v8.4"/><path d="M273.3 524.5h8.4m-4.2-4.2v8.4"/><path d="M274.3 524.5h8.4m-4.2-4.2v8.4"/><path d="M275.3 524.5h8.4m-4.2-4.2v8.4"/><path d="M276.3 524.5h8.4m-4.2-4.2v8.4"/><path d="M276.3 524.5h8.4m-4.2-4.2v8.4"/><path d="M277.3 524.5h8.4m-4.2-4.2v8.4"/><path d="M278.3 524.5h8.4m-4.2-4.2v8.4"/><path d="M278.3 524.5h8.4m-4.2-4.2v8.4"/><path d="M279.3 524.5h8.4m-4.2-4.2v8.4"/><path d="M280.3 524.5h8.4m-4.2-4.2v8.4"/><path d="M281.3 524.5h8.4m-4.2-4.2v8.4"/><path d="M281.3 523.5h8.4m-4.2-4.2v8.4"/><path d="M282.3 524.5h8.4m-4.2-4.2v8.4"/><path d="M283.3 524.5h8.4m-4.2-4.2v8.4"/><path d="M284.3 524.5h8.4m-4.2-4.2v8.4"/><path d="M284.3 524.5h8.4m-4.2-4.2v8.4"/><path d="M285.3 523.5h8.4m-4.2-4.2v8.4"/><path d="M286.3 524.5h8.4m-4.2-4.2v8.4"/><path d="M287.3 524.5h8.4m-4.2-4.2v8.4"/><path d="M287.3 524.5h8.4m-4.2-4.2v8.4"/><path d="M288.3 524.5h8.4m-4.2-4.2v8.4"/><path d="M289.3 524.5h8.4m-4.2-4.2v8.4"/><path d="M290.3 524.5h8.4m-4.2-4.2v8.4"/><path d="M290.3 524.5h8.4m-4.2-4.2v8.4"/><path d="M291.3 524.5h8.4m-4.2-4.2v8.4"/><path d="M292.3 524.5h8.4m-4.2-4.2v8.4"/><path d="M292.3 524.5h8.4m-4.2-4.2v8.4"/><path d="M293.3 524.5h8.4m-4.2-4.2v8.4"/><path d="M294.3 524.5h8.4m-4.2-4.2v8.4"/><path d="M295.3 524.5h8.4m-4.2-4.2v8.4"/><path d="M295.3 523.5h8.4m-4.2-4.2v8.4"/><path d="M296.3 523.5h8.4m-4.2-4.2v8.4"/><path d="M297.3 524.5h8.4m-4.2-4.2v8.4"/><path d="M298.3 523.5h8.4m-4.2-4.2v8.4"/><path d="M298.3 524.5h8.4m-4.2-4.2v8.4"/><path d="M299.3 524.5h8.4m-4.2-4.2v8.4"/><path d="M300.3 523.5h8.4m-4.2-4.2v8.4"/><path d="M301.3 524.5h8.4m-4.2-4.2v8.4"/><path d="M301.3 524.5h8.4m-4.2-4.2v8.4"/><path d="M302.3 524.5h8.4m-4.2-4.2v8.4"/><path d="M303.3 524.5h8.4m-4.2-4.2v8.4"/><path d="M303.3 524.5h8.4m-4.2-4.2v8.4"/><path d="M304.3 524.5h8.4m-4.2-4.2v8.4"/><path d="M305.3 524.5h8.4m-4.2-4.2v8.4"/><path d="M306.3 524.5h8.4m-4.2-4.2v8.4"/><path d="M306.3 524.5h8.4m-4.2-4.2v8.4"/><path d="M307.3 524.5h8.4m-4.2-4.2v8.4"/><path d="M308.3 524.5h8.4m-4.2-4.2v8.4"/><path d="M309.3 523.5h8.4m-4.2-4.2v8.4"/><path d="M309.3 524.5h8.4m-4.2-4.2v8.4"/><path d="M310.3 524.5h8.4m-4.2-4.2v8.4"/><path d="M311.3 524.5h8.4m-4.2-4.2v8.4"/><path d="M312.3 524.5h8.4m-4.2-4.2v8.4"/><path d="M312.3 524.5h8.4m-4.2-4.2v8.4"/><path d="M313.3 524.5h8.4m-4.2-4.2v8.4"/><path d="M314.3 524.5h8.4m-4.2-4.2v8.4"/><path d="M315.3 523.5h8.4m-4.2-4.2v8.4"/><path d="M315.3 524.5h8.4m-4.2-4.2v8.4"/><path d="M316.3 523.5h8.4m-4.2-4.2v8.4"/><path d="M317.3 524.5h8.4m-4.2-4.2v8.4"/><path d="M317.3 524.5h8.4m-4.2-4.2v8.4"/><path d="M318.3 523.5h8.4m-4.2-4.2v8.4"/><path d="M319.3 524.5h8.4m-4.2-4.2v8.4"/><path d="M320.3 523.5h8.4m-4.2-4.2v8.4"/><path d="M320.3 524.5h8.4m-4.2-4.2v8.4"/><path d="M321.3 524.5h8.4m-4.2-4.2v8.4"/><path d="M322.3 524.5h8.4m-4.2-4.2v8.4"/><path d="M323.3 524.5h8.4m-4.2-4.2v8.4"/><path d="M323.3 523.5h8.4m-4.2-4.2v8.4"/><path d="M324.3 524.5h8.4m-4.2-4.2v8.4"/><path d="M325.3 524.5h8.4m-4.2-4.2v8.4"/><path d="M326.3 524.5h8.4m-4.2-4.2v8.4"/><path d="M326.3 524.5h8.4m-4.2-4.2v8.4"/><path d="M327.3 523.5h8.4m-4.2-4.2v8.4"/><path d="M328.3 524.5h8.4m-4.2-4.2v8.4"/><path d="M328.3 524.5h8.4m-4.2-4.2v8.4"/><path d="M329.3 523.5h8.4m-4.2-4.2v8.4"/><path d="M330.3 524.5h8.4m-4.2-4.2v8.4"/><path d="M331.3 524.5h8.4m-4.2-4.2v8.4"/><path d="M331.3 524.5h8.4m-4.2-4.2v8.4"/><path d="M332.3 523.5h8.4m-4.2-4.2v8.4"/><path d="M333.3 523.5h8.4m-4.2-4.2v8.4"/><path d="M334.3 524.5h8.4m-4.2-4.2v8.4"/><path d="M334.3 523.5h8.4m-4.2-4.2v8.4"/><path d="M335.3 524.5h8.4m-4.2-4.2v8.4"/><path d="M336.3 523.5h8.4m-4.2-4.2v8.4"/><path d="M337.3 523.5h8.4m-4.2-4.2v8.4"/><path d="M337.3 524.5h8.4m-4.2-4.2v8.4"/><path d="M338.3 523.5h8.4m-4.2-4.2v8.4"/><path d="M339.3 524.5h8.4m-4.2-4.2v8.4"/><path d="M340.3 523.5h8.4m-4.2-4.2v8.4"/><path d="M340.3 524.5h8.4m-4.2-4.2v8.4"/><path d="M341.3 524.5h8.4m-4.2-4.2v8.4"/><path d="M342.3 524.5h8.4m-4.2-4.2v8.4"/><path d="M342.3 524.5h8.4m-4.2-4.2v8.4"/><path d="M343.3 524.5h8.4m-4.2-4.2v8.4"/><path d="M344.3 524.5h8.4m-4.2-4.2v8.4"/><path d="M345.3 523.5h8.4m-4.2-4.2v8.4"/><path d="M345.3 524.5h8.4m-4.2-4.2v8.4"/><path d="M346.3 524.5h8.4m-4.2-4.2v8.4"/><path d="M347.3 523.5h8.4m-4.2-4.2v8.4"/><path d="M348.3 524.5h8.4m-4.2-4.2v8.4"/><path d="M348.3 524.5h8.4m-4.2-4.2v8.4"/><path d="M349.3 523.5h8.4m-4.2-4.2v8.4"/><path d="M350.3 523.5h8.4m-4.2-4.2v8.4"/><path d="M351.3 523.5h8.4m-4.2-4.2v8.4"/><path d="M351.3 524.5h8.4m-4.2-4.2v8.4"/><path d="M352.3 524.5h8.4m-4.2-4.2v8.4"/><path d="M353.3 523.5h8.4m-4.2-4.2v8.4"/><path d="M353.3 523.5h8.4m-4.2-4.2v8.4"/><path d="M354.3 524.5h8.4m-4.2-4.2v8.4"/><path d="M355.3 524.5h8.4m-4.2-4.2v8.4"/><path d="M356.3 524.5h8.4m-4.2-4.2v8.4"/><path d="M356.3 524.5h8.4m-4.2-4.2v8.4"/><path d="M357.3 523.5h8.4m-4.2-4.2v8.4"/><path d="M358.3 524.5h8.4m-4.2-4.2v8.4"/><path d="M359.3 523.5h8.4m-4.2-4.2v8.4"/><path d="M359.3 523.5h8.4m-4.2-4.2v8.4"/><path d="M360.3 524.5h8.4m-4.2-4.2v8.4"/><path d="M361.3 524.5h8.4m-4.2-4.2v8.4"/><path d="M362.3 524.5h8.4m-4.2-4.2v8.4"/><path d="M362.3 522.5h8.4m-4.2-4.2v8.4"/><path d="M363.3 523.5h8.4m-4.2-4.2v8.4"/><path d="M364.3 523.5h8.4m-4.2-4.2v8.4"/><path d="M365.3 523.5h8.4m-4.2-4.2v8.4"/><path d="M365.3 524.5h8.4m-4.2-4.2v8.4"/><path d="M366.3 524.5h8.4m-4.2-4.2v8.4"/><path d="M367.3 523.5h8.4m-4.2-4.2v8.4"/><path d="M367.3 524.5h8.4m-4.2-4.2v8.4"/><path d="M368.3 523.5h8.4m-4.2-4.2v8.4"/><path d="M369.3 523.5h8.4m-4.2-4.2v8.4"/><path d="M370.3 524.5h8.4m-4.2-4.2v8.4"/><path d="M370.3 523.5h8.4m-4.2-4.2v8.4"/><path d="M371.3 524.5h8.4m-4.2-4.2v8.4"/><path d="M372.3 524.5h8.4m-4.2-4.2v8.4"/><path d="M373.3 523.5h8.4m-4.2-4.2v8.4"/><path d="M373.3 523.5h8.4m-4.2-4.2v8.4"/><path d="M374.3 524.5h8.4m-4.2-4.2v8.4"/><path d="M375.3 524.5h8.4m-4.2-4.2v8.4"/><path d="M376.3 523.5h8.4m-4.2-4.2v8.4"/><path d="M376.3 523.5h8.4m-4.2-4.2v8.4"/><path d="M377.3 523.5h8.4m-4.2-4.2v8.4"/><path d="M378.3 524.5h8.4m-4.2-4.2v8.4"/><path d="M378.3 523.5h8.4m-4.2-4.2v8.4"/><path d="M379.3 523.5h8.4m-4.2-4.2v8.4"/><path d="M380.3 524.5h8.4m-4.2-4.2v8.4"/><path d="M381.3 523.5h8.4m-4.2-4.2v8.4"/><path d="M381.3 523.5h8.4m-4.2-4.2v8.4"/><path d="M382.3 524.5h8.4m-4.2-4.2v8.4"/><path d="M383.3 523.5h8.4m-4.2-4.2v8.4"/><path d="M384.3 523.5h8.4m-4.2-4.2v8.4"/><path d="M384.3 524.5h8.4m-4.2-4.2v8.4"/><path d="M385.3 523.5h8.4m-4.2-4.2v8.4"/><path d="M386.3 523.5h8.4m-4.2-4.2v8.4"/><path d="M387.3 524.5h8.4m-4.2-4.2v8.4"/><path d="M387.3 524.5h8.4m-4.2-4.2v8.4"/><path d="M388.3 524.5h8.4m-4.2-4.2v8.4"/><path d="M389.3 523.5h8.4m-4.2-4.2v8.4"/><path d="M390.3 523.5h8.4m-4.2-4.2v8.4"/><path d="M390.3 524.5h8.4m-4.2-4.2v8.4"/><path d="M391.3 524.5h8.4m-4.2-4.2v8.4"/><path d="M392.3 523.5h8.4m-4.2-4.2v8.4"/><path d="M392.3 524.5h8.4m-4.2-4.2v8.4"/><path d="M393.3 524.5h8.4m-4.2-4.2v8.4"/><path d="M394.3 523.5h8.4m-4.2-4.2v8.4"/><path d="M395.3 522.5h8.4m-4.2-4.2v8.4"/><path d="M395.3 524.5h8.4m-4.2-4.2v8.4"/><path d="M396.3 523.5h8.4m-4.2-4.2v8.4"/><path d="M397.3 523.5h8.4m-4.2-4.2v8.4"/><path d="M398.3 524.5h8.4m-4.2-4.2v8.4"/><path d="M398.3 523.5h8.4m-4.2-4.2v8.4"/><path d="M399.3 523.5h8.4m-4.2-4.2v8.4"/><path d="M400.3 523.5h8.4m-4.2-4.2v8.4"/><path d="M401.3 523.5h8.4m-4.2-4.2v8.4"/><path d="M401.3 523.5h8.4m-4.2-4.2v8.4"/><path d="M402.3 522.5h8.4m-4.2-4.2v8.4"/><path d="M403.3 523.5h8.4m-4.2-4.2v8.4"/><path d="M403.3 523.5h8.4m-4.2-4.2v8.4"/><path d="M404.3 523.5h8.4m-4.2-4.2v8.4"/><path d="M405.3 522.5h8.4m-4.2-4.2v8.4"/><path d="M406.3 523.5h8.4m-4.2-4.2v8.4"/><path d="M406.3 522.5h8.4m-4.2-4.2v8.4"/><path d="M407.3 524.5h8.4m-4.2-4.2v8.4"/><path d="M408.3 523.5h8.4m-4.2-4.2v8.4"/><path d="M409.3 523.5h8.4m-4.2-4.2v8.4"/><path d="M409.3 523.5h8.4m-4.2-4.2v8.4"/><path d="M410.3 523.5h8.4m-4.2-4.2v8.4"/><path d="M411.3 523.5h8.4m-4.2-4.2v8.4"/><path d="M412.3 523.5h8.4m-4.2-4.2v8.4"/><path d="M412.3 523.5h8.4m-4.2-4.2v8.4"/><path d="M413.3 522.5h8.4m-4.2-4.2v8.4"/><path d="M414.3 523.5h8.4m-4.2-4.2v8.4"/><path d="M415.3 524.5h8.4m-4.2-4.2v8.4"/><path d="M415.3 521.5h8.4m-4.2-4.2v8.4"/><path d="M416.3 523.5h8.4m-4.2-4.2v8.4"/><path d="M417.3 522.5h8.4m-4.2-4.2v8.4"/><path d="M417.3 523.5h8.4m-4.2-4.2v8.4"/><path d="M418.3 523.5h8.4m-4.2-4.2v8.4"/><path d="M419.3 523.5h8.4m-4.2-4.2v8.4"/><path d="M420.3 523.5h8.4m-4.2-4.2v8.4"/><path d="M420.3 522.5h8.4m-4.2-4.2v8.4"/><path d="M421.3 522.5h8.4m-4.2-4.2v8.4"/><path d="M422.3 522.5h8.4m-4.2-4.2v8.4"/><path d="M423.3 522.5h8.4m-4.2-4.2v8.4"/><path d="M423.3 522.5h8.4m-4.2-4.2v8.4"/><path d="M424.3 522.5h8.4m-4.2-4.2v8.4"/><path d="M425.3 522.5h8.4m-4.2-4.2v8.4"/><path d="M426.3 522.5h8.4m-4.2-4.2v8.4"/><path d="M426.3 522.5h8.4m-4.2-4.2v8.4"/><path d="M427.3 522.5h8.4m-4.2-4.2v8.4"/><path d="M428.3 521.5h8.4m-4.2-4.2v8.4"/><path d="M428.3 522.5h8.4m-4.2-4.2v8.4"/><path d="M429.3 521.5h8.4m-4.2-4.2v8.4"/><path d="M430.3 522.5h8.4m-4.2-4.2v8.4"/><path d="M431.3 522.5h8.4m-4.2-4.2v8.4"/><path d="M431.3 521.5h8.4m-4.2-4.2v8.4"/><path d="M432.3 521.5h8.4m-4.2-4.2v8.4"/><path d="M433.3 521.5h8.4m-4.2-4.2v8.4"/><path d="M434.3 522.5h8.4m-4.2-4.2v8.4"/><path d="M434.3 522.5h8.4m-4.2-4.2v8.4"/><path d="M435.3 521.5h8.4m-4.2-4.2v8.4"/><path d="M436.3 522.5h8.4m-4.2-4.2v8.4"/><path d="M437.3 519.5h8.4m-4.2-4.2v8.4"/><path d="M437.3 519.5h8.4m-4.2-4.2v8.4"/><path d="M438.3 519.5h8.4m-4.2-4.2v8.4"/><path d="M439.3 520.5h8.4m-4.2-4.2v8.4"/><path d="M440.3 520.5h8.4m-4.2-4.2v8.4"/><path d="M440.3 520.5h8.4m-4.2-4.2v8.4"/><path d="M441.3 519.5h8.4m-4.2-4.2v8.4"/><path d="M442.3 517.5h8.4m-4.2-4.2v8.4"/><path d="M442.3 519.5h8.4m-4.2-4.2v8.4"/><path d="M443.3 520.5h8.4m-4.2-4.2v8.4"/><path d="M444.3 516.5h8.4m-4.2-4.2v8.4"/><path d="M445.3 519.5h8.4m-4.2-4.2v8.4"/><path d="M445.3 517.5h8.4m-4.2-4.2v8.4"/><path d="M446.3 518.5h8.4m-4.2-4.2v8.4"/><path d="M447.3 516.5h8.4m-4.2-4.2v8.4"/><path d="M448.3 515.5h8.4m-4.2-4.2v8.4"/><path d="M448.3 516.5h8.4m-4.2-4.2v8.4"/><path d="M449.3 515.5h8.4m-4.2-4.2v8.4"/><path d="M450.3 514.5h8.4m-4.2-4.2v8.4"/><path d="M451.3 515.5h8.4m-4.2-4.2v8.4"/><path d="M451.3 513.5h8.4m-4.2-4.2v8.4"/><path d="M452.3 513.5h8.4m-4.2-4.2v8.4"/><path d="M453.3 511.5h8.4m-4.2-4.2v8.4"/><path d="M453.3 511.5h8.4m-4.2-4.2v8.4"/><path d="M454.3 508.5h8.4m-4.2-4.2v8.4"/><path d="M455.3 510.5h8.4m-4.2-4.2v8.4"/><path d="M456.3 509.5h8.4m-4.2-4.2v8.4"/><path d="M456.3 508.5h8.4m-4.2-4.2v8.4"/><path d="M457.3 511.5h8.4m-4.2-4.2v8.4"/><path d="M458.3 510.5h8.4m-4.2-4.2v8.4"/><path d="M459.3 505.5h8.4m-4.2-4.2v8.4"/><path d="M459.3 505.5h8.4m-4.2-4.2v8.4"/><path d="M460.3 504.5h8.4m-4.2-4.2v8.4"/><path d="M461.3 504.5h8.4m-4.2-4.2v8.4"/><path d="M462.3 504.5h8.4m-4.2-4.2v8.4"/><path d="M462.3 499.5h8.4m-4.2-4.2v8.4"/><path d="M463.3 500.5h8.4m-4.2-4.2v8.4"/><path d="M464.3 500.5h8.4m-4.2-4.2v8.4"/><path d="M465.3 495.5h8.4m-4.2-4.2v8.4"/><path d="M465.3 496.5h8.4m-4.2-4.2v8.4"/><path d="M466.3 496.5h8.4m-4.2-4.2v8.4"/><path d="M467.3 494.5h8.4m-4.2-4.2v8.4"/><path d="M467.3 492.5h8.4m-4.2-4.2v8.4"/><path d="M468.3 493.5h8.4m-4.2-4.2v8.4"/><path d="M469.3 488.5h8.4m-4.2-4.2v8.4"/><path d="M470.3 488.5h8.4m-4.2-4.2v8.4"/><path d="M470.3 480.5h8.4m-4.2-4.2v8.4"/><path d="M471.3 479.5h8.4m-4.2-4.2v8.4"/><path d="M472.3 476.5h8.4m-4.2-4.2v8.4"/><path d="M473.3 478.5h8.4m-4.2-4.2v8.4"/><path d="M473.3 470.5h8.4m-4.2-4.2v8.4"/><path d="M474.3 467.5h8.4m-4.2-4.2v8.4"/><path d="M475.3 468.5h8.4m-4.2-4.2v8.4"/><path d="M476.3 463.5h8.4m-4.2-4.2v8.4"/><path d="M476.3 468.5h8.4m-4.2-4.2v8.4"/><path d="M477.3 458.5h8.4m-4.2-4.2v8.4"/><path d="M478.3 461.5h8.4m-4.2-4.2v8.4"/><path d="M478.3 464.5h8.4m-4.2-4.2v8.4"/><path d="M479.3 455.5h8.4m-4.2-4.2v8.4"/><path d="M480.3 447.5h8.4m-4.2-4.2v8.4"/><path d="M481.3 452.5h8.4m-4.2-4.2v8.4"/><path d="M481.3 433.5h8.4m-4.2-4.2v8.4"/><path d="M482.3 446.5h8.4m-4.2-4.2v8.4"/><path d="M483.3 445.5h8.4m-4.2-4.2v8.4"/><path d="M484.3 427.5h8.4m-4.2-4.2v8.4"/><path d="M484.3 433.5h8.4m-4.2-4.2v8.4"/><path d="M485.3 419.5h8.4m-4.2-4.2v8.4"/><path d="M486.3 418.5h8.4m-4.2-4.2v8.4"/><path d="M487.3 412.5h8.4m-4.2-4.2v8.4"/><path d="M487.3 410.5h8.4m-4.2-4.2v8.4"/><path d="M488.3 398.5h8.4m-4.2-4.2v8.4"/><path d="M489.3 399.5h8.4m-4.2-4.2v8.4"/><path d="M490.3 399.5h8.4m-4.2-4.2v8.4"/><path d="M490.3 384.5h8.4m-4.2-4.2v8.4"/><path d="M491.3 383.5h8.4m-4.2-4.2v8.4"/><path d="M492.3 378.5h8.4m-4.2-4.2v8.4"/><path d="M492.3 376.5h8.4m-4.2-4.2v8.4"/><path d="M493.3 362.5h8.4m-4.2-4.2v8.4"/><path d="M494.3 361.5h8.4m-4.2-4.2v8.4"/><path d="M495.3 360.5h8.4m-4.2-4.2v8.4"/><path d="M495.3 349.5h8.4m-4.2-4.2v8.4"/><path d="M496.3 349.5h8.4m-4.2-4.2v8.4"/><path d="M497.3 340.5h8.4m-4.2-4.2v8.4"/><path d="M498.3 321.5h8.4m-4.2-4.2v8.4"/><path d="M498.3 316.5h8.4m-4.2-4.2v8.4"/><path d="M499.3 305.5h8.4m-4.2-4.2v8.4"/><path d="M500.3 306.5h8.4m-4.2-4.2v8.4"/><path d="M501.3 304.5h8.4m-4.2-4.2v8.4"/><path d="M501.3 289.5h8.4m-4.2-4.2v8.4"/><path d="M502.3 280.5h8.4m-4.2-4.2v8.4"/><path d="M503.3 290.5h8.4m-4.2-4.2v8.4"/><path d="M503.3 282.5h8.4m-4.2-4.2v8.4"/><path d="M504.3 271.5h8.4m-4.2-4.2v8.4"/><path d="M505.3 253.5h8.4m-4.2-4.2v8.4"/><path d="M506.3 256.5h8.4m-4.2-4.2v8.4"/><path d="M506.3 265.5h8.4m-4.2-4.2v8.4"/><path d="M507.3 249.5h8.4m-4.2-4.2v8.4"/><path d="M508.3 232.5h8.4m-4.2-4.2v8.4"/><path d="M509.3 227.5h8.4m-4.2-4.2v8.4"/><path d="M509.3 221.5h8.4m-4.2-4.2v8.4"/><path d="M510.3 217.5h8.4m-4.2-4.2v8.4"/><path d="M511.3 197.5h8.4m-4.2-4.2v8.4"/><path d="M512.3 211.5h8.4m-4.2-4.2v8.4"/><path d="M512.3 180.5h8.4m-4.2-4.2v8.4"/><path d="M513.3 178.5h8.4m-4.2-4.2v8.4"/><path d="M514.3 181.5h8.4m-4.2-4.2v8.4"/><path d="M515.3 162.5h8.4m-4.2-4.2v8.4"/><path d="M515.3 173.5h8.4m-4.2-4.2v8.4"/><path d="M516.3 145.5h8.4m-4.2-4.2v8.4"/><path d="M517.3 134.5h8.4m-4.2-4.2v8.4"/><path d="M517.3 133.5h8.4m-4.2-4.2v8.4"/><path d="M518.3 119.5h8.4m-4.2-4.2v8.4"/><path d="M519.3 112.5h8.4m-4.2-4.2v8.4"/><path d="M520.3 110.5h8.4m-4.2-4.2v8.4"/><path d="M520.3 93.5h8.4m-4.2-4.2v8.4"/><path d="M521.3 103.5h8.4m-4.2-4.2v8.4"/><path d="M522.3 120.5h8.4m-4.2-4.2v8.4"/><path d="M523.3 115.5h8.4m-4.2-4.2v8.4"/><path d="M523.3 94.5h8.4m-4.2-4.2v8.4"/><path d="M524.3 77.5h8.4m-4.2-4.2v8.4"/><path d="M525.3 80.5h8.4m-4.2-4.2v8.4"/><path d="M526.3 82.5h8.4m-4.2-4.2v8.4"/><path d="M526.3 98.5h8.4m-4.2-4.2v8.4"/><path d="M527.3 57.5h8.4m-4.2-4.2v8.4"/><path d="M528.3 76.5h8.4m-4.2-4.2v8.4"/><path d="M528.3 85.5h8.4m-4.2-4.2v8.4"/><path d="M529.3 84.5h8.4m-4.2-4.2v8.4"/><path d="M530.3 75.5h8.4m-4.2-4.2v8.4"/><path d="M531.3 61.5h8.4m-4.2-4.2v8.4"/><path d="M531.3 90.5h8.4m-4.2-4.2v8.4"/><path d="M532.3 86.5h8.4m-4.2-4.2v8.4"/><path d="M533.3 63.5h8.4m-4.2-4.2v8.4"/><path d="M534.3 57.5h8.4m-4.2-4.2v8.4"/><path d="M534.3 63.5h8.4m-4.2-4.2v8.4"/><path d="M535.3 65.5h8.4m-4.2-4.2v8.4"/><path d="M536.3 55.5h8.4m-4.2-4.2v8.4"/><path d="M537.3 70.5h8.4m-4.2-4.2v8.4"/><path d="M537.3 70.5h8.4m-4.2-4.2v8.4"/><path d="M538.3 68.5h8.4m-4.2-4.2v8.4"/><path d="M539.3 83.5h8.4m-4.2-4.2v8.4"/><path d="M540.3 84.5h8.4m-4.2-4.2v8.4"/><path d="M540.3 80.5h8.4m-4.2-4.2v8.4"/><path d="M541.3 71.5h8.4m-4.2-4.2v8.4"/><path d="M542.3 90.5h8.4m-4.2-4.2v8.4"/><path d="M542.3 83.5h8.4m-4.2-4.2v8.4"/><path d="M543.3 73.5h8.4m-4.2-4.2v8.4"/><path d="M544.3 96.5h8.4m-4.2-4.2v8.4"/><path d="M545.3 117.5h8.4m-4.2-4.2v8.4"/><path d="M545.3 100.5h8.4m-4.2-4.2v8.4"/><path d="M546.3 119.5h8.4m-4.2-4.2v8.4"/><path d="M547.3 124.5h8.4m-4.2-4.2v8.4"/><path d="M548.3 118.5h8.4m-4.2-4.2v8.4"/><path d="M548.3 139.5h8.4m-4.2-4.2v8.4"/><path d="M549.3 135.5h8.4m-4.2-4.2v8.4"/><path d="M550.3 154.5h8.4m-4.2-4.2v8.4"/><path d="M551.3 151.5h8.4m-4.2-4.2v8.4"/><path d="M551.3 169.5h8.4m-4.2-4.2v8.4"/><path d="M552.3 157.5h8.4m-4.2-4.2v8.4"/><path d="M553.3 158.5h8.4m-4.2-4.2v8.4"/><path d="M553.3 189.5h8.4m-4.2-4.2v8.4"/><path d="M554.3 182.5h8.4m-4.2-4.2v8.4"/><path d="M555.3 201.5h8.4m-4.2-4.2v8.4"/><path d="M556.3 218.5h8.4m-4.2-4.2v8.4"/><path d="M556.3 214.5h8.4m-4.2-4.2v8.4"/><path d="M557.3 225.5h8.4m-4.2-4.2v8.4"/><path d="M558.3 241.5h8.4m-4.2-4.2v8.4"/><path d="M559.3 247.5h8.4m-4.2-4.2v8.4"/><path d="M559.3 248.5h8.4m-4.2-4.2v8.4"/><path d="M560.3 247.5h8.4m-4.2-4.2v8.4"/><path d="M561.3 271.5h8.4m-4.2-4.2v8.4"/><path d="M562.3 272.5h8.4m-4.2-4.2v8.4"/><path d="M562.3 278.5h8.4m-4.2-4.2v8.4"/><path d="M563.3 298.5h8.4m-4.2-4.2v8.4"/><path d="M564.3 289.5h8.4m-4.2-4.2v8.4"/><path d="M565.3 303.5h8.4m-4.2-4.2v8.4"/><path d="M565.3 298.5h8.4m-4.2-4.2v8.4"/><path d="M566.3 304.5h8.4m-4.2-4.2v8.4"/><path d="M567.3 311.5h8.4m-4.2-4.2v8.4"/><path d="M567.3 325.5h8.4m-4.2-4.2v8.4"/><path d="M568.3 334.5h8.4m-4.2-4.2v8.4"/><path d="M569.3 333.5h8.4m-4.2-4.2v8.4"/><path d="M570.3 336.5h8.4m-4.2-4.2v8.4"/><path d="M570.3 344.5h8.4m-4.2-4.2v8.4"/><path d="M571.3 349.5h8.4m-4.2-4.2v8.4"/><path d="M572.3 357.5h8.4m-4.2-4.2v8.4"/><path d="M573.3 359.5h8.4m-4.2-4.2v8.4"/><path d="M573.3 361.5h8.4m-4.2-4.2v8.4"/><path d="M574.3 363.5h8.4m-4.2-4.2v8.4"/><path d="M575.3 377.5h8.4m-4.2-4.2v8.4"/><path d="M576.3 368.5h8.4m-4.2-4.2v8.4"/><path d="M576.3 380.5h8.4m-4.2-4.2v8.4"/><path d="M577.3 386.5h8.4m-4.2-4.2v8.4"/><path d="M578.3 386.5h8.4m-4.2-4.2v8.4"/><path d="M578.3 388.5h8.4m-4.2-4.2v8.4"/><path d="M579.3 404.5h8.4m-4.2-4.2v8.4"/><path d="M580.3 400.5h8.4m-4.2-4.2v8.4"/><path d="M581.3 388.5h8.4m-4.2-4.2v8.4"/><path d="M581.3 404.5h8.4m-4.2-4.2v8.4"/><path d="M582.3 413.5h8.4m-4.2-4.2v8.4"/><path d="M583.3 412.5h8.4m-4.2-4.2v8.4"/><path d="M584.3 421.5h8.4m-4.2-4.2v8.4"/><path d="M584.3 418.5h8.4m-4.2-4.2v8.4"/><path d="M585.3 423.5h8.4m-4.2-4.2v8.4"/><path d="M586.3 416.5h8.4m-4.2-4.2v8.4"/><path d="M587.3 427.5h8.4m-4.2-4.2v8.4"/><path d="M587.3 432.5h8.4m-4.2-4.2v8.4"/><path d="M588.3 427.5h8.4m-4.2-4.2v8.4"/><path d="M589.3 424.5h8.4m-4.2-4.2v8.4"/><path d="M590.3 425.5h8.4m-4.2-4.2v8.4"/><path d="M590.3 429.5h8.4m-4.2-4.2v8.4"/><path d="M591.3 433.5h8.4m-4.2-4.2v8.4"/><path d="M592.3 436.5h8.4m-4.2-4.2v8.4"/><path d="M592.3 441.5h8.4m-4.2-4.2v8.4"/><path d="M593.3 440.5h8.4m-4.2-4.2v8.4"/><path d="M594.3 447.5h8.4m-4.2-4.2v8.4"/><path d="M595.3 447.5h8.4m-4.2-4.2v8.4"/><path d="M595.3 441.5h8.4m-4.2-4.2v8.4"/><path d="M596.3 447.5h8.4m-4.2-4.2v8.4"/><path d="M597.3 446.5h8.4m-4.2-4.2v8.4"/><path d="M598.3 457.5h8.4m-4.2-4.2v8.4"/><path d="M598.3 457.5h8.4m-4.2-4.2v8.4"/><path d="M599.3 451.5h8.4m-4.2-4.2v8.4"/><path d="M600.3 454.5h8.4m-4.2-4.2v8.4"/><path d="M601.3 453.5h8.4m-4.2-4.2v8.4"/><path d="M601.3 453.5h8.4m-4.2-4.2v8.4"/><path d="M602.3 458.5h8.4m-4.2-4.2v8.4"/><path d="M603.3 459.5h8.4m-4.2-4.2v8.4"/><path d="M603.3 462.5h8.4m-4.2-4.2v8.4"/><path d="M604.3 463.5h8.4m-4.2-4.2v8.4"/><path d="M605.3 462.5h8.4m-4.2-4.2v8.4"/><path d="M606.3 465.5h8.4m-4.2-4.2v8.4"/><path d="M606.3 458.5h8.4m-4.2-4.2v8.4"/><path d="M607.3 461.5h8.4m-4.2-4.2v8.4"/><path d="M608.3 462.5h8.4m-4.2-4.2v8.4"/><path d="M609.3 460.5h8.4m-4.2-4.2v8.4"/><path d="M609.3 465.5h8.4m-4.2-4.2v8.4"/><path d="M610.3 467.5h8.4m-4.2-4.2v8.4"/><path d="M611.3 465.5h8.4m-4.2-4.2v8.4"/><path d="M612.3 465.5h8.4m-4.2-4.2v8.4"/><path d="M612.3 466.5h8.4m-4.2-4.2v8.4"/><path d="M613.3 465.5h8.4m-4.2-4.2v8.4"/><path d="M614.3 470.5h8.4m-4.2-4.2v8.4"/><path d="M615.3 469.5h8.4m-4.2-4.2v8.4"/><path d="M615.3 468.5h8.4m-4.2-4.2v8.4"/><path d="M616.3 467.5h8.4m-4.2-4.2v8.4"/><path d="M617.3 458.5h8.4m-4.2-4.2v8.4"/><path d="M617.3 467.5h8.4m-4.2-4.2v8.4"/><path d="M618.3 469.5h8.4m-4.2-4.2v8.4"/><path d="M619.3 467.5h8.4m-4.2-4.2v8.4"/><path d="M620.3 470.5h8.4m-4.2-4.2v8.4"/><path d="M620.3 473.5h8.4m-4.2-4.2v8.4"/><path d="M621.3 462.5h8.4m-4.2-4.2v8.4"/><path d="M622.3 462.5h8.4m-4.2-4.2v8.4"/><path d="M623.3 472.5h8.4m-4.2-4.2v8.4"/><path d="M623.3 463.5h8.4m-4.2-4.2v8.4"/><path d="M624.3 466.5h8.4m-4.2-4.2v8.4"/><path d="M625.3 464.5h8.4m-4.2-4.2v8.4"/><path d="M626.3 462.5h8.4m-4.2-4.2v8.4"/><path d="M626.3 463.5h8.4m-4.2-4.2v8.4"/><path d="M627.3 469.5h8.4m-4.2-4.2v8.4"/><path d="M628.3 471.5h8.4m-4.2-4.2v8.4"/><path d="M628.3 465.5h8.4m-4.2-4.2v8.4"/><path d="M629.3 464.5h8.4m-4.2-4.2v8.4"/><path d="M630.3 467.5h8.4m-4.2-4.2v8.4"/><path d="M631.3 465.5h8.4m-4.2-4.2v8.4"/><path d="M631.3 466.5h8.4m-4.2-4.2v8.4"/><path d="M632.3 468.5h8.4m-4.2-4.2v8.4"/><path d="M633.3 477.5h8.4m-4.2-4.2v8.4"/><path d="M634.3 468.5h8.4m-4.2-4.2v8.4"/><path d="M634.3 468.5h8.4m-4.2-4.2v8.4"/><path d="M635.3 474.5h8.4m-4.2-4.2v8.4"/><path d="M636.3 466.5h8.4m-4.2-4.2v8.4"/><path d="M637.3 470.5h8.4m-4.2-4.2v8.4"/><path d="M637.3 471.5h8.4m-4.2-4.2v8.4"/><path d="M638.3 468.5h8.4m-4.2-4.2v8.4"/><path d="M639.3 469.5h8.4m-4.2-4.2v8.4"/><path d="M640.3 475.5h8.4m-4.2-4.2v8.4"/><path d="M640.3 470.5h8.4m-4.2-4.2v8.4"/><path d="M641.3 474.5h8.4m-4.2-4.2v8.4"/><path d="M642.3 475.5h8.4m-4.2-4.2v8.4"/><path d="M642.3 466.5h8.4m-4.2-4.2v8.4"/><path d="M643.3 478.5h8.4m-4.2-4.2v8.4"/><path d="M644.3 469.5h8.4m-4.2-4.2v8.4"/><path d="M645.3 475.5h8.4m-4.2-4.2v8.4"/><path d="M645.3 483.5h8.4m-4.2-4.2v8.4"/><path d="M646.3 471.5h8.4m-4.2-4.2v8.4"/><path d="M647.3 473.5h8.4m-4.2-4.2v8.4"/><path d="M648.3 472.5h8.4m-4.2-4.2v8.4"/><path d="M648.3 477.5h8.4m-4.2-4.2v8.4"/><path d="M649.3 479.5h8.4m-4.2-4.2v8.4"/><path d="M650.3 476.5h8.4m-4.2-4.2v8.4"/><path d="M651.3 478.5h8.4m-4.2-4.2v8.4"/><path d="M651.3 482.5h8.4m-4.2-4.2v8.4"/><path d="M652.3 480.5h8.4m-4.2-4.2v8.4"/><path d="M653.3 485.5h8.4m-4.2-4.2v8.4"/><path d="M653.3 477.5h8.4m-4.2-4.2v8.4"/><path d="M654.3 473.5h8.4m-4.2-4.2v8.4"/><path d="M655.3 477.5h8.4m-4.2-4.2v8.4"/><path d="M656.3 485.5h8.4m-4.2-4.2v8.4"/><path d="M656.3 478.5h8.4m-4.2-4.2v8.4"/><path d="M657.3 482.5h8.4m-4.2-4.2v8.4"/><path d="M658.3 480.5h8.4m-4.2-4.2v8.4"/><path d="M659.3 477.5h8.4m-4.2-4.2v8.4"/><path d="M659.3 491.5h8.4m-4.2-4.2v8.4"/><path d="M660.3 486.5h8.4m-4.2-4.2v8.4"/><path d="M661.3 490.5h8.4m-4.2-4.2v8.4"/><path d="M662.3 487.5h8.4m-4.2-4.2v8.4"/><path d="M662.3 485.5h8.4m-4.2-4.2v8.4"/><path d="M663.3 482.5h8.4m-4.2-4.2v8.4"/><path d="M664.3 490.5h8.4m-4.2-4.2v8.4"/><path d="M665.3 483.5h8.4m-4.2-4.2v8.4"/><path d="M665.3 490.5h8.4m-4.2-4.2v8.4"/><path d="M666.3 486.5h8.4m-4.2-4.2v8.4"/><path d="M667.3 492.5h8.4m-4.2-4.2v8.4"/><path d="M667.3 490.5h8.4m-4.2-4.2v8.4"/><path d="M668.3 487.5h8.4m-4.2-4.2v8.4"/><path d="M669.3 491.5h8.4m-4.2-4.2v8.4"/><path d="M670.3 494.5h8.4m-4.2-4.2v8.4"/><path d="M670.3 489.5h8.4m-4.2-4.2v8.4"/><path d="M671.3 494.5h8.4m-4.2-4.2v8.4"/><path d="M672.3 494.5h8.4m-4.2-4.2v8.4"/><path d="M673.3 496.5h8.4m-4.2-4.2v8.4"/><path d="M673.3 491.5h8.4m-4.2-4.2v8.4"/><path d="M674.3 493.5h8.4m-4.2-4.2v8.4"/><path d="M675.3 496.5h8.4m-4.2-4.2v8.4"/><path d="M676.3 501.5h8.4m-4.2-4.2v8.4"/><path d="M676.3 495.5h8.4m-4.2-4.2v8.4"/><path d="M677.3 498.5h8.4m-4.2-4.2v8.4"/><path d="M678.3 496.5h8.4m-4.2-4.2v8.4"/><path d="M678.3 489.5h8.4m-4.2-4.2v8.4"/><path d="M679.3 498.5h8.4m-4.2-4.2v8.4"/><path d="M680.3 500.5h8.4m-4.2-4.2v8.4"/><path d="M681.3 496.5h8.4m-4.2-4.2v8.4"/><path d="M681.3 497.5h8.4m-4.2-4.2v8.4"/><path d="M682.3 501.5h8.4m-4.2-4.2v8.4"/><path d="M683.3 499.5h8.4m-4.2-4.2v8.4"/><path d="M684.3 501.5h8.4m-4.2-4.2v8.4"/><path d="M684.3 500.5h8.4m-4.2-4.2v8.4"/><path d="M685.3 502.5h8.4m-4.2-4.2v8.4"/><path d="M686.3 502.5h8.4m-4.2-4.2v8.4"/><path d="M687.3 500.5h8.4m-4.2-4.2v8.4"/><path d="M687.3 500.5h8.4m-4.2-4.2v8.4"/><path d="M688.3 505.5h8.4m-4.2-4.2v8.4"/><path d="M689.3 505.5h8.4m-4.2-4.2v8.4"/><path d="M690.3 502.5h8.4m-4.2-4.2v8.4"/><path d="M690.3 503.5h8.4m-4.2-4.2v8.4"/><path d="M691.3 505.5h8.4m-4.2-4.2v8.4"/><path d="M692.3 504.5h8.4m-4.2-4.2v8.4"/><path d="M692.3 504.5h8.4m-4.2-4.2v8.4"/><path d="M693.3 503.5h8.4m-4.2-4.2v8.4"/><path d="M694.3 509.5h8.4m-4.2-4.2v8.4"/><path d="M695.3 505.5h8.4m-4.2-4.2v8.4"/><path d="M695.3 507.5h8.4m-4.2-4.2v8.4"/><path d="M696.3 509.5h8.4m-4.2-4.2v8.4"/><path d="M697.3 501.5h8.4m-4.2-4.2v8.4"/><path d="M698.3 509.5h8.4m-4.2-4.2v8.4"/><path d="M698.3 509.5h8.4m-4.2-4.2v8.4"/><path d="M699.3 509.5h8.4m-4.2-4.2v8.4"/><path d="M700.3 508.5h8.4m-4.2-4.2v8.4"/><path d="M701.3 510.5h8.4m-4.2-4.2v8.4"/><path d="M701.3 510.5h8.4m-4.2-4.2v8.4"/><path d="M702.3 507.5h8.4m-4.2-4.2v8.4"/><path d="M703.3 509.5h8.4m-4.2-4.2v8.4"/><path d="M703.3 510.5h8.4m-4.2-4.2v8.4"/><path d="M704.3 505.5h8.4m-4.2-4.2v8.4"/><path d="M705.3 508.5h8.4m-4.2-4.2v8.4"/><path d="M706.3 510.5h8.4m-4.2-4.2v8.4"/><path d="M706.3 508.5h8.4m-4.2-4.2v8.4"/><path d="M707.3 513.5h8.4m-4.2-4.2v8.4"/><path d="M708.3 512.5h8.4m-4.2-4.2v8.4"/><path d="M709.3 508.5h8.4m-4.2-4.2v8.4"/><path d="M709.3 511.5h8.4m-4.2-4.2v8.4"/><path d="M710.3 509.5h8.4m-4.2-4.2v8.4"/><path d="M711.3 512.5h8.4m-4.2-4.2v8.4"/><path d="M712.3 514.5h8.4m-4.2-4.2v8.4"/><path d="M712.3 513.5h8.4m-4.2-4.2v8.4"/><path d="M713.3 514.5h8.4m-4.2-4.2v8.4"/><path d="M714.3 514.5h8.4m-4.2-4.2v8.4"/><path d="M715.3 513.5h8.4m-4.2-4.2v8.4"/><path d="M715.3 513.5h8.4m-4.2-4.2v8.4"/><path d="M716.3 515.5h8.4m-4.2-4.2v8.4"/><path d="M717.3 513.5h8.4m-4.2-4.2v8.4"/><path d="M717.3 517.5h8.4m-4.2-4.2v8.4"/><path d="M718.3 516.5h8.4m-4.2-4.2v8.4"/><path d="M719.3 513.5h8.4m-4.2-4.2v8.4"/><path d="M720.3 515.5h8.4m-4.2-4.2v8.4"/><path d="M720.3 516.5h8.4m-4.2-4.2v8.4"/><path d="M721.3 516.5h8.4m-4.2-4.2v8.4"/><path d="M722.3 513.5h8.4m-4.2-4.2v8.4"/><path d="M723.3 515.5h8.4m-4.2-4.2v8.4"/><path d="M723.3 518.5h8.4m-4.2-4.2v8.4"/><path d="M724.3 516.5h8.4m-4.2-4.2v8.4"/><path d="M725.3 517.5h8.4m-4.2-4.2v8.4"/><path d="M726.3 516.5h8.4m-4.2-4.2v8.4"/><path d="M726.3 515.5h8.4m-4.2-4.2v8.4"/><path d="M727.3 516.5h8.4m-4.2-4.2v8.4"/><path d="M728.3 517.5h8.4m-4.2-4.2v8.4"/><path d="M728.3 518.5h8.4m-4.2-4.2v8.4"/><path d="M729.3 518.5h8.4m-4.2-4.2v8.4"/><path d="M730.3 518.5h8.4m-4.2-4.2v8.4"/><path d="M731.3 516.5h8.4m-4.2-4.2v8.4"/><path d="M731.3 516.5h8.4m-4.2-4.2v8.4"/><path d="M732.3 518.5h8.4m-4.2-4.2v8.4"/><path d="M733.3 517.5h8.4m-4.2-4.2v8.4"/><path d="M734.3 517.5h8.4m-4.2-4.2v8.4"/><path d="M734.3 518.5h8.4m-4.2-4.2v8.4"/><path d="M735.3 518.5h8.4m-4.2-4.2v8.4"/><path d="M736.3 518.5h8.4m-4.2-4.2v8.4"/><path d="M737.3 519.5h8.4m-4.2-4.2v8.4"/><path d="M737.3 518.5h8.4m-4.2-4.2v8.4"/><path d="M738.3 518.5h8.4m-4.2-4.2v8.4"/><path d="M739.3 519.5h8.4m-4.2-4.2v8.4"/><path d="M740.3 516.5h8.4m-4.2-4.2v8.4"/><path d="M740.3 519.5h8.4m-4.2-4.2v8.4"/><path d="M741.3 519.5h8.4m-4.2-4.2v8.4"/><path d="M742.3 517.5h8.4m-4.2-4.2v8.4"/><path d="M742.3 519.5h8.4m-4.2-4.2v8.4"/><path d="M743.3 517.5h8.4m-4.2-4.2v8.4"/><path d="M744.3 517.5h8.4m-4.2-4.2v8.4"/><path d="M745.3 518.5h8.4m-4.2-4.2v8.4"/><path d="M745.3 520.5h8.4m-4.2-4.2v8.4"/><path d="M746.3 518.5h8.4m-4.2-4.2v8.4"/><path d="M747.3 518.5h8.4m-4.2-4.2v8.4"/><path d="M748.3 518.5h8.4m-4.2-4.2v8.4"/><path d="M748.3 518.5h8.4m-4.2-4.2v8.4"/><path d="M749.3 518.5h8.4m-4.2-4.2v8.4"/><path d="M750.3 518.5h8.4m-4.2-4.2v8.4"/><path d="M751.3 517.5h8.4m-4.2-4.2v8.4"/><path d="M751.3 519.5h8.4m-4.2-4.2v8.4"/><path d="M752.3 521.5h8.4m-4.2-4.2v8.4"/><path d="M753.3 519.5h8.4m-4.2-4.2v8.4"/><path d="M753.3 518.5h8.4m-4.2-4.2v8.4"/><path d="M754.3 518.5h8.4m-4.2-4.2v8.4"/><path d="M755.3 520.5h8.4m-4.2-4.2v8.4"/><path d="M756.3 520.5h8.4m-4.2-4.2v8.4"/><path d="M756.3 518.5h8.4m-4.2-4.2v8.4"/><path d="M757.3 519.5h8.4m-4.2-4.2v8.4"/><path d="M758.3 517.5h8.4m-4.2-4.2v8.4"/><path d="M759.3 519.5h8.4m-4.2-4.2v8.4"/><path d="M759.3 519.5h8.4m-4.2-4.2v8.4"/><path d="M760.3 518.5h8.4m-4.2-4.2v8.4"/><path d="M761.3 517.5h8.4m-4.2-4.2v8.4"/><path d="M762.3 520.5h8.4m-4.2-4.2v8.4"/><path d="M762.3 519.5h8.4m-4.2-4.2v8.4"/><path d="M763.3 519.5h8.4m-4.2-4.2v8.4"/><path d="M764.3 518.5h8.4m-4.2-4.2v8.4"/><path d="M765.3 519.5h8.4m-4.2-4.2v8.4"/><path d="M765.3 518.5h8.4m-4.2-4.2v8.4"/><path d="M766.3 520.5h8.4m-4.2-4.2v8.4"/><path d="M767.3 522.5h8.4m-4.2-4.2v8.4"/><path d="M767.3 519.5h8.4m-4.2-4.2v8.4"/><path d="M768.3 521.5h8.4m-4.2-4.2v8.4"/><path d="M769.3 520.5h8.4m-4.2-4.2v8.4"/><path d="M770.3 521.5h8.4m-4.2-4.2v8.4"/><path d="M770.3 520.5h8.4m-4.2-4.2v8.4"/><path d="M771.3 518.5h8.4m-4.2-4.2v8.4"/><path d="M772.3 522.5h8.4m-4.2-4.2v8.4"/><path d="M773.3 520.5h8.4m-4.2-4.2v8.4"/><path d="M773.3 520.5h8.4m-4.2-4.2v8.4"/><path d="M774.3 521.5h8.4m-4.2-4.2v8.4"/><path d="M775.3 522.5h8.4m-4.2-4.2v8.4"/><path d="M776.3 521.5h8.4m-4.2-4.2v8.4"/><path d="M776.3 519.5h8.4m-4.2-4.2v8.4"/><path d="M777.3 522.5h8.4m-4.2-4.2v8.4"/><path d="M778.3 521.5h8.4m-4.2-4.2v8.4"/><path d="M778.3 521.5h8.4m-4.2-4.2v8.4"/><path d="M779.3 519.5h8.4m-4.2-4.2v8.4"/><path d="M780.3 521.5h8.4m-4.2-4.2v8.4"/><path d="M781.3 521.5h8.4m-4.2-4.2v8.4"/><path d="M781.3 522.5h8.4m-4.2-4.2v8.4"/><path d="M782.3 522.5h8.4m-4.2-4.2v8.4"/><path d="M783.3 522.5h8.4m-4.2-4.2v8.4"/><path d="M784.3 522.5h8.4m-4.2-4.2v8.4"/><path d="M784.3 521.5h8.4m-4.2-4.2v8.4"/><path d="M785.3 522.5h8.4m-4.2-4.2v8.4"/><path d="M786.3 522.5h8.4m-4.2-4.2v8.4"/><path d="M787.3 523.5h8.4m-4.2-4.2v8.4"/><path d="M787.3 522.5h8.4m-4.2-4.2v8.4"/><path d="M788.3 521.5h8.4m-4.2-4.2v8.4"/><path d="M789.3 520.5h8.4m-4.2-4.2v8.4"/><path d="M790.3 521.5h8.4m-4.2-4.2v8.4"/><path d="M790.3 523.5h8.4m-4.2-4.2v8.4"/><path d="M791.3 523.5h8.4m-4.2-4.2v8.4"/><path d="M792.3 523.5h8.4m-4.2-4.2v8.4"/><path d="M792.3 523.5h8.4m-4.2-4.2v8.4"/><path d="M793.3 522.5h8.4m-4.2-4.2v8.4"/><path d="M794.3 523.5h8.4m-4.2-4.2v8.4"/><path d="M795.3 522.5h8.4m-4.2-4.2v8.4"/><path d="M795.3 523.5h8.4m-4.2-4.2v8.4"/><path d="M796.3 523.5h8.4m-4.2-4.2v8.4"/><path d="M797.3 523.5h8.4m-4.2-4.2v8.4"/><path d="M798.3 523.5h8.4m-4.2-4.2v8.4"/><path d="M798.3 523.5h8.4m-4.2-4.2v8.4"/><path d="M799.3 523.5h8.4m-4.2-4.2v8.4"/><path d="M800.3 522.5h8.4m-4.2-4.2v8.4"/><path d="M801.3 523.5h8.4m-4.2-4.2v8.4"/><path d="M801.3 523.5h8.4m-4.2-4.2v8.4"/><path d="M802.3 523.5h8.4m-4.2-4.2v8.4"/><path d="M803.3 522.5h8.4m-4.2-4.2v8.4"/><path d="M803.3 523.5h8.4m-4.2-4.2v8.4"/><path d="M804.3 523.5h8.4m-4.2-4.2v8.4"/><path d="M805.3 523.5h8.4m-4.2-4.2v8.4"/><path d="M806.3 523.5h8.4m-4.2-4.2v8.4"/><path d="M806.3 523.5h8.4m-4.2-4.2v8.4"/><path d="M807.3 524.5h8.4m-4.2-4.2v8.4"/><path d="M808.3 524.5h8.4m-4.2-4.2v8.4"/><path d="M809.3 524.5h8.4m-4.2-4.2v8.4"/><path d="M809.3 524.5h8.4m-4.2-4.2v8.4"/><path d="M810.3 524.5h8.4m-4.2-4.2v8.4"/><path d="M811.3 524.5h8.4m-4.2-4.2v8.4"/><path d="M812.3 523.5h8.4m-4.2-4.2v8.4"/><path d="M812.3 524.5h8.4m-4.2-4.2v8.4"/><path d="M813.3 524.5h8.4m-4.2-4.2v8.4"/><path d="M814.3 523.5h8.4m-4.2-4.2v8.4"/><path d="M815.3 524.5h8.4m-4.2-4.2v8.4"/><path d="M815.3 524.5h8.4m-4.2-4.2v8.4"/><path d="M816.3 524.5h8.4m-4.2-4.2v8.4"/><path d="M817.3 524.5h8.4m-4.2-4.2v8.4"/><path d="M817.3 524.5h8.4m-4.2-4.2v8.4"/><path d="M818.3 524.5h8.4m-4.2-4.2v8.4"/><path d="M819.3 524.5h8.4m-4.2-4.2v8.4"/><path d="M820.3 524.5h8.4m-4.2-4.2v8.4"/><path d="M820.3 524.5h8.4m-4.2-4.2v8.4"/><path d="M821.3 524.5h8.4m-4.2-4.2v8.4"/><path d="M822.3 524.5h8.4m-4.2-4.2v8.4"/><path d="M823.3 524.5h8.4m-4.2-4.2v8.4"/><path d="M823.3 524.5h8.4m-4.2-4.2v8.4"/><path d="M824.3 524.5h8.4m-4.2-4.2v8.4"/><path d="M825.3 524.5h8.4m-4.2-4.2v8.4"/><path d="M826.3 524.5h8.4m-4.2-4.2v8.4"/><path d="M826.3 524.5h8.4m-4.2-4.2v8.4"/><path d="M827.3 524.5h8.4m-4.2-4.2v8.4"/><path d="M828.3 524.5h8.4m-4.2-4.2v8.4"/><path d="M828.3 524.5h8.4m-4.2-4.2v8.4"/><path d="M829.3 524.5h8.4m-4.2-4.2v8.4"/><path d="M830.3 524.5h8.4m-4.2-4.2v8.4"/><path d="M831.3 524.5h8.4m-4.2-4.2v8.4"/>
<path d="M540 524.4V55.4" stroke-width="2.08" stroke-dasharray="7.71 3.33"/>
<path d="M535.8 520.5l8.34 8.34m0-8.34l-8.34 8.34"/>
<path d="M535.8 51.2l8.34 8.34m0-8.34l-8.34 8.34"/>
</g>
</g>
<rect x="74.5" y="32.5" width="911.0" height="515.0" fill="none" stroke="#000" stroke-width="1.11"/>
<path d="M74.5 547.5v4.86M302.5 547.5v4.86M530.5 547.5v4.86M757.5 547.5v4.86M985.5 547.5v4.86" stroke="#000" stroke-width="1.11" fill="none"/>
<path d="M143.5 547.5v2.78M183.5 547.5v2.78M211.5 547.5v2.78M233.5 547.5v2.78M251.5 547.5v2.78M267.5 547.5v2.78M280.5 547.5v2.78M292.5 547.5v2.78M370.5 547.5v2.78M411.5 547.5v2.78M439.5 547.5v2.78M461.5 547.5v2.78M479.5 547.5v2.78M494.5 547.5v2.78M507.5 547.5v2.78M519.5 547.5v2.78M598.5 547.5v2.78M638.5 547.5v2.78M666.5 547.5v2.78M689.5 547.5v2.78M707.5 547.5v2.78M722.5 547.5v2.78M735.5 547.5v2.78M747.5 547.5v2.78M826.5 547.5v2.78M866.5 547.5v2.78M894.5 547.5v2.78M916.5 547.5v2.78M934.5 547.5v2.78M949.5 547.5v2.78M963.5 547.5v2.78M974.5 547.5v2.78" stroke="#000" stroke-width=".83" fill="none"/>
<path d="M74.5 524.5h-4.86M74.5 463.5h-4.86M74.5 403.5h-4.86M74.5 343.5h-4.86M74.5 282.5h-4.86M74.5 222.5h-4.86M74.5 161.5h-4.86M74.5 101.5h-4.86M74.5 40.5h-4.86" stroke="#000" stroke-width="1.11" fill="none"/>
<text transform="translate(65.75 530.1) scale(.96 1)" text-anchor="end">0</text>
<text transform="translate(63.9 470.1) scale(.96 1)" text-anchor="end">250</text>
<text transform="translate(63.3 409.1) scale(.96 1)" text-anchor="end">500</text>
<text transform="translate(64.4 349.1) scale(.96 1)" text-anchor="end">750</text>
<text transform="translate(64.2 288.1) scale(.96 1)" text-anchor="end">1000</text>
<text transform="translate(64.2 228.1) scale(.96 1)" text-anchor="end">1250</text>
<text transform="translate(64.2 167.1) scale(.96 1)" text-anchor="end">1500</text>
<text transform="translate(64.2 107.1) scale(.96 1)" text-anchor="end">1750</text>
<text transform="translate(64.4 47.1) scale(.96 1)" text-anchor="end">2000</text>
<text x="58.2" y="572">10<tspan font-size="9.72" dx="-0.5" dy="-5.1">−5</tspan></text>
<text x="285.5" y="572">10<tspan font-size="9.72" dx="-0.5" dy="-5.1">−4</tspan></text>
<text x="513.7" y="572">10<tspan font-size="9.72" dx="-0.5" dy="-5.1">−3</tspan></text>
<text x="741.3" y="572">10<tspan font-size="9.72" dx="-0.5" dy="-5.1">−2</tspan></text>
<text x="968.8" y="572">10<tspan font-size="9.72" dx="-0.5" dy="-5.1">−1</tspan></text>
<text x="473.9" y="597.2">Count rate [<tspan font-style="italic">s</tspan><tspan font-size="9.72" dx="0.8" dy="-5.1">−1</tspan><tspan dy="5.1">]</tspan></text>
<text transform="translate(20.4 291.5) rotate(-90)" text-anchor="middle">Number of pixels in bin</text>
<text transform="translate(530 23.7) scale(1 1.07)" text-anchor="middle" font-size="16.67">Histogram for each observation</text>
<rect x="575.6" y="39.4" width="403" height="67" rx="2.8" fill="#fff" fill-opacity=".8" stroke="#ccc" stroke-opacity=".8" stroke-width="1.39"/>
<path d="M590.3 50.5h8.4m-4.2-4.2v8.4" stroke="#1f77b4" stroke-opacity=".8" stroke-width="1.39" fill="none"/>
<text x="618.4" y="56.3">POL0 (1997-09-11 20:33:29) with n_bins = 1279</text>
<path d="M590.3 71.5h8.4m-4.2-4.2v8.4" stroke="#ff7f0e" stroke-opacity=".8" stroke-width="1.39" fill="none"/>
<text x="618.4" y="77">POL60 (1997-09-11 23:10:41) with n_bins = 1105</text>
<path d="M590.3 92.5h8.4m-4.2-4.2v8.4" stroke="#2ca02c" stroke-opacity=".8" stroke-width="1.39" fill="none"/>
<text x="618.4" y="97.8">POL120 (1997-09-12 01:47:53) with n_bins = 1218</text>
</svg>
</body></html>
